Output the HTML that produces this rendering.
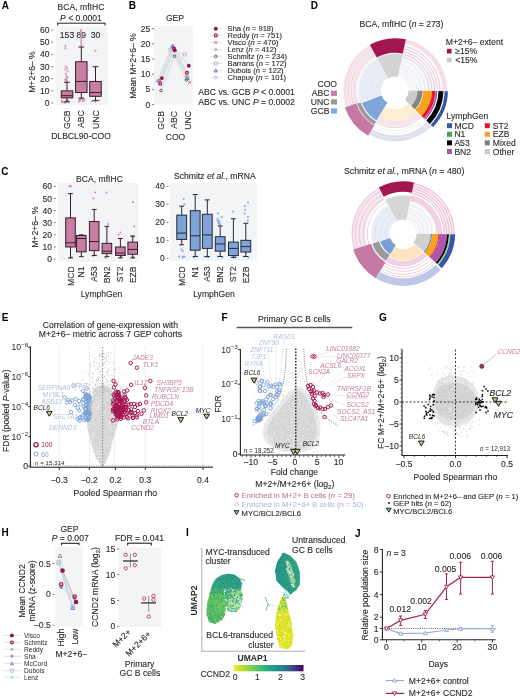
<!DOCTYPE html>
<html><head><meta charset="utf-8"><title>Figure</title>
<style>html,body{margin:0;padding:0;background:#fff;width:520px;height:698px;overflow:hidden}
svg{display:block;filter:blur(0.3px)}text{font-family:"Liberation Sans", sans-serif}</style></head>
<body>
<svg width="520" height="698" viewBox="0 0 520 698" font-family='"Liberation Sans", sans-serif' fill="#2b2b2b"><text x="1.8" y="8.9" font-size="10" fill="#000" font-weight="bold">A</text>
<text x="81" y="9.6" font-size="8.6" text-anchor="middle" stroke="#2b2b2b" stroke-width="0.12">BCA, mfIHC</text>
<text x="81" y="20.6" font-size="8.6" text-anchor="middle" stroke="#2b2b2b" stroke-width="0.12"><tspan font-style="italic">P</tspan> &lt; 0.0001</text>
<line x1="57.2" y1="23.2" x2="105.5" y2="23.2" stroke="#222" stroke-width="1"/>
<line x1="57.7" y1="23.2" x2="57.7" y2="25.6" stroke="#222" stroke-width="1"/>
<line x1="105" y1="23.2" x2="105" y2="25.6" stroke="#222" stroke-width="1"/>
<rect x="55.6" y="26.5" width="52" height="78.5" fill="#f3f4f6"/>
<text x="49.4" y="106.06" font-size="8.5" text-anchor="end" stroke="#2b2b2b" stroke-width="0.12">0</text>
<line x1="51.1" y1="103" x2="53.3" y2="103" stroke="#555" stroke-width="0.7"/>
<text x="49.4" y="93.89" font-size="8.5" text-anchor="end" stroke="#2b2b2b" stroke-width="0.12">10</text>
<line x1="51.1" y1="90.83" x2="53.3" y2="90.83" stroke="#555" stroke-width="0.7"/>
<text x="49.4" y="81.72" font-size="8.5" text-anchor="end" stroke="#2b2b2b" stroke-width="0.12">20</text>
<line x1="51.1" y1="78.66" x2="53.3" y2="78.66" stroke="#555" stroke-width="0.7"/>
<text x="49.4" y="69.55" font-size="8.5" text-anchor="end" stroke="#2b2b2b" stroke-width="0.12">30</text>
<line x1="51.1" y1="66.49" x2="53.3" y2="66.49" stroke="#555" stroke-width="0.7"/>
<text x="49.4" y="57.38" font-size="8.5" text-anchor="end" stroke="#2b2b2b" stroke-width="0.12">40</text>
<line x1="51.1" y1="54.32" x2="53.3" y2="54.32" stroke="#555" stroke-width="0.7"/>
<text x="49.4" y="45.21" font-size="8.5" text-anchor="end" stroke="#2b2b2b" stroke-width="0.12">50</text>
<line x1="51.1" y1="42.15" x2="53.3" y2="42.15" stroke="#555" stroke-width="0.7"/>
<text x="49.4" y="33.04" font-size="8.5" text-anchor="end" stroke="#2b2b2b" stroke-width="0.12">60</text>
<line x1="51.1" y1="29.98" x2="53.3" y2="29.98" stroke="#555" stroke-width="0.7"/>
<text x="67" y="38.2" font-size="8.6" text-anchor="middle" stroke="#2b2b2b" stroke-width="0.12">153</text>
<text x="81.3" y="38.2" font-size="8.6" text-anchor="middle" stroke="#2b2b2b" stroke-width="0.12">89</text>
<text x="95.5" y="38.2" font-size="8.6" text-anchor="middle" stroke="#2b2b2b" stroke-width="0.12">30</text>
<circle cx="65.06" cy="102.63" r="1" fill="#d38fb3"/>
<circle cx="63.16" cy="102.03" r="1" fill="#d38fb3"/>
<circle cx="68.66" cy="101.54" r="1" fill="#d38fb3"/>
<circle cx="62.3" cy="101.05" r="1" fill="#d38fb3"/>
<circle cx="67.39" cy="100.57" r="1" fill="#d38fb3"/>
<circle cx="65.52" cy="102.39" r="1" fill="#d38fb3"/>
<circle cx="62.14" cy="101.78" r="1" fill="#d38fb3"/>
<circle cx="67.08" cy="101.3" r="1" fill="#d38fb3"/>
<circle cx="61.91" cy="100.81" r="1" fill="#d38fb3"/>
<circle cx="66.27" cy="100.2" r="1" fill="#d38fb3"/>
<circle cx="62.27" cy="102.27" r="1" fill="#d38fb3"/>
<circle cx="62.5" cy="101.66" r="1" fill="#d38fb3"/>
<circle cx="66.1" cy="81.7" r="1" fill="#d38fb3"/>
<circle cx="67.15" cy="80.49" r="1" fill="#d38fb3"/>
<circle cx="65.32" cy="79.88" r="1" fill="#d38fb3"/>
<circle cx="65.58" cy="79.27" r="1" fill="#d38fb3"/>
<circle cx="66.63" cy="78.66" r="1" fill="#d38fb3"/>
<circle cx="67.46" cy="77.44" r="1" fill="#d38fb3"/>
<circle cx="66.5" cy="76.23" r="1" fill="#d38fb3"/>
<circle cx="66.03" cy="73.79" r="1" fill="#d38fb3"/>
<circle cx="67.54" cy="71.36" r="1" fill="#d38fb3"/>
<circle cx="65.12" cy="69.53" r="1" fill="#d38fb3"/>
<circle cx="67.23" cy="68.32" r="1" fill="#d38fb3"/>
<circle cx="65.75" cy="66.49" r="1" fill="#d38fb3"/>
<circle cx="65.38" cy="48.23" r="1" fill="#d38fb3"/>
<circle cx="65.31" cy="45.8" r="1" fill="#d38fb3"/>
<circle cx="81.07" cy="45.8" r="1" fill="#d38fb3"/>
<circle cx="81.68" cy="43.98" r="1" fill="#d38fb3"/>
<circle cx="80.92" cy="42.15" r="1" fill="#d38fb3"/>
<circle cx="81.4" cy="40.32" r="1" fill="#d38fb3"/>
<circle cx="81.47" cy="38.5" r="1" fill="#d38fb3"/>
<circle cx="81.15" cy="36.67" r="1" fill="#d38fb3"/>
<circle cx="81.36" cy="34.85" r="1" fill="#d38fb3"/>
<circle cx="80.78" cy="33.02" r="1" fill="#d38fb3"/>
<circle cx="80.77" cy="31.2" r="1" fill="#d38fb3"/>
<circle cx="80.95" cy="29.98" r="1" fill="#d38fb3"/>
<circle cx="83.28" cy="101.17" r="1" fill="#d38fb3"/>
<circle cx="80.5" cy="100.57" r="1" fill="#d38fb3"/>
<circle cx="79.26" cy="99.96" r="1" fill="#d38fb3"/>
<circle cx="82.24" cy="99.35" r="1" fill="#d38fb3"/>
<circle cx="80.79" cy="98.74" r="1" fill="#d38fb3"/>
<circle cx="79.1" cy="101.78" r="1" fill="#d38fb3"/>
<circle cx="84.54" cy="99.59" r="1" fill="#d38fb3"/>
<circle cx="83.49" cy="100.81" r="1" fill="#d38fb3"/>
<circle cx="95.5" cy="50.67" r="1" fill="#d38fb3"/>
<circle cx="92" cy="101.17" r="1" fill="#d38fb3"/>
<circle cx="99" cy="100.57" r="1" fill="#d38fb3"/>
<circle cx="95.5" cy="101.78" r="1" fill="#d38fb3"/>
<line x1="67" y1="82.31" x2="67" y2="90.83" stroke="#3a1d2c" stroke-width="1"/>
<line x1="67" y1="97.89" x2="67" y2="101.78" stroke="#3a1d2c" stroke-width="1"/>
<line x1="64.12" y1="82.31" x2="69.88" y2="82.31" stroke="#3a1d2c" stroke-width="1"/>
<line x1="64.12" y1="101.78" x2="69.88" y2="101.78" stroke="#3a1d2c" stroke-width="1"/>
<rect x="61.25" y="90.83" width="11.5" height="7.06" fill="#c67fa2" stroke="#3a1d2c" stroke-width="1"/>
<line x1="61.25" y1="95.7" x2="72.75" y2="95.7" stroke="#3a1d2c" stroke-width="1"/>
<line x1="81.3" y1="47.02" x2="81.3" y2="61.74" stroke="#3a1d2c" stroke-width="1"/>
<line x1="81.3" y1="92.53" x2="81.3" y2="98.13" stroke="#3a1d2c" stroke-width="1"/>
<line x1="78.42" y1="47.02" x2="84.17" y2="47.02" stroke="#3a1d2c" stroke-width="1"/>
<line x1="78.42" y1="98.13" x2="84.17" y2="98.13" stroke="#3a1d2c" stroke-width="1"/>
<rect x="75.55" y="61.74" width="11.5" height="30.79" fill="#c67fa2" stroke="#3a1d2c" stroke-width="1"/>
<line x1="75.55" y1="81.46" x2="87.05" y2="81.46" stroke="#3a1d2c" stroke-width="1"/>
<line x1="95.5" y1="66.73" x2="95.5" y2="81.46" stroke="#3a1d2c" stroke-width="1"/>
<line x1="95.5" y1="96.31" x2="95.5" y2="100.57" stroke="#3a1d2c" stroke-width="1"/>
<line x1="92.62" y1="66.73" x2="98.38" y2="66.73" stroke="#3a1d2c" stroke-width="1"/>
<line x1="92.62" y1="100.57" x2="98.38" y2="100.57" stroke="#3a1d2c" stroke-width="1"/>
<rect x="89.75" y="81.46" width="11.5" height="14.85" fill="#c67fa2" stroke="#3a1d2c" stroke-width="1"/>
<line x1="89.75" y1="92.53" x2="101.25" y2="92.53" stroke="#3a1d2c" stroke-width="1"/>
<text x="70.05" y="110.4" font-size="8.6" text-anchor="end" transform="rotate(-90 70.05 110.4)" stroke="#2b2b2b" stroke-width="0.12">GCB</text>
<text x="84.35" y="110.4" font-size="8.6" text-anchor="end" transform="rotate(-90 84.35 110.4)" stroke="#2b2b2b" stroke-width="0.12">ABC</text>
<text x="98.55" y="110.4" font-size="8.6" text-anchor="end" transform="rotate(-90 98.55 110.4)" stroke="#2b2b2b" stroke-width="0.12">UNC</text>
<text x="81" y="139.2" font-size="8.6" text-anchor="middle" stroke="#2b2b2b" stroke-width="0.12">DLBCL90-COO</text>
<text x="34.5" y="72" font-size="8.6" text-anchor="middle" transform="rotate(-90 34.5 72)" stroke="#2b2b2b" stroke-width="0.12">M+2+6– %</text>
<text x="128.7" y="8.8" font-size="10" fill="#000" font-weight="bold">B</text>
<text x="175" y="21" font-size="8.6" text-anchor="middle" stroke="#2b2b2b" stroke-width="0.12">GEP</text>
<rect x="153.5" y="26" width="39.2" height="78.5" fill="#f3f4f6"/>
<text x="150.2" y="107.66" font-size="8.5" text-anchor="end" stroke="#2b2b2b" stroke-width="0.12">0</text>
<line x1="151.9" y1="104.6" x2="154.1" y2="104.6" stroke="#555" stroke-width="0.7"/>
<text x="150.2" y="92.46" font-size="8.5" text-anchor="end" stroke="#2b2b2b" stroke-width="0.12">5</text>
<line x1="151.9" y1="89.4" x2="154.1" y2="89.4" stroke="#555" stroke-width="0.7"/>
<text x="150.2" y="77.26" font-size="8.5" text-anchor="end" stroke="#2b2b2b" stroke-width="0.12">10</text>
<line x1="151.9" y1="74.2" x2="154.1" y2="74.2" stroke="#555" stroke-width="0.7"/>
<text x="150.2" y="62.06" font-size="8.5" text-anchor="end" stroke="#2b2b2b" stroke-width="0.12">15</text>
<line x1="151.9" y1="59" x2="154.1" y2="59" stroke="#555" stroke-width="0.7"/>
<text x="150.2" y="46.86" font-size="8.5" text-anchor="end" stroke="#2b2b2b" stroke-width="0.12">20</text>
<line x1="151.9" y1="43.8" x2="154.1" y2="43.8" stroke="#555" stroke-width="0.7"/>
<text x="150.2" y="31.66" font-size="8.5" text-anchor="end" stroke="#2b2b2b" stroke-width="0.12">25</text>
<line x1="151.9" y1="28.6" x2="154.1" y2="28.6" stroke="#555" stroke-width="0.7"/>
<text x="164.05" y="111" font-size="8.6" text-anchor="end" transform="rotate(-90 164.05 111)" stroke="#2b2b2b" stroke-width="0.12">GCB</text>
<text x="177.35" y="111" font-size="8.6" text-anchor="end" transform="rotate(-90 177.35 111)" stroke="#2b2b2b" stroke-width="0.12">ABC</text>
<text x="191.05" y="111" font-size="8.6" text-anchor="end" transform="rotate(-90 191.05 111)" stroke="#2b2b2b" stroke-width="0.12">UNC</text>
<text x="175.5" y="140" font-size="8.6" text-anchor="middle" stroke="#2b2b2b" stroke-width="0.12">COO</text>
<text x="135.5" y="66" font-size="8.6" text-anchor="middle" transform="rotate(-90 135.5 66)" stroke="#2b2b2b" stroke-width="0.12">Mean M+2+6– %</text>
<path d="M161.9,78.1 L174.8,50.2 L188.8,65.7" fill="none" stroke="#dcdfe4" stroke-width="1.8" stroke-opacity="0.85"/>
<path d="M160.2,83.7 L173.9,48.5 L187.0,72.8" fill="none" stroke="#dcdfe4" stroke-width="1.8" stroke-opacity="0.85"/>
<path d="M160.5,80.5 L174.5,49.0 L189.8,82.4" fill="none" stroke="#dcdfe4" stroke-width="1.8" stroke-opacity="0.85"/>
<path d="M159.0,80.0 L173.0,47.5 L186.3,76.5" fill="none" stroke="#dcdfe4" stroke-width="1.8" stroke-opacity="0.85"/>
<path d="M161.0,90.6 L174.5,56.2 L186.4,79.9" fill="none" stroke="#dcdfe4" stroke-width="1.8" stroke-opacity="0.85"/>
<path d="M158.5,81.0 L170.5,49.8 L184.7,54.5" fill="none" stroke="#dcdfe4" stroke-width="1.8" stroke-opacity="0.85"/>
<path d="M158.0,80.7 L172.5,46.0 L187.5,78.0" fill="none" stroke="#dcdfe4" stroke-width="1.8" stroke-opacity="0.85"/>
<path d="M159.0,82.0 L173.5,46.5 L188.0,77.0" fill="none" stroke="#dcdfe4" stroke-width="1.8" stroke-opacity="0.85"/>
<path d="M157.34,80.86 L160.66,80.86 L159,83.66Z" fill="none" stroke="#bac6ea" stroke-width="0.9"/>
<path d="M171.84,45.36 L175.16,45.36 L173.5,48.16Z" fill="none" stroke="#bac6ea" stroke-width="0.9"/>
<path d="M186.34,75.86 L189.66,75.86 L188,78.66Z" fill="none" stroke="#bac6ea" stroke-width="0.9"/>
<path d="M156.34,81.95 L159.66,81.95 L158,79.12Z" fill="none" stroke="#5d6aa8" stroke-width="0.9"/>
<path d="M170.84,47.25 L174.16,47.25 L172.5,44.42Z" fill="none" stroke="#5d6aa8" stroke-width="0.9"/>
<path d="M185.84,79.25 L189.16,79.25 L187.5,76.42Z" fill="none" stroke="#5d6aa8" stroke-width="0.9"/>
<rect x="157.01" y="79.51" width="2.98" height="2.98" fill="none" stroke="#b3bde0" stroke-width="0.9"/>
<rect x="169.01" y="48.31" width="2.98" height="2.98" fill="none" stroke="#b3bde0" stroke-width="0.9"/>
<rect x="183.21" y="53.01" width="2.98" height="2.98" fill="none" stroke="#b3bde0" stroke-width="0.9"/>
<circle cx="161" cy="90.6" r="1.31" fill="none" stroke="#505050" stroke-width="0.9"/>
<circle cx="174.5" cy="56.2" r="1.31" fill="none" stroke="#505050" stroke-width="0.9"/>
<circle cx="186.4" cy="79.9" r="1.31" fill="none" stroke="#505050" stroke-width="0.9"/>
<circle cx="159" cy="80" r="1.05" fill="none" stroke="#909090" stroke-width="0.8"/>
<circle cx="173" cy="47.5" r="1.05" fill="none" stroke="#909090" stroke-width="0.8"/>
<circle cx="186.3" cy="76.5" r="1.05" fill="none" stroke="#909090" stroke-width="0.8"/>
<line x1="159.1" y1="79.1" x2="161.9" y2="81.9" stroke="#d05a88" stroke-width="0.9"/>
<line x1="159.1" y1="81.9" x2="161.9" y2="79.1" stroke="#d05a88" stroke-width="0.9"/>
<line x1="173.1" y1="47.6" x2="175.9" y2="50.4" stroke="#d05a88" stroke-width="0.9"/>
<line x1="173.1" y1="50.4" x2="175.9" y2="47.6" stroke="#d05a88" stroke-width="0.9"/>
<line x1="188.4" y1="81" x2="191.2" y2="83.8" stroke="#d05a88" stroke-width="0.9"/>
<line x1="188.4" y1="83.8" x2="191.2" y2="81" stroke="#d05a88" stroke-width="0.9"/>
<circle cx="160.2" cy="83.7" r="1.4" fill="none" stroke="#a61d50" stroke-width="1.25"/>
<circle cx="173.9" cy="48.5" r="1.4" fill="none" stroke="#a61d50" stroke-width="1.25"/>
<circle cx="187" cy="72.8" r="1.4" fill="none" stroke="#a61d50" stroke-width="1.25"/>
<circle cx="161.9" cy="78.1" r="1.93" fill="#8c1a4a"/>
<circle cx="174.8" cy="50.2" r="1.93" fill="#8c1a4a"/>
<circle cx="188.8" cy="65.7" r="1.93" fill="#8c1a4a"/>
<line x1="210.3" y1="28.7" x2="222" y2="28.7" stroke="#e2e4e8" stroke-width="1"/>
<circle cx="215.8" cy="28.7" r="1.98" fill="#8c1a4a"/>
<text x="227.6" y="31.3" font-size="7.55" stroke="#2b2b2b" stroke-width="0.12">Sha (<tspan font-style="italic">n</tspan> = 918)</text>
<line x1="210.3" y1="35.4" x2="222" y2="35.4" stroke="#e2e4e8" stroke-width="1"/>
<circle cx="215.8" cy="35.4" r="1.44" fill="none" stroke="#a61d50" stroke-width="1.25"/>
<text x="227.6" y="38" font-size="7.55" stroke="#2b2b2b" stroke-width="0.12">Reddy (<tspan font-style="italic">n</tspan> = 751)</text>
<line x1="210.3" y1="42.5" x2="222" y2="42.5" stroke="#e2e4e8" stroke-width="1"/>
<line x1="214.36" y1="41.06" x2="217.24" y2="43.94" stroke="#d05a88" stroke-width="0.9"/>
<line x1="214.36" y1="43.94" x2="217.24" y2="41.06" stroke="#d05a88" stroke-width="0.9"/>
<text x="227.6" y="45.1" font-size="7.55" stroke="#2b2b2b" stroke-width="0.12">Visco (<tspan font-style="italic">n</tspan> = 470)</text>
<line x1="210.3" y1="49.6" x2="222" y2="49.6" stroke="#e2e4e8" stroke-width="1"/>
<circle cx="215.8" cy="49.6" r="1.08" fill="none" stroke="#909090" stroke-width="0.8"/>
<text x="227.6" y="52.2" font-size="7.55" stroke="#2b2b2b" stroke-width="0.12">Lenz (<tspan font-style="italic">n</tspan> = 412)</text>
<line x1="210.3" y1="56.4" x2="222" y2="56.4" stroke="#e2e4e8" stroke-width="1"/>
<circle cx="215.8" cy="56.4" r="1.35" fill="none" stroke="#505050" stroke-width="0.9"/>
<text x="227.6" y="59" font-size="7.55" stroke="#2b2b2b" stroke-width="0.12">Schmitz (<tspan font-style="italic">n</tspan> = 234)</text>
<line x1="210.3" y1="63.5" x2="222" y2="63.5" stroke="#e2e4e8" stroke-width="1"/>
<rect x="214.27" y="61.97" width="3.06" height="3.06" fill="none" stroke="#b3bde0" stroke-width="0.9"/>
<text x="227.6" y="66.1" font-size="7.55" stroke="#2b2b2b" stroke-width="0.12">Barrans (<tspan font-style="italic">n</tspan> = 172)</text>
<line x1="210.3" y1="70.6" x2="222" y2="70.6" stroke="#e2e4e8" stroke-width="1"/>
<path d="M214.09,71.88 L217.51,71.88 L215.8,68.98Z" fill="none" stroke="#5d6aa8" stroke-width="0.9"/>
<text x="227.6" y="73.2" font-size="7.55" stroke="#2b2b2b" stroke-width="0.12">Dubois (<tspan font-style="italic">n</tspan> = 122)</text>
<line x1="210.3" y1="77.7" x2="222" y2="77.7" stroke="#e2e4e8" stroke-width="1"/>
<path d="M214.09,76.53 L217.51,76.53 L215.8,79.41Z" fill="none" stroke="#bac6ea" stroke-width="0.9"/>
<text x="227.6" y="80.3" font-size="7.55" stroke="#2b2b2b" stroke-width="0.12">Chapuy (<tspan font-style="italic">n</tspan> = 101)</text>
<text x="198.3" y="94.8" font-size="8.65" stroke="#2b2b2b" stroke-width="0.12">ABC vs. GCB <tspan font-style="italic">P</tspan> &lt; 0.0001</text>
<text x="198.3" y="105" font-size="8.65" stroke="#2b2b2b" stroke-width="0.12">ABC vs. UNC <tspan font-style="italic">P</tspan> = 0.0002</text>
<text x="1.2" y="174.6" font-size="10" fill="#000" font-weight="bold">C</text>
<text x="99.5" y="181.5" font-size="8.6" text-anchor="middle" stroke="#2b2b2b" stroke-width="0.12">BCA, mfIHC</text>
<rect x="57.9" y="183" width="80.7" height="78.8" fill="#f3f4f6"/>
<text x="52" y="262.16" font-size="8.5" text-anchor="end" stroke="#2b2b2b" stroke-width="0.12">0</text>
<line x1="53.7" y1="259.1" x2="55.9" y2="259.1" stroke="#555" stroke-width="0.7"/>
<text x="52" y="250.04" font-size="8.5" text-anchor="end" stroke="#2b2b2b" stroke-width="0.12">10</text>
<line x1="53.7" y1="246.98" x2="55.9" y2="246.98" stroke="#555" stroke-width="0.7"/>
<text x="52" y="237.92" font-size="8.5" text-anchor="end" stroke="#2b2b2b" stroke-width="0.12">20</text>
<line x1="53.7" y1="234.86" x2="55.9" y2="234.86" stroke="#555" stroke-width="0.7"/>
<text x="52" y="225.8" font-size="8.5" text-anchor="end" stroke="#2b2b2b" stroke-width="0.12">30</text>
<line x1="53.7" y1="222.74" x2="55.9" y2="222.74" stroke="#555" stroke-width="0.7"/>
<text x="52" y="213.68" font-size="8.5" text-anchor="end" stroke="#2b2b2b" stroke-width="0.12">40</text>
<line x1="53.7" y1="210.62" x2="55.9" y2="210.62" stroke="#555" stroke-width="0.7"/>
<text x="52" y="201.56" font-size="8.5" text-anchor="end" stroke="#2b2b2b" stroke-width="0.12">50</text>
<line x1="53.7" y1="198.5" x2="55.9" y2="198.5" stroke="#555" stroke-width="0.7"/>
<text x="52" y="189.44" font-size="8.5" text-anchor="end" stroke="#2b2b2b" stroke-width="0.12">60</text>
<line x1="53.7" y1="186.38" x2="55.9" y2="186.38" stroke="#555" stroke-width="0.7"/>
<circle cx="69.48" cy="186.38" r="1.05" fill="#d38fb3"/>
<circle cx="70.8" cy="186.14" r="1.05" fill="#d38fb3"/>
<circle cx="70.6" cy="257.89" r="1.05" fill="#d38fb3"/>
<circle cx="72" cy="257.28" r="1.05" fill="#d38fb3"/>
<line x1="70.5" y1="193.65" x2="70.5" y2="217.89" stroke="#3a1d2c" stroke-width="1"/>
<line x1="70.5" y1="246.98" x2="70.5" y2="257.89" stroke="#3a1d2c" stroke-width="1"/>
<line x1="68.1" y1="193.65" x2="72.9" y2="193.65" stroke="#3a1d2c" stroke-width="1"/>
<line x1="68.1" y1="257.89" x2="72.9" y2="257.89" stroke="#3a1d2c" stroke-width="1"/>
<rect x="65.7" y="217.89" width="9.6" height="29.09" fill="#c67fa2" stroke="#3a1d2c" stroke-width="1"/>
<line x1="65.7" y1="242.74" x2="75.3" y2="242.74" stroke="#3a1d2c" stroke-width="1"/>
<line x1="81.3" y1="234.86" x2="81.3" y2="235.47" stroke="#3a1d2c" stroke-width="1"/>
<line x1="81.3" y1="251.83" x2="81.3" y2="256.68" stroke="#3a1d2c" stroke-width="1"/>
<line x1="78.9" y1="234.86" x2="83.7" y2="234.86" stroke="#3a1d2c" stroke-width="1"/>
<line x1="78.9" y1="256.68" x2="83.7" y2="256.68" stroke="#3a1d2c" stroke-width="1"/>
<rect x="76.5" y="235.47" width="9.6" height="16.36" fill="#c67fa2" stroke="#3a1d2c" stroke-width="1"/>
<line x1="76.5" y1="238.5" x2="86.1" y2="238.5" stroke="#3a1d2c" stroke-width="1"/>
<circle cx="95.12" cy="192.44" r="1.05" fill="#d38fb3"/>
<circle cx="93.35" cy="198.5" r="1.05" fill="#d38fb3"/>
<circle cx="96.12" cy="255.46" r="1.05" fill="#d38fb3"/>
<circle cx="92.67" cy="256.07" r="1.05" fill="#d38fb3"/>
<line x1="94.2" y1="209.41" x2="94.2" y2="221.53" stroke="#3a1d2c" stroke-width="1"/>
<line x1="94.2" y1="250.62" x2="94.2" y2="255.46" stroke="#3a1d2c" stroke-width="1"/>
<line x1="91.8" y1="209.41" x2="96.6" y2="209.41" stroke="#3a1d2c" stroke-width="1"/>
<line x1="91.8" y1="255.46" x2="96.6" y2="255.46" stroke="#3a1d2c" stroke-width="1"/>
<rect x="89.4" y="221.53" width="9.6" height="29.09" fill="#c67fa2" stroke="#3a1d2c" stroke-width="1"/>
<line x1="89.4" y1="241.53" x2="99" y2="241.53" stroke="#3a1d2c" stroke-width="1"/>
<circle cx="106.57" cy="192.44" r="1.05" fill="#d38fb3"/>
<circle cx="107.93" cy="223.95" r="1.05" fill="#d38fb3"/>
<circle cx="105.51" cy="257.89" r="1.05" fill="#d38fb3"/>
<line x1="106.9" y1="226.38" x2="106.9" y2="243.34" stroke="#3a1d2c" stroke-width="1"/>
<line x1="106.9" y1="253.65" x2="106.9" y2="256.68" stroke="#3a1d2c" stroke-width="1"/>
<line x1="104.5" y1="226.38" x2="109.3" y2="226.38" stroke="#3a1d2c" stroke-width="1"/>
<line x1="104.5" y1="256.68" x2="109.3" y2="256.68" stroke="#3a1d2c" stroke-width="1"/>
<rect x="102.1" y="243.34" width="9.6" height="10.3" fill="#c67fa2" stroke="#3a1d2c" stroke-width="1"/>
<line x1="102.1" y1="251.22" x2="111.7" y2="251.22" stroke="#3a1d2c" stroke-width="1"/>
<circle cx="120.36" cy="232.44" r="1.05" fill="#d38fb3"/>
<circle cx="118.56" cy="234.86" r="1.05" fill="#d38fb3"/>
<circle cx="121.07" cy="257.28" r="1.05" fill="#d38fb3"/>
<circle cx="121.46" cy="256.68" r="1.05" fill="#d38fb3"/>
<line x1="120.4" y1="238.5" x2="120.4" y2="246.98" stroke="#3a1d2c" stroke-width="1"/>
<line x1="120.4" y1="255.46" x2="120.4" y2="257.89" stroke="#3a1d2c" stroke-width="1"/>
<line x1="118" y1="238.5" x2="122.8" y2="238.5" stroke="#3a1d2c" stroke-width="1"/>
<line x1="118" y1="257.89" x2="122.8" y2="257.89" stroke="#3a1d2c" stroke-width="1"/>
<rect x="115.6" y="246.98" width="9.6" height="8.48" fill="#c67fa2" stroke="#3a1d2c" stroke-width="1"/>
<line x1="115.6" y1="253.04" x2="125.2" y2="253.04" stroke="#3a1d2c" stroke-width="1"/>
<circle cx="132.99" cy="202.14" r="1.05" fill="#d38fb3"/>
<circle cx="134.2" cy="226.38" r="1.05" fill="#d38fb3"/>
<circle cx="131.95" cy="236.07" r="1.05" fill="#d38fb3"/>
<circle cx="133.48" cy="237.28" r="1.05" fill="#d38fb3"/>
<circle cx="133.08" cy="257.89" r="1.05" fill="#d38fb3"/>
<circle cx="133.02" cy="257.28" r="1.05" fill="#d38fb3"/>
<circle cx="132.52" cy="256.68" r="1.05" fill="#d38fb3"/>
<line x1="132.7" y1="236.07" x2="132.7" y2="242.13" stroke="#3a1d2c" stroke-width="1"/>
<line x1="132.7" y1="254.25" x2="132.7" y2="257.89" stroke="#3a1d2c" stroke-width="1"/>
<line x1="130.3" y1="236.07" x2="135.1" y2="236.07" stroke="#3a1d2c" stroke-width="1"/>
<line x1="130.3" y1="257.89" x2="135.1" y2="257.89" stroke="#3a1d2c" stroke-width="1"/>
<rect x="127.9" y="242.13" width="9.6" height="12.12" fill="#c67fa2" stroke="#3a1d2c" stroke-width="1"/>
<line x1="127.9" y1="249.4" x2="137.5" y2="249.4" stroke="#3a1d2c" stroke-width="1"/>
<text x="73.55" y="266.4" font-size="8.6" text-anchor="end" transform="rotate(-90 73.55 266.4)" stroke="#2b2b2b" stroke-width="0.12">MCD</text>
<text x="84.35" y="266.4" font-size="8.6" text-anchor="end" transform="rotate(-90 84.35 266.4)" stroke="#2b2b2b" stroke-width="0.12">N1</text>
<text x="97.25" y="266.4" font-size="8.6" text-anchor="end" transform="rotate(-90 97.25 266.4)" stroke="#2b2b2b" stroke-width="0.12">A53</text>
<text x="109.95" y="266.4" font-size="8.6" text-anchor="end" transform="rotate(-90 109.95 266.4)" stroke="#2b2b2b" stroke-width="0.12">BN2</text>
<text x="123.45" y="266.4" font-size="8.6" text-anchor="end" transform="rotate(-90 123.45 266.4)" stroke="#2b2b2b" stroke-width="0.12">ST2</text>
<text x="135.75" y="266.4" font-size="8.6" text-anchor="end" transform="rotate(-90 135.75 266.4)" stroke="#2b2b2b" stroke-width="0.12">EZB</text>
<text x="101.5" y="296.6" font-size="8.6" text-anchor="middle" stroke="#2b2b2b" stroke-width="0.12">LymphGen</text>
<text x="38" y="227" font-size="8.6" text-anchor="middle" transform="rotate(-90 38 227)" stroke="#2b2b2b" stroke-width="0.12">M+2+6– %</text>
<text x="214.8" y="178.8" font-size="8.6" text-anchor="middle" stroke="#2b2b2b" stroke-width="0.12">Schmitz <tspan font-style="italic">et al.</tspan>, mRNA</text>
<rect x="170.2" y="183" width="86.8" height="78" fill="#f3f4f6"/>
<text x="164.8" y="261.36" font-size="8.5" text-anchor="end" stroke="#2b2b2b" stroke-width="0.12">0</text>
<line x1="166.5" y1="258.3" x2="168.7" y2="258.3" stroke="#555" stroke-width="0.7"/>
<text x="164.8" y="243.39" font-size="8.5" text-anchor="end" stroke="#2b2b2b" stroke-width="0.12">10</text>
<line x1="166.5" y1="240.33" x2="168.7" y2="240.33" stroke="#555" stroke-width="0.7"/>
<text x="164.8" y="225.41" font-size="8.5" text-anchor="end" stroke="#2b2b2b" stroke-width="0.12">20</text>
<line x1="166.5" y1="222.35" x2="168.7" y2="222.35" stroke="#555" stroke-width="0.7"/>
<text x="164.8" y="207.44" font-size="8.5" text-anchor="end" stroke="#2b2b2b" stroke-width="0.12">30</text>
<line x1="166.5" y1="204.38" x2="168.7" y2="204.38" stroke="#555" stroke-width="0.7"/>
<text x="164.8" y="189.46" font-size="8.5" text-anchor="end" stroke="#2b2b2b" stroke-width="0.12">40</text>
<line x1="166.5" y1="186.4" x2="168.7" y2="186.4" stroke="#555" stroke-width="0.7"/>
<circle cx="183.74" cy="198.98" r="1.1" fill="#8fb0de"/>
<circle cx="184.37" cy="204.38" r="1.1" fill="#8fb0de"/>
<circle cx="181.54" cy="249.31" r="1.1" fill="#8fb0de"/>
<circle cx="182.68" cy="251.11" r="1.1" fill="#8fb0de"/>
<circle cx="179.06" cy="256.5" r="1.1" fill="#8fb0de"/>
<circle cx="182.91" cy="256.5" r="1.1" fill="#8fb0de"/>
<circle cx="182.58" cy="257.4" r="1.1" fill="#8fb0de"/>
<circle cx="184.66" cy="256.86" r="1.1" fill="#8fb0de"/>
<line x1="181.7" y1="206.17" x2="181.7" y2="215.16" stroke="#1f2a3a" stroke-width="1"/>
<line x1="181.7" y1="239.43" x2="181.7" y2="244.82" stroke="#1f2a3a" stroke-width="1"/>
<line x1="179.25" y1="206.17" x2="184.15" y2="206.17" stroke="#1f2a3a" stroke-width="1"/>
<line x1="179.25" y1="244.82" x2="184.15" y2="244.82" stroke="#1f2a3a" stroke-width="1"/>
<rect x="176.8" y="215.16" width="9.8" height="24.27" fill="#7fa3d6" stroke="#1f2a3a" stroke-width="1"/>
<line x1="176.8" y1="233.14" x2="186.6" y2="233.14" stroke="#1f2a3a" stroke-width="1"/>
<circle cx="197.13" cy="256.5" r="1.1" fill="#8fb0de"/>
<circle cx="193.91" cy="257.22" r="1.1" fill="#8fb0de"/>
<line x1="195.2" y1="194.49" x2="195.2" y2="210.67" stroke="#1f2a3a" stroke-width="1"/>
<line x1="195.2" y1="250.21" x2="195.2" y2="256.5" stroke="#1f2a3a" stroke-width="1"/>
<line x1="192.75" y1="194.49" x2="197.65" y2="194.49" stroke="#1f2a3a" stroke-width="1"/>
<line x1="192.75" y1="256.5" x2="197.65" y2="256.5" stroke="#1f2a3a" stroke-width="1"/>
<rect x="190.3" y="210.67" width="9.8" height="39.54" fill="#7fa3d6" stroke="#1f2a3a" stroke-width="1"/>
<line x1="190.3" y1="235.83" x2="200.1" y2="235.83" stroke="#1f2a3a" stroke-width="1"/>
<circle cx="206.61" cy="256.5" r="1.1" fill="#8fb0de"/>
<circle cx="208.31" cy="257.4" r="1.1" fill="#8fb0de"/>
<circle cx="204.44" cy="256.86" r="1.1" fill="#8fb0de"/>
<line x1="207.3" y1="199.88" x2="207.3" y2="214.26" stroke="#1f2a3a" stroke-width="1"/>
<line x1="207.3" y1="248.41" x2="207.3" y2="256.5" stroke="#1f2a3a" stroke-width="1"/>
<line x1="204.85" y1="199.88" x2="209.75" y2="199.88" stroke="#1f2a3a" stroke-width="1"/>
<line x1="204.85" y1="256.5" x2="209.75" y2="256.5" stroke="#1f2a3a" stroke-width="1"/>
<rect x="202.4" y="214.26" width="9.8" height="34.15" fill="#7fa3d6" stroke="#1f2a3a" stroke-width="1"/>
<line x1="202.4" y1="234.93" x2="212.2" y2="234.93" stroke="#1f2a3a" stroke-width="1"/>
<circle cx="219.97" cy="224.15" r="1.1" fill="#8fb0de"/>
<circle cx="218.21" cy="222.35" r="1.1" fill="#8fb0de"/>
<circle cx="217.9" cy="220.55" r="1.1" fill="#8fb0de"/>
<circle cx="217.55" cy="218.75" r="1.1" fill="#8fb0de"/>
<circle cx="221.81" cy="216.96" r="1.1" fill="#8fb0de"/>
<circle cx="217.98" cy="213.36" r="1.1" fill="#8fb0de"/>
<circle cx="218.69" cy="223.25" r="1.1" fill="#8fb0de"/>
<circle cx="219.55" cy="221.45" r="1.1" fill="#8fb0de"/>
<circle cx="222.43" cy="257.4" r="1.1" fill="#8fb0de"/>
<circle cx="217.68" cy="256.5" r="1.1" fill="#8fb0de"/>
<line x1="220.2" y1="225.94" x2="220.2" y2="236.73" stroke="#1f2a3a" stroke-width="1"/>
<line x1="220.2" y1="251.11" x2="220.2" y2="256.5" stroke="#1f2a3a" stroke-width="1"/>
<line x1="217.75" y1="225.94" x2="222.65" y2="225.94" stroke="#1f2a3a" stroke-width="1"/>
<line x1="217.75" y1="256.5" x2="222.65" y2="256.5" stroke="#1f2a3a" stroke-width="1"/>
<rect x="215.3" y="236.73" width="9.8" height="14.38" fill="#7fa3d6" stroke="#1f2a3a" stroke-width="1"/>
<line x1="215.3" y1="243.92" x2="225.1" y2="243.92" stroke="#1f2a3a" stroke-width="1"/>
<circle cx="233.1" cy="211.56" r="1.1" fill="#8fb0de"/>
<circle cx="233.7" cy="257.76" r="1.1" fill="#8fb0de"/>
<circle cx="235.7" cy="257.22" r="1.1" fill="#8fb0de"/>
<line x1="233.4" y1="218.75" x2="233.4" y2="242.12" stroke="#1f2a3a" stroke-width="1"/>
<line x1="233.4" y1="255.6" x2="233.4" y2="257.4" stroke="#1f2a3a" stroke-width="1"/>
<line x1="230.95" y1="218.75" x2="235.85" y2="218.75" stroke="#1f2a3a" stroke-width="1"/>
<line x1="230.95" y1="257.4" x2="235.85" y2="257.4" stroke="#1f2a3a" stroke-width="1"/>
<rect x="228.5" y="242.12" width="9.8" height="13.48" fill="#7fa3d6" stroke="#1f2a3a" stroke-width="1"/>
<line x1="228.5" y1="248.41" x2="238.3" y2="248.41" stroke="#1f2a3a" stroke-width="1"/>
<circle cx="247.72" cy="220.55" r="1.1" fill="#8fb0de"/>
<circle cx="247.98" cy="216.96" r="1.1" fill="#8fb0de"/>
<circle cx="244.47" cy="213.36" r="1.1" fill="#8fb0de"/>
<circle cx="245.29" cy="209.77" r="1.1" fill="#8fb0de"/>
<circle cx="244.95" cy="206.17" r="1.1" fill="#8fb0de"/>
<circle cx="248.11" cy="202.58" r="1.1" fill="#8fb0de"/>
<circle cx="248.55" cy="257.4" r="1.1" fill="#8fb0de"/>
<circle cx="243.71" cy="256.5" r="1.1" fill="#8fb0de"/>
<line x1="245.8" y1="223.25" x2="245.8" y2="240.33" stroke="#1f2a3a" stroke-width="1"/>
<line x1="245.8" y1="252.01" x2="245.8" y2="256.5" stroke="#1f2a3a" stroke-width="1"/>
<line x1="243.35" y1="223.25" x2="248.25" y2="223.25" stroke="#1f2a3a" stroke-width="1"/>
<line x1="243.35" y1="256.5" x2="248.25" y2="256.5" stroke="#1f2a3a" stroke-width="1"/>
<rect x="240.9" y="240.33" width="9.8" height="11.68" fill="#7fa3d6" stroke="#1f2a3a" stroke-width="1"/>
<line x1="240.9" y1="246.62" x2="250.7" y2="246.62" stroke="#1f2a3a" stroke-width="1"/>
<text x="184.75" y="266.4" font-size="8.6" text-anchor="end" transform="rotate(-90 184.75 266.4)" stroke="#2b2b2b" stroke-width="0.12">MCD</text>
<text x="198.25" y="266.4" font-size="8.6" text-anchor="end" transform="rotate(-90 198.25 266.4)" stroke="#2b2b2b" stroke-width="0.12">N1</text>
<text x="210.35" y="266.4" font-size="8.6" text-anchor="end" transform="rotate(-90 210.35 266.4)" stroke="#2b2b2b" stroke-width="0.12">A53</text>
<text x="223.25" y="266.4" font-size="8.6" text-anchor="end" transform="rotate(-90 223.25 266.4)" stroke="#2b2b2b" stroke-width="0.12">BN2</text>
<text x="236.45" y="266.4" font-size="8.6" text-anchor="end" transform="rotate(-90 236.45 266.4)" stroke="#2b2b2b" stroke-width="0.12">ST2</text>
<text x="248.85" y="266.4" font-size="8.6" text-anchor="end" transform="rotate(-90 248.85 266.4)" stroke="#2b2b2b" stroke-width="0.12">EZB</text>
<text x="214" y="297.3" font-size="8.6" text-anchor="middle" stroke="#2b2b2b" stroke-width="0.12">LymphGen</text>
<text x="310.8" y="8.7" font-size="10" fill="#000" font-weight="bold">D</text>
<text x="401.5" y="26.8" font-size="8.6" text-anchor="middle" stroke="#2b2b2b" stroke-width="0.12">BCA, mfIHC (<tspan font-style="italic">n</tspan> = 273)</text>
<text x="404.2" y="173.6" font-size="8.75" text-anchor="middle" stroke="#2b2b2b" stroke-width="0.12">Schmitz <tspan font-style="italic">et al.</tspan>, mRNA (<tspan font-style="italic">n</tspan> = 480)</text>
<text x="337" y="87.3" font-size="8.6" text-anchor="end" stroke="#2b2b2b" stroke-width="0.12">COO</text>
<text x="329.4" y="96.2" font-size="8.6" text-anchor="end" stroke="#2b2b2b" stroke-width="0.12">ABC</text>
<rect x="331" y="90.7" width="6" height="5.2" fill="#c87fa8"/>
<text x="329.4" y="104.8" font-size="8.6" text-anchor="end" stroke="#2b2b2b" stroke-width="0.12">UNC</text>
<rect x="331" y="99.3" width="6" height="5.2" fill="#9a9a9a"/>
<text x="329.4" y="113.8" font-size="8.6" text-anchor="end" stroke="#2b2b2b" stroke-width="0.12">GCB</text>
<rect x="331" y="108.3" width="6" height="5.2" fill="#84a8d8"/>
<text x="445.8" y="45.4" font-size="8.6" stroke="#2b2b2b" stroke-width="0.12">M+2+6– extent</text>
<rect x="446.9" y="48.8" width="4.7" height="4.7" fill="#a0174d"/>
<text x="455.2" y="53.8" font-size="8.6" stroke="#2b2b2b" stroke-width="0.12">≥15%</text>
<rect x="446.9" y="57.7" width="4.7" height="4.7" fill="#c9cacb"/>
<text x="455.2" y="63" font-size="8.6" stroke="#2b2b2b" stroke-width="0.12">&lt;15%</text>
<text x="446.5" y="118.8" font-size="8.6" stroke="#2b2b2b" stroke-width="0.12">LymphGen</text>
<rect x="447" y="123.2" width="5" height="5" fill="#3b56a6"/>
<text x="454.4" y="128.8" font-size="8.6" stroke="#2b2b2b" stroke-width="0.12">MCD</text>
<rect x="484.8" y="123.2" width="5" height="5" fill="#e3192a"/>
<text x="492.8" y="128.8" font-size="8.6" stroke="#2b2b2b" stroke-width="0.12">ST2</text>
<rect x="447" y="131.8" width="5" height="5" fill="#3fa64a"/>
<text x="454.4" y="137.4" font-size="8.6" stroke="#2b2b2b" stroke-width="0.12">N1</text>
<rect x="484.8" y="131.8" width="5" height="5" fill="#f4a021"/>
<text x="492.8" y="137.4" font-size="8.6" stroke="#2b2b2b" stroke-width="0.12">EZB</text>
<rect x="447" y="140.4" width="5" height="5" fill="#000"/>
<text x="454.4" y="146" font-size="8.6" stroke="#2b2b2b" stroke-width="0.12">A53</text>
<rect x="484.8" y="140.4" width="5" height="5" fill="#7d7d7d"/>
<text x="492.8" y="146" font-size="8.6" stroke="#2b2b2b" stroke-width="0.12">Mixed</text>
<rect x="447" y="149" width="5" height="5" fill="#a45aa8"/>
<text x="454.4" y="154.6" font-size="8.6" stroke="#2b2b2b" stroke-width="0.12">BN2</text>
<rect x="484.8" y="149" width="5" height="5" fill="#c8c8c8"/>
<text x="492.8" y="154.6" font-size="8.6" stroke="#2b2b2b" stroke-width="0.12">Other</text>
<path d="M404.92,39.16 A52,52 0 0 1 446.99,91.11 L442.49,91.03 A47.5,47.5 0 0 0 404.06,43.57Z" fill="#f3d3e2" fill-opacity="0.75"/>
<path d="M403.78,45.05 A46,46 0 0 1 440.99,91 L408,90.43 A13,13 0 0 0 397.48,77.44Z" fill="#f4f5f8" fill-opacity="0.7"/>
<path d="M416.94,111.39 A30.5,30.5 0 0 1 379.29,116.34 L385.21,106.49 A19,19 0 0 0 408.67,103.4Z" fill="#fbe3b8" fill-opacity="0.6"/>
<path d="M421.26,115.56 A36.5,36.5 0 0 1 376.2,121.49 L379.29,116.34 A30.5,30.5 0 0 0 416.94,111.39Z" fill="#f2d3e0" fill-opacity="0.6"/>
<path d="M432.05,125.97 A51.5,51.5 0 0 1 368.48,134.34 L371.82,128.77 A45,45 0 0 0 427.37,121.46Z" fill="#dde1eb" fill-opacity="0.8"/>
<path d="M346.14,107.99 A52,52 0 0 1 369.79,44.72 L376.58,56.96 A38,38 0 0 0 359.29,103.2Z" fill="#f4e0ea" fill-opacity="0.7"/>
<path d="M360.23,102.85 A37,37 0 0 1 377.06,57.84 L388.21,77.96 A14,14 0 0 0 381.84,94.99Z" fill="#e5ebf5" fill-opacity="0.85"/>
<path d="M401.49,56.82 A34,34 0 0 1 428.99,90.79" fill="none" stroke="#e2aec8" stroke-width="0.75" stroke-opacity="0.85"/>
<path d="M402.02,54.08 A36.8,36.8 0 0 1 431.79,90.84" fill="none" stroke="#e2aec8" stroke-width="0.75" stroke-opacity="0.85"/>
<path d="M402.54,51.43 A39.5,39.5 0 0 1 434.49,90.89" fill="none" stroke="#e2aec8" stroke-width="0.75" stroke-opacity="0.85"/>
<path d="M403.05,48.78 A42.2,42.2 0 0 1 437.19,90.94" fill="none" stroke="#e2aec8" stroke-width="0.75" stroke-opacity="0.85"/>
<path d="M403.59,46.03 A45,45 0 0 1 439.99,90.99" fill="none" stroke="#e2aec8" stroke-width="0.75" stroke-opacity="0.85"/>
<path d="M398.43,72.53 A18,18 0 0 1 413,90.51" fill="none" stroke="#e6e8ee" stroke-width="0.7" stroke-opacity="0.9"/>
<path d="M399.2,68.6 A22,22 0 0 1 417,90.58" fill="none" stroke="#e6e8ee" stroke-width="0.7" stroke-opacity="0.9"/>
<path d="M399.96,64.68 A26,26 0 0 1 421,90.65" fill="none" stroke="#e6e8ee" stroke-width="0.7" stroke-opacity="0.9"/>
<path d="M400.72,60.75 A30,30 0 0 1 425,90.72" fill="none" stroke="#e6e8ee" stroke-width="0.7" stroke-opacity="0.9"/>
<path d="M421.98,116.25 A37.5,37.5 0 0 1 375.69,122.34" fill="none" stroke="#dcc3cf" stroke-width="0.9" stroke-opacity="0.8"/>
<path d="M424.13,118.33 A40.5,40.5 0 0 1 374.14,124.92" fill="none" stroke="#eedde5" stroke-width="0.7" stroke-opacity="0.8"/>
<path d="M425.93,120.07 A43,43 0 0 1 372.85,127.06" fill="none" stroke="#eedde5" stroke-width="0.7" stroke-opacity="0.8"/>
<path d="M428.45,122.5 A46.5,46.5 0 0 1 371.05,130.06" fill="none" stroke="#cfd5e2" stroke-width="0.8" stroke-opacity="0.8"/>
<path d="M430.61,124.59 A49.5,49.5 0 0 1 369.51,132.63" fill="none" stroke="#cfd5e2" stroke-width="0.8" stroke-opacity="0.8"/>
<path d="M356.47,104.22 A41,41 0 0 1 375.12,54.34" fill="none" stroke="#ecc3d6" stroke-width="0.7" stroke-opacity="0.8"/>
<path d="M353.65,105.25 A44,44 0 0 1 373.67,51.72" fill="none" stroke="#ecc3d6" stroke-width="0.7" stroke-opacity="0.8"/>
<path d="M350.83,106.27 A47,47 0 0 1 372.21,49.09" fill="none" stroke="#ecc3d6" stroke-width="0.7" stroke-opacity="0.8"/>
<path d="M348.02,107.3 A50,50 0 0 1 370.76,46.47" fill="none" stroke="#ecc3d6" stroke-width="0.7" stroke-opacity="0.8"/>
<path d="M377.15,96.7 A19,19 0 0 1 385.79,73.58" fill="none" stroke="#d5deee" stroke-width="0.6" stroke-opacity="0.7"/>
<path d="M372.45,98.41 A24,24 0 0 1 383.36,69.21" fill="none" stroke="#d5deee" stroke-width="0.6" stroke-opacity="0.7"/>
<path d="M367.75,100.12 A29,29 0 0 1 380.94,64.84" fill="none" stroke="#d5deee" stroke-width="0.6" stroke-opacity="0.7"/>
<path d="M363.52,101.66 A33.5,33.5 0 0 1 378.76,60.9" fill="none" stroke="#d5deee" stroke-width="0.6" stroke-opacity="0.7"/>
<path d="M369.79,44.72 A52,52 0 0 1 405.81,39.34 L402.8,53.52 A37.5,37.5 0 0 0 376.82,57.4Z" fill="#a2154e"/>
<path d="M377.3,58.28 A36.5,36.5 0 0 1 402.59,54.5 L397.81,77 A13.5,13.5 0 0 0 388.46,78.39Z" fill="#d3d3d4"/>
<path d="M417.5,90.67 A22.5,22.5 0 0 1 411.19,105.83 L404.57,99.44 A13.3,13.3 0 0 0 408.3,90.48Z" fill="#cbcbcb"/>
<path d="M422.69,90.78 A27.7,27.7 0 0 1 414.93,109.44 L411.19,105.83 A22.5,22.5 0 0 0 417.5,90.67Z" fill="#858585"/>
<path d="M431.99,90.97 A37,37 0 0 1 421.62,115.9 L415.36,109.86 A28.3,28.3 0 0 0 423.29,90.79Z" fill="#f6a320"/>
<path d="M435.39,91.05 A40.4,40.4 0 0 1 424.06,118.26 L421.62,115.9 A37,37 0 0 0 431.99,90.97Z" fill="#e3192a"/>
<path d="M437.49,91.09 A42.5,42.5 0 0 1 425.57,119.72 L424.06,118.26 A40.4,40.4 0 0 0 435.39,91.05Z" fill="#b562b2"/>
<path d="M443.49,91.22 A48.5,48.5 0 0 1 429.89,123.89 L426.36,120.49 A43.6,43.6 0 0 0 438.59,91.11Z" fill="#050505"/>
<path d="M447.99,91.31 A53,53 0 0 1 433.13,127.02 L430.68,124.66 A49.6,49.6 0 0 0 444.59,91.24Z" fill="#3a55a5"/>
<path d="M368.1,135.87 A53,53 0 0 1 344.89,107.46 L356.23,103.55 A41,41 0 0 0 374.19,125.53Z" fill="#c57aa5"/>
<path d="M374.24,124.74 A40.3,40.3 0 0 1 357.01,103.65 L360.59,102.38 A36.5,36.5 0 0 0 376.2,121.49Z" fill="#9b9b9b"/>
<path d="M376.45,120.47 A35.5,35.5 0 0 1 361.86,102.92 L381.46,95.4 A14.5,14.5 0 0 0 387.42,102.56Z" fill="#7fa5d9"/>
<circle cx="395" cy="90.2" r="13.5" fill="#fff"/>
<path d="M413.12,182.36 A52,52 0 0 1 455.19,234.31 L444.19,234.12 A41,41 0 0 0 411.02,193.15Z" fill="#f6e2ec" fill-opacity="0.6"/>
<path d="M410.64,195.12 A39,39 0 0 1 442.19,234.08 L436.19,233.98 A33,33 0 0 0 409.5,201.01Z" fill="#ebbfd5" fill-opacity="0.7"/>
<path d="M409.31,201.99 A32,32 0 0 1 435.2,233.96 L416.2,233.63 A13,13 0 0 0 405.68,220.64Z" fill="#f4f5f8" fill-opacity="0.7"/>
<path d="M422.62,252.16 A27,27 0 0 1 389.29,256.54 L394.96,247.11 A16,16 0 0 0 414.71,244.51Z" fill="#fbd9a6" fill-opacity="0.7"/>
<path d="M426.94,256.32 A33,33 0 0 1 386.2,261.69 L389.04,256.97 A27.5,27.5 0 0 0 422.98,252.5Z" fill="#e9bcd6" fill-opacity="0.7"/>
<path d="M440.97,269.87 A52.5,52.5 0 0 1 376.16,278.4 L380.02,271.97 A45,45 0 0 0 435.57,264.66Z" fill="#b9c5e7" fill-opacity="0.95"/>
<path d="M354.03,250.33 A52,52 0 0 1 377.99,187.92 L384.78,200.16 A38,38 0 0 0 367.27,245.77Z" fill="#f3dde8" fill-opacity="0.7"/>
<path d="M372.94,243.82 A32,32 0 0 1 387.69,205.41 L396.41,221.16 A14,14 0 0 0 389.96,237.96Z" fill="#e4ebf6" fill-opacity="0.85"/>
<path d="M411.02,193.15 A41,41 0 0 1 444.19,234.12" fill="none" stroke="#dca0bf" stroke-width="0.8" stroke-opacity="0.85"/>
<path d="M411.5,190.7 A43.5,43.5 0 0 1 446.69,234.16" fill="none" stroke="#dca0bf" stroke-width="0.8" stroke-opacity="0.85"/>
<path d="M411.98,188.25 A46,46 0 0 1 449.19,234.2" fill="none" stroke="#dca0bf" stroke-width="0.8" stroke-opacity="0.85"/>
<path d="M412.45,185.79 A48.5,48.5 0 0 1 451.69,234.25" fill="none" stroke="#dca0bf" stroke-width="0.8" stroke-opacity="0.85"/>
<path d="M412.93,183.34 A51,51 0 0 1 454.19,234.29" fill="none" stroke="#dca0bf" stroke-width="0.8" stroke-opacity="0.85"/>
<path d="M406.44,216.71 A17,17 0 0 1 420.2,233.7" fill="none" stroke="#e2e4ea" stroke-width="0.8" stroke-opacity="0.9"/>
<path d="M407.21,212.79 A21,21 0 0 1 424.2,233.77" fill="none" stroke="#e2e4ea" stroke-width="0.8" stroke-opacity="0.9"/>
<path d="M407.97,208.86 A25,25 0 0 1 428.2,233.84" fill="none" stroke="#e2e4ea" stroke-width="0.8" stroke-opacity="0.9"/>
<path d="M408.73,204.93 A29,29 0 0 1 432.2,233.91" fill="none" stroke="#e2e4ea" stroke-width="0.8" stroke-opacity="0.9"/>
<path d="M428.38,257.71 A35,35 0 0 1 385.17,263.4" fill="none" stroke="#e0b0c8" stroke-width="0.8" stroke-opacity="0.75"/>
<path d="M430.53,259.8 A38,38 0 0 1 383.63,265.97" fill="none" stroke="#e0b0c8" stroke-width="0.8" stroke-opacity="0.75"/>
<path d="M432.69,261.88 A41,41 0 0 1 382.08,268.54" fill="none" stroke="#e0b0c8" stroke-width="0.8" stroke-opacity="0.75"/>
<path d="M434.49,263.62 A43.5,43.5 0 0 1 380.8,270.69" fill="none" stroke="#e0b0c8" stroke-width="0.8" stroke-opacity="0.75"/>
<path d="M369.16,245.12 A36,36 0 0 1 385.75,201.91" fill="none" stroke="#e7b5cc" stroke-width="0.8" stroke-opacity="0.8"/>
<path d="M365.38,246.42 A40,40 0 0 1 383.81,198.42" fill="none" stroke="#e7b5cc" stroke-width="0.8" stroke-opacity="0.8"/>
<path d="M361.6,247.72 A44,44 0 0 1 381.87,194.92" fill="none" stroke="#e7b5cc" stroke-width="0.8" stroke-opacity="0.8"/>
<path d="M357.82,249.03 A48,48 0 0 1 379.93,191.42" fill="none" stroke="#e7b5cc" stroke-width="0.8" stroke-opacity="0.8"/>
<path d="M354.98,250 A51,51 0 0 1 378.47,188.79" fill="none" stroke="#e7b5cc" stroke-width="0.8" stroke-opacity="0.8"/>
<path d="M386.18,239.26 A18,18 0 0 1 394.47,217.66" fill="none" stroke="#d2dcef" stroke-width="0.7" stroke-opacity="0.7"/>
<path d="M381.45,240.89 A23,23 0 0 1 392.05,213.28" fill="none" stroke="#d2dcef" stroke-width="0.7" stroke-opacity="0.7"/>
<path d="M376.73,242.52 A28,28 0 0 1 389.63,208.91" fill="none" stroke="#d2dcef" stroke-width="0.7" stroke-opacity="0.7"/>
<path d="M378.79,187.49 A52,52 0 0 1 414.01,182.54 L411.83,192.81 A41.5,41.5 0 0 0 383.72,196.76Z" fill="#a2154e"/>
<path d="M385.36,199.85 A38,38 0 0 1 411.1,196.23 L406.11,219.71 A14,14 0 0 0 396.63,221.04Z" fill="#d6d6d7"/>
<path d="M430.7,233.88 A27.5,27.5 0 0 1 423.64,251.8 L413.23,242.43 A13.5,13.5 0 0 0 416.7,233.64Z" fill="#d0d0d0"/>
<path d="M432.1,233.9 A28.9,28.9 0 0 1 424.68,252.74 L423.64,251.8 A27.5,27.5 0 0 0 430.7,233.88Z" fill="#858585"/>
<path d="M438.39,234.01 A35.2,35.2 0 0 1 429.36,256.95 L424.68,252.74 A28.9,28.9 0 0 0 432.1,233.9Z" fill="#f6a320"/>
<path d="M439.29,234.03 A36.1,36.1 0 0 1 430.03,257.56 L429.36,256.95 A35.2,35.2 0 0 0 438.39,234.01Z" fill="#e3192a"/>
<path d="M446.99,234.16 A43.8,43.8 0 0 1 435.75,262.71 L430.03,257.56 A36.1,36.1 0 0 0 439.29,234.03Z" fill="#b055b0"/>
<path d="M448.99,234.2 A45.8,45.8 0 0 1 437.24,264.05 L435.75,262.71 A43.8,43.8 0 0 0 446.99,234.16Z" fill="#050505"/>
<path d="M450.39,234.22 A47.2,47.2 0 0 1 438.28,264.98 L437.24,264.05 A45.8,45.8 0 0 0 448.99,234.2Z" fill="#8fd08f"/>
<path d="M455.19,234.31 A52,52 0 0 1 441.84,268.19 L438.28,264.98 A47.2,47.2 0 0 0 450.39,234.22Z" fill="#3a55a5"/>
<path d="M375.77,278.16 A52.5,52.5 0 0 1 353.27,249.62 L371.05,243.84 A33.8,33.8 0 0 0 385.54,262.22Z" fill="#c57aa5"/>
<path d="M385.98,260.96 A32.5,32.5 0 0 1 372.38,243.71 L379.02,241.49 A25.5,25.5 0 0 0 389.69,255.03Z" fill="#9b9b9b"/>
<path d="M390.22,254.18 A24.5,24.5 0 0 1 380.11,241.58 L390,238.07 A14,14 0 0 0 395.78,245.27Z" fill="#7aa0d8"/>
<circle cx="403.2" cy="233.4" r="13" fill="#fff"/>
<text x="1.8" y="320.7" font-size="10" fill="#000" font-weight="bold">E</text>
<text x="110.4" y="327.6" font-size="8.6" text-anchor="middle" stroke="#2b2b2b" stroke-width="0.12">Correlation of gene-expression with</text>
<text x="110.4" y="336.8" font-size="8.6" text-anchor="middle" stroke="#2b2b2b" stroke-width="0.12">M+2+6– metric across 7 GEP cohorts</text>
<line x1="59.2" y1="347" x2="59.2" y2="467" stroke="#b8b8b8" stroke-width="0.6" stroke-dasharray="1,1.4"/>
<line x1="89.5" y1="347" x2="89.5" y2="467" stroke="#b8b8b8" stroke-width="0.6" stroke-dasharray="1,1.4"/>
<line x1="114.6" y1="347" x2="114.6" y2="467" stroke="#b8b8b8" stroke-width="0.6" stroke-dasharray="1,1.4"/>
<line x1="145.2" y1="347" x2="145.2" y2="467" stroke="#b8b8b8" stroke-width="0.6" stroke-dasharray="1,1.4"/>
<line x1="202.8" y1="347" x2="202.8" y2="467" stroke="#b8b8b8" stroke-width="0.6" stroke-dasharray="1,1.4"/>
<path d="M98,386 L94,389 L92.5,393 L90,401 L87.8,412 L87,424 L88.5,434 L90.8,442 L93.5,451 L96.4,459 L100,464 L102.6,467 L105,464 L107.6,459 L110.5,451 L112.2,442 L115,434 L117.5,424 L117,412 L115.5,401 L113.5,393 L111,389 L107,386 L103,385Z" fill="#d9d9d9"/>
<path d="M103.9,389.5h0M109.9,379.4h0M102.9,374.8h0M103.9,382.1h0M79.5,383.9h0M95.4,369.9h0M92.8,378.1h0M90.9,391.6h0M105.0,358.2h0M90.1,364.1h0M99.2,383.0h0M105.3,372.7h0M110.4,391.5h0M106.2,389.8h0M103.2,384.9h0M103.1,390.1h0M101.2,391.0h0M104.0,359.7h0M106.8,373.7h0M109.5,384.6h0M117.5,384.1h0M108.5,352.4h0M98.9,380.2h0M103.5,391.0h0M101.2,384.8h0M124.6,389.8h0M117.0,391.9h0M98.7,390.1h0M113.9,376.9h0M103.9,353.4h0M101.5,360.4h0M95.4,384.0h0M105.0,389.7h0M94.9,365.2h0M106.3,385.2h0M110.5,353.0h0M106.7,361.0h0M90.8,367.3h0M92.5,388.3h0M101.8,391.9h0M101.3,391.9h0M108.8,369.8h0M92.9,354.7h0M106.2,352.8h0M100.9,354.8h0M109.0,388.3h0M107.5,389.0h0M110.0,358.2h0M94.4,361.7h0M104.2,364.0h0M89.2,391.2h0M90.8,365.0h0M98.7,366.7h0M103.6,364.6h0M111.9,385.1h0M77.2,382.9h0M118.4,382.7h0M96.9,389.7h0M117.8,390.5h0M114.2,363.6h0M118.1,390.2h0M83.3,371.6h0M97.7,384.5h0M101.1,392.0h0M99.9,353.8h0M98.2,356.2h0M115.8,381.5h0M87.7,388.7h0M100.8,387.6h0M109.1,375.0h0M97.9,387.4h0M104.3,357.6h0M89.6,384.4h0M104.8,357.9h0M113.3,382.0h0M97.7,377.4h0M112.8,377.8h0M104.4,389.4h0M105.2,392.0h0M97.4,379.9h0M97.0,368.1h0M100.2,378.0h0M103.9,376.4h0M98.9,376.2h0M99.8,387.7h0M118.8,378.5h0M104.2,376.1h0M81.4,381.1h0M93.0,373.7h0M102.7,369.8h0M92.1,380.8h0M101.9,355.7h0M115.8,369.4h0M84.5,387.4h0M118.9,376.2h0M95.2,390.3h0M98.7,390.6h0M104.5,387.9h0M92.9,391.4h0M94.9,358.4h0M99.4,390.0h0M86.3,390.2h0M106.8,359.2h0M102.3,355.0h0M72.3,382.8h0M104.5,362.2h0M90.3,389.8h0M108.3,384.9h0M95.4,389.1h0M120.4,391.9h0M101.4,376.4h0M103.7,385.2h0M100.0,373.2h0M102.9,353.0h0M106.0,364.7h0M102.1,387.2h0M104.7,391.8h0M93.9,390.5h0M118.7,381.9h0M92.2,387.4h0M116.2,390.1h0M98.3,369.4h0M119.9,391.2h0M108.4,381.8h0M118.6,391.4h0M99.6,363.9h0M105.7,391.2h0M101.3,360.4h0M96.4,380.7h0M108.3,356.6h0M112.3,387.1h0M112.9,388.0h0M105.0,390.8h0M106.1,388.9h0M96.8,385.8h0M120.3,386.5h0M106.8,378.8h0M113.0,391.9h0M121.0,387.6h0M104.4,376.6h0M76.6,389.2h0M107.3,390.9h0M96.4,362.9h0M105.9,362.0h0M87.4,383.0h0M102.7,353.1h0M111.2,384.8h0M91.9,372.6h0M101.1,382.6h0M106.2,390.5h0M102.5,391.4h0M94.1,389.8h0M116.0,391.2h0M89.8,370.9h0M103.4,386.7h0M111.1,380.5h0M94.5,389.9h0M104.2,354.4h0M99.9,353.7h0M102.0,354.2h0M102.7,385.9h0M103.4,383.4h0M96.6,379.9h0M102.9,378.6h0M102.5,392.0h0M107.4,382.8h0M113.1,391.8h0M104.3,388.1h0M88.9,375.0h0M100.6,371.5h0M108.3,368.6h0M95.7,385.3h0M107.0,353.0h0M113.4,372.3h0M115.9,391.7h0M88.1,373.0h0M104.5,367.6h0M98.4,377.8h0M111.6,378.6h0M93.5,362.5h0M113.2,375.1h0M95.9,369.7h0M108.9,388.2h0M104.1,384.2h0M110.7,390.9h0M94.0,373.0h0M99.0,373.1h0M90.4,392.0h0M102.9,364.1h0M92.3,377.3h0M114.8,371.5h0M110.3,387.6h0M101.1,391.4h0M121.3,388.8h0M111.1,367.3h0M101.2,383.4h0M96.4,379.7h0M90.0,373.5h0M107.0,372.3h0M105.9,387.5h0M99.9,367.1h0M117.6,392.0h0M100.9,391.5h0M114.2,369.8h0M100.6,370.6h0M114.3,380.3h0M118.0,380.2h0M119.3,389.0h0M103.7,353.4h0M102.3,380.5h0M109.6,362.9h0M100.6,387.1h0M110.4,388.7h0M101.0,375.2h0M74.5,390.2h0M98.7,390.4h0M90.1,362.9h0M102.1,369.2h0M113.4,388.2h0M94.7,391.9h0M89.9,392.0h0M103.6,386.1h0M97.3,390.3h0M107.3,361.7h0M103.1,392.0h0M80.6,390.7h0M100.6,356.6h0M80.2,386.5h0M73.3,383.8h0M122.6,374.8h0M95.5,384.2h0M107.2,391.7h0M107.9,391.0h0M99.6,356.0h0M101.7,387.7h0M116.6,389.2h0M123.7,383.7h0M99.5,363.3h0M119.6,372.9h0M92.0,376.7h0M114.2,368.4h0M107.8,380.8h0M99.5,366.6h0M95.3,391.7h0M106.9,356.6h0M111.6,384.8h0M101.0,386.2h0M72.8,387.4h0M99.8,371.6h0M115.4,383.0h0M107.2,389.7h0M106.0,357.8h0M106.8,378.9h0M111.6,352.2h0M107.1,380.9h0M108.9,391.1h0M109.6,384.8h0M107.4,387.4h0M114.1,375.7h0M92.1,382.3h0M93.3,382.2h0M101.4,384.9h0M97.6,391.5h0M133.2,390.5h0M90.2,378.7h0M86.6,388.6h0M103.1,387.0h0M112.9,381.0h0M108.4,354.9h0M83.2,391.9h0M96.6,391.8h0M83.3,379.9h0M111.6,374.9h0M103.0,356.6h0M113.1,362.6h0M79.5,387.7h0M111.1,390.8h0M110.7,370.3h0M101.8,355.7h0M93.3,366.0h0M100.4,380.6h0M102.4,365.0h0M117.2,388.1h0M95.5,386.1h0M102.8,390.5h0M113.7,369.5h0M116.0,390.8h0M107.5,375.1h0M105.3,383.2h0M119.0,392.0h0M76.5,386.1h0M108.0,372.2h0M99.1,359.2h0M104.3,387.7h0M101.9,354.5h0M93.1,391.9h0M98.5,378.9h0M92.7,387.4h0M108.0,371.1h0M99.1,391.8h0M88.9,384.9h0M111.3,389.0h0M102.5,364.2h0M89.6,388.8h0M99.9,353.9h0M122.3,388.2h0M103.6,388.4h0M99.2,355.0h0M105.6,379.0h0M109.6,382.1h0M107.2,371.2h0M101.2,383.0h0M109.2,388.6h0M101.9,391.6h0M83.0,391.6h0M110.2,359.2h0M119.5,367.7h0M102.6,385.2h0M120.5,389.3h0M95.2,391.8h0" stroke="#cbcbcb" stroke-width="1.10" stroke-linecap="round" fill="none"/>
<path d="M107.3,416.7h0M98.0,412.9h0M95.0,414.5h0M97.4,452.5h0M112.3,421.0h0M87.6,424.4h0M97.9,460.5h0M92.2,415.5h0M99.1,451.8h0M110.5,389.3h0M115.4,406.8h0M96.9,408.1h0M94.4,444.0h0M96.1,408.3h0M93.5,424.5h0M98.4,406.3h0M99.8,426.0h0M105.4,412.6h0M96.2,415.3h0M111.0,392.4h0M92.3,447.0h0M93.9,391.2h0M94.5,392.8h0M89.1,426.4h0M108.7,422.2h0M93.5,419.8h0M105.8,440.6h0M107.3,395.8h0M112.9,409.8h0M104.1,416.2h0M109.6,402.1h0M93.9,405.9h0M104.5,412.4h0M102.2,404.7h0M111.9,438.9h0M101.2,452.3h0M115.8,416.2h0M113.7,422.4h0M94.3,449.0h0M105.1,436.2h0M93.0,415.9h0M90.5,402.5h0M94.2,434.6h0M106.9,402.5h0M107.7,401.0h0M96.0,402.5h0M111.4,430.4h0M98.6,430.6h0M106.5,393.4h0M91.2,442.3h0M99.1,408.9h0M96.0,431.9h0M97.4,419.7h0M97.6,402.0h0M109.3,402.5h0M99.6,452.4h0M99.0,457.5h0M100.7,399.2h0M106.5,459.7h0M97.9,426.9h0M90.7,408.9h0M102.7,461.0h0M89.5,425.7h0M92.3,396.3h0M101.4,390.3h0M115.6,417.4h0M112.4,399.0h0M111.1,404.0h0M98.9,454.6h0M112.5,400.8h0M93.0,418.4h0M102.6,417.1h0M89.9,406.0h0M110.2,389.1h0M112.8,395.5h0M105.2,430.6h0M106.1,410.8h0M99.4,433.2h0M99.6,439.4h0M100.3,421.5h0M101.7,405.1h0M110.4,449.2h0M100.7,400.5h0M101.1,394.7h0M90.1,420.9h0M88.9,421.8h0M102.3,389.3h0M106.4,392.7h0M109.5,449.0h0M102.4,390.4h0M102.1,416.6h0M109.4,452.0h0M101.7,463.5h0M88.1,414.4h0M110.2,398.9h0M114.7,408.3h0M112.1,397.6h0M102.1,460.5h0M92.7,407.3h0M102.2,411.8h0M107.7,458.5h0M89.7,429.0h0M106.4,415.1h0M113.9,431.0h0M104.6,457.5h0M106.2,417.9h0M111.5,407.4h0M97.5,447.9h0M100.2,400.3h0M109.8,389.9h0M112.2,406.5h0M104.7,439.8h0M105.7,421.0h0M102.4,458.5h0M90.2,404.4h0M106.9,387.8h0M89.4,414.9h0M93.2,433.3h0M104.9,402.5h0M106.0,424.5h0M93.8,398.1h0M98.9,407.4h0M104.0,414.4h0M106.7,421.9h0M99.0,405.3h0M92.4,435.3h0M102.2,438.0h0M112.0,400.1h0M95.9,410.3h0M111.1,443.9h0M109.8,423.7h0M109.7,422.7h0M93.2,394.5h0M96.7,446.7h0M108.2,454.5h0M108.8,407.5h0M103.7,421.3h0M111.2,428.4h0M94.5,438.0h0M94.3,405.1h0M109.9,412.5h0M114.2,412.6h0M106.2,442.1h0M101.0,454.0h0M108.3,455.5h0M100.0,444.7h0M104.3,410.9h0M92.8,436.4h0M97.0,397.5h0M108.2,437.3h0M108.3,445.7h0M97.6,452.2h0M106.3,452.8h0M106.2,409.3h0M110.2,402.6h0M96.2,420.3h0M95.0,444.0h0M97.8,412.0h0M113.2,436.1h0M100.0,448.6h0M97.1,443.1h0M103.2,403.5h0M112.2,399.8h0M101.7,450.5h0M91.9,426.1h0M97.1,453.4h0M95.1,403.4h0M108.4,426.4h0M108.3,449.7h0M106.1,414.8h0M98.8,418.0h0M92.6,407.3h0M114.8,426.6h0M98.1,457.6h0M93.5,423.3h0M103.0,447.1h0M110.1,438.4h0M97.2,412.5h0M107.2,446.1h0M91.4,421.5h0M110.7,432.9h0M90.0,423.4h0M114.3,405.3h0M92.1,410.4h0M108.5,454.3h0M90.9,398.6h0M93.9,412.5h0M102.7,399.0h0M96.5,401.3h0M89.3,417.1h0M109.5,421.2h0M92.3,437.7h0M98.4,388.7h0M98.8,450.1h0M108.2,426.5h0M106.2,423.5h0M90.5,434.9h0M99.0,446.0h0M115.1,420.8h0M104.4,446.7h0M99.5,404.5h0M110.8,442.7h0M106.5,422.8h0M96.0,436.9h0M89.1,420.0h0M111.0,443.8h0M106.1,406.3h0M99.6,422.9h0M105.9,419.2h0M91.9,439.0h0M110.9,417.5h0M101.7,464.9h0M116.1,428.1h0M89.2,432.5h0M103.3,444.1h0M102.4,437.8h0M112.5,428.3h0M99.1,462.8h0M92.7,441.4h0M98.6,447.8h0M97.4,390.6h0M94.8,418.4h0M99.5,442.6h0M97.3,407.5h0M93.2,446.1h0M116.1,428.7h0M98.5,403.2h0M111.9,437.4h0M101.0,431.5h0M97.3,437.7h0M101.0,409.8h0M103.5,396.1h0M112.7,414.7h0M113.2,407.7h0M98.0,406.5h0M99.6,401.1h0M95.0,405.8h0M95.7,424.8h0M99.7,437.6h0M107.1,415.4h0M106.3,387.2h0M107.0,406.3h0M93.5,448.9h0M97.1,398.4h0M105.5,449.3h0M107.4,458.4h0M92.3,442.1h0M103.0,446.1h0M100.0,457.5h0M103.8,407.4h0M93.5,397.3h0M101.8,390.7h0M100.9,397.7h0M101.7,426.4h0M103.3,455.9h0M101.0,431.6h0M107.3,454.1h0M98.0,419.9h0M106.4,437.5h0M102.3,425.3h0" stroke="#f4f4f4" stroke-width="0.90" stroke-linecap="round" fill="none"/>
<path d="M109.0,436.6h0M96.8,455.8h0M97.7,424.4h0M102.8,448.4h0M92.7,421.3h0M99.5,430.9h0M112.5,409.7h0M112.5,418.7h0M102.1,408.0h0M102.2,465.0h0M106.9,450.1h0M96.6,411.7h0M95.6,433.5h0M106.3,449.5h0M114.3,430.2h0M107.1,449.9h0M105.7,436.8h0M108.3,434.3h0M107.8,403.2h0M107.3,423.1h0M110.4,394.2h0M107.0,415.9h0M104.0,406.9h0M95.7,420.2h0M96.2,420.9h0M111.9,432.6h0M115.4,422.2h0M104.9,462.0h0M99.2,394.3h0M106.6,403.2h0M109.0,405.6h0M109.5,401.2h0M108.8,455.3h0M109.4,392.8h0M106.1,443.4h0M100.7,461.5h0M112.2,392.5h0M96.0,445.1h0M101.6,390.8h0M97.8,432.6h0M100.0,440.8h0M97.6,438.2h0M106.2,419.9h0M98.3,449.7h0M104.1,409.7h0M108.5,453.0h0M96.6,435.1h0M105.2,411.0h0M99.7,457.9h0M98.1,441.5h0M105.3,458.6h0M111.8,408.9h0M99.5,433.5h0M104.3,408.2h0M97.1,392.9h0M103.7,450.6h0M92.4,446.8h0M115.8,405.0h0M105.4,440.9h0M100.9,402.7h0M94.2,446.8h0M111.3,423.2h0M110.7,404.9h0M104.5,458.7h0M114.3,428.3h0M101.3,433.7h0M92.1,401.6h0M91.8,442.8h0M97.6,431.7h0M98.9,427.9h0M111.2,398.6h0M105.1,413.9h0M102.6,387.7h0M113.7,425.4h0M104.1,407.2h0M110.9,420.5h0M94.1,389.1h0M92.4,400.6h0M103.8,456.5h0M100.7,462.7h0M105.1,418.2h0M94.2,431.7h0M107.4,417.8h0M100.3,398.9h0M94.2,414.5h0M111.2,443.5h0M107.7,410.2h0M104.9,447.4h0M89.4,412.2h0M94.2,396.1h0M101.4,399.7h0M93.6,397.6h0M107.7,387.0h0M109.0,401.8h0M90.5,422.2h0M113.0,436.9h0M100.5,413.5h0M112.3,424.7h0M106.1,397.6h0M108.8,430.8h0M94.5,419.4h0M91.0,408.0h0M112.9,413.1h0M91.4,425.8h0M107.4,403.1h0M101.3,409.2h0M94.2,402.3h0M89.1,409.4h0M109.2,409.8h0M111.8,413.6h0M112.6,428.7h0M91.9,421.3h0M115.2,403.7h0M104.3,397.2h0M108.8,401.9h0M105.5,426.1h0M94.8,402.7h0M105.6,443.3h0M112.0,433.2h0M109.4,419.1h0M109.1,390.5h0M111.9,413.2h0M101.8,387.3h0M115.1,424.6h0M113.9,407.6h0M97.7,399.2h0M97.9,434.2h0M100.3,427.8h0M96.3,443.6h0M98.2,446.9h0M116.5,426.1h0M102.4,429.0h0M103.2,387.7h0M94.0,452.2h0M108.4,401.8h0M104.4,428.4h0M108.5,394.3h0M101.8,426.6h0M94.9,395.9h0M99.0,397.1h0M104.9,455.7h0M90.7,432.4h0M109.9,399.3h0M98.4,420.1h0M112.9,428.6h0M110.9,413.4h0M93.7,413.1h0M87.7,427.9h0M94.0,420.2h0M106.2,415.5h0M103.0,391.6h0M99.9,426.9h0M106.5,407.5h0M107.7,408.1h0M103.4,460.9h0M105.9,406.3h0M102.6,421.1h0M116.4,409.3h0M95.8,438.4h0M89.9,434.1h0M116.6,427.6h0M94.6,423.8h0M103.1,398.0h0M95.4,418.9h0M95.2,405.7h0M88.8,430.3h0M112.9,435.4h0M104.2,438.7h0M92.4,443.5h0M100.7,430.4h0M105.6,424.0h0M95.9,405.6h0M93.1,427.5h0M98.3,433.4h0M113.6,405.3h0M103.8,425.8h0M95.5,448.5h0M113.9,421.6h0M88.0,417.4h0M100.1,445.6h0M89.5,404.2h0M90.9,413.3h0M97.3,440.7h0M105.7,454.8h0M112.3,427.9h0M109.6,446.2h0M110.3,424.5h0M111.1,443.4h0M110.5,433.5h0M101.9,464.0h0M104.3,419.9h0M105.4,416.7h0M100.5,423.1h0M109.1,409.7h0M98.5,431.0h0M98.3,412.1h0M102.0,422.0h0M91.9,410.6h0M90.6,432.6h0M104.6,393.1h0M115.4,412.2h0M99.6,459.8h0M104.1,426.3h0M102.6,427.9h0M107.9,417.6h0M97.4,434.2h0M107.6,428.5h0M89.2,416.3h0M98.8,431.5h0M104.4,457.3h0M116.9,425.4h0M100.1,436.6h0M103.0,452.1h0M91.5,411.8h0M102.4,395.0h0M114.4,420.1h0M91.0,409.5h0M102.4,426.9h0M92.0,400.8h0M106.2,434.9h0M106.4,389.4h0M99.2,449.8h0M95.8,441.9h0M112.9,433.5h0M107.4,401.9h0M101.9,430.8h0M94.5,438.4h0M104.4,419.3h0M110.3,394.6h0M102.7,452.7h0M105.6,451.3h0M110.7,412.1h0M108.9,414.7h0M91.4,407.6h0M104.6,414.3h0M100.4,417.2h0M104.6,463.7h0M100.1,436.2h0M94.0,389.6h0M112.1,410.6h0M101.9,462.9h0M93.8,417.6h0M109.0,403.9h0M95.9,456.9h0M101.5,450.2h0M93.8,400.1h0M97.5,401.1h0M104.0,395.3h0M103.1,417.2h0M98.9,391.3h0M97.2,405.8h0M92.1,409.0h0M107.3,413.7h0M89.0,407.8h0M112.7,396.4h0M100.2,453.7h0M111.8,398.9h0M97.3,444.5h0M102.2,404.4h0M100.5,396.6h0" stroke="#c4c4c4" stroke-width="1.00" stroke-linecap="round" fill="none"/>
<line x1="102.6" y1="347" x2="102.6" y2="467" stroke="#7a7a7a" stroke-width="0.9" stroke-dasharray="1.4,1.6"/>
<path d="M87.5,413.8a1.75,1.75 0 1,0 3.5,0a1.75,1.75 0 1,0 -3.5,0M77.6,410.5a1.75,1.75 0 1,0 3.5,0a1.75,1.75 0 1,0 -3.5,0M88.1,404.3a1.75,1.75 0 1,0 3.5,0a1.75,1.75 0 1,0 -3.5,0M81.4,400.0a1.75,1.75 0 1,0 3.5,0a1.75,1.75 0 1,0 -3.5,0M84.0,418.4a1.75,1.75 0 1,0 3.5,0a1.75,1.75 0 1,0 -3.5,0M84.1,409.2a1.75,1.75 0 1,0 3.5,0a1.75,1.75 0 1,0 -3.5,0M87.6,401.6a1.75,1.75 0 1,0 3.5,0a1.75,1.75 0 1,0 -3.5,0M83.4,412.4a1.75,1.75 0 1,0 3.5,0a1.75,1.75 0 1,0 -3.5,0M86.4,409.9a1.75,1.75 0 1,0 3.5,0a1.75,1.75 0 1,0 -3.5,0M83.6,396.4a1.75,1.75 0 1,0 3.5,0a1.75,1.75 0 1,0 -3.5,0M85.6,399.0a1.75,1.75 0 1,0 3.5,0a1.75,1.75 0 1,0 -3.5,0M84.7,412.6a1.75,1.75 0 1,0 3.5,0a1.75,1.75 0 1,0 -3.5,0M83.9,397.1a1.75,1.75 0 1,0 3.5,0a1.75,1.75 0 1,0 -3.5,0M86.5,408.0a1.75,1.75 0 1,0 3.5,0a1.75,1.75 0 1,0 -3.5,0M84.3,402.3a1.75,1.75 0 1,0 3.5,0a1.75,1.75 0 1,0 -3.5,0M86.5,400.3a1.75,1.75 0 1,0 3.5,0a1.75,1.75 0 1,0 -3.5,0M87.4,397.5a1.75,1.75 0 1,0 3.5,0a1.75,1.75 0 1,0 -3.5,0M84.3,405.3a1.75,1.75 0 1,0 3.5,0a1.75,1.75 0 1,0 -3.5,0M86.6,419.4a1.75,1.75 0 1,0 3.5,0a1.75,1.75 0 1,0 -3.5,0M78.0,418.1a1.75,1.75 0 1,0 3.5,0a1.75,1.75 0 1,0 -3.5,0M88.0,397.7a1.75,1.75 0 1,0 3.5,0a1.75,1.75 0 1,0 -3.5,0M87.0,413.0a1.75,1.75 0 1,0 3.5,0a1.75,1.75 0 1,0 -3.5,0M85.2,412.6a1.75,1.75 0 1,0 3.5,0a1.75,1.75 0 1,0 -3.5,0M84.1,412.5a1.75,1.75 0 1,0 3.5,0a1.75,1.75 0 1,0 -3.5,0M88.2,413.6a1.75,1.75 0 1,0 3.5,0a1.75,1.75 0 1,0 -3.5,0M78.6,403.9a1.75,1.75 0 1,0 3.5,0a1.75,1.75 0 1,0 -3.5,0M87.2,411.6a1.75,1.75 0 1,0 3.5,0a1.75,1.75 0 1,0 -3.5,0M86.0,419.6a1.75,1.75 0 1,0 3.5,0a1.75,1.75 0 1,0 -3.5,0M87.9,414.6a1.75,1.75 0 1,0 3.5,0a1.75,1.75 0 1,0 -3.5,0M86.9,395.1a1.75,1.75 0 1,0 3.5,0a1.75,1.75 0 1,0 -3.5,0M86.9,398.5a1.75,1.75 0 1,0 3.5,0a1.75,1.75 0 1,0 -3.5,0M84.2,404.7a1.75,1.75 0 1,0 3.5,0a1.75,1.75 0 1,0 -3.5,0M85.6,395.1a1.75,1.75 0 1,0 3.5,0a1.75,1.75 0 1,0 -3.5,0M81.6,399.0a1.75,1.75 0 1,0 3.5,0a1.75,1.75 0 1,0 -3.5,0M81.1,417.5a1.75,1.75 0 1,0 3.5,0a1.75,1.75 0 1,0 -3.5,0M84.9,401.1a1.75,1.75 0 1,0 3.5,0a1.75,1.75 0 1,0 -3.5,0M86.4,406.2a1.75,1.75 0 1,0 3.5,0a1.75,1.75 0 1,0 -3.5,0M84.0,394.0a1.75,1.75 0 1,0 3.5,0a1.75,1.75 0 1,0 -3.5,0M87.6,417.4a1.75,1.75 0 1,0 3.5,0a1.75,1.75 0 1,0 -3.5,0M84.2,395.2a1.75,1.75 0 1,0 3.5,0a1.75,1.75 0 1,0 -3.5,0M87.0,417.9a1.75,1.75 0 1,0 3.5,0a1.75,1.75 0 1,0 -3.5,0M87.3,400.8a1.75,1.75 0 1,0 3.5,0a1.75,1.75 0 1,0 -3.5,0M87.4,397.1a1.75,1.75 0 1,0 3.5,0a1.75,1.75 0 1,0 -3.5,0M84.9,419.6a1.75,1.75 0 1,0 3.5,0a1.75,1.75 0 1,0 -3.5,0M81.6,415.0a1.75,1.75 0 1,0 3.5,0a1.75,1.75 0 1,0 -3.5,0M84.3,405.0a1.75,1.75 0 1,0 3.5,0a1.75,1.75 0 1,0 -3.5,0M86.3,414.9a1.75,1.75 0 1,0 3.5,0a1.75,1.75 0 1,0 -3.5,0M84.7,396.5a1.75,1.75 0 1,0 3.5,0a1.75,1.75 0 1,0 -3.5,0M78.0,420.5a1.75,1.75 0 1,0 3.5,0a1.75,1.75 0 1,0 -3.5,0M82.9,413.4a1.75,1.75 0 1,0 3.5,0a1.75,1.75 0 1,0 -3.5,0M84.9,414.7a1.75,1.75 0 1,0 3.5,0a1.75,1.75 0 1,0 -3.5,0M82.1,406.7a1.75,1.75 0 1,0 3.5,0a1.75,1.75 0 1,0 -3.5,0M86.6,395.5a1.75,1.75 0 1,0 3.5,0a1.75,1.75 0 1,0 -3.5,0M83.2,408.3a1.75,1.75 0 1,0 3.5,0a1.75,1.75 0 1,0 -3.5,0M82.4,420.0a1.75,1.75 0 1,0 3.5,0a1.75,1.75 0 1,0 -3.5,0M62.8,397.5a1.75,1.75 0 1,0 3.5,0a1.75,1.75 0 1,0 -3.5,0M66.2,400.0a1.75,1.75 0 1,0 3.5,0a1.75,1.75 0 1,0 -3.5,0M70.2,400.5a1.75,1.75 0 1,0 3.5,0a1.75,1.75 0 1,0 -3.5,0M73.8,399.0a1.75,1.75 0 1,0 3.5,0a1.75,1.75 0 1,0 -3.5,0M77.2,401.0a1.75,1.75 0 1,0 3.5,0a1.75,1.75 0 1,0 -3.5,0M81.2,391.0a1.75,1.75 0 1,0 3.5,0a1.75,1.75 0 1,0 -3.5,0M85.0,388.5a1.75,1.75 0 1,0 3.5,0a1.75,1.75 0 1,0 -3.5,0M71.8,385.5a1.75,1.75 0 1,0 3.5,0a1.75,1.75 0 1,0 -3.5,0M68.2,402.0a1.75,1.75 0 1,0 3.5,0a1.75,1.75 0 1,0 -3.5,0M65.2,402.5a1.75,1.75 0 1,0 3.5,0a1.75,1.75 0 1,0 -3.5,0M69.2,412.0a1.75,1.75 0 1,0 3.5,0a1.75,1.75 0 1,0 -3.5,0M75.8,419.0a1.75,1.75 0 1,0 3.5,0a1.75,1.75 0 1,0 -3.5,0M78.2,417.0a1.75,1.75 0 1,0 3.5,0a1.75,1.75 0 1,0 -3.5,0M73.2,405.0a1.75,1.75 0 1,0 3.5,0a1.75,1.75 0 1,0 -3.5,0M76.2,408.0a1.75,1.75 0 1,0 3.5,0a1.75,1.75 0 1,0 -3.5,0" fill="none" stroke="#7aa0d4" stroke-width="0.85"/>
<path d="M122.8,394.8a1.75,1.75 0 1,0 3.5,0a1.75,1.75 0 1,0 -3.5,0M113.8,412.1a1.75,1.75 0 1,0 3.5,0a1.75,1.75 0 1,0 -3.5,0M118.2,409.4a1.75,1.75 0 1,0 3.5,0a1.75,1.75 0 1,0 -3.5,0M119.0,418.8a1.75,1.75 0 1,0 3.5,0a1.75,1.75 0 1,0 -3.5,0M120.3,402.8a1.75,1.75 0 1,0 3.5,0a1.75,1.75 0 1,0 -3.5,0M117.4,395.7a1.75,1.75 0 1,0 3.5,0a1.75,1.75 0 1,0 -3.5,0M118.9,401.4a1.75,1.75 0 1,0 3.5,0a1.75,1.75 0 1,0 -3.5,0M121.0,404.4a1.75,1.75 0 1,0 3.5,0a1.75,1.75 0 1,0 -3.5,0M122.5,411.6a1.75,1.75 0 1,0 3.5,0a1.75,1.75 0 1,0 -3.5,0M111.8,402.4a1.75,1.75 0 1,0 3.5,0a1.75,1.75 0 1,0 -3.5,0M122.7,407.4a1.75,1.75 0 1,0 3.5,0a1.75,1.75 0 1,0 -3.5,0M116.0,417.4a1.75,1.75 0 1,0 3.5,0a1.75,1.75 0 1,0 -3.5,0M117.7,415.8a1.75,1.75 0 1,0 3.5,0a1.75,1.75 0 1,0 -3.5,0M119.1,399.4a1.75,1.75 0 1,0 3.5,0a1.75,1.75 0 1,0 -3.5,0M114.6,414.2a1.75,1.75 0 1,0 3.5,0a1.75,1.75 0 1,0 -3.5,0M111.6,409.4a1.75,1.75 0 1,0 3.5,0a1.75,1.75 0 1,0 -3.5,0M117.0,411.5a1.75,1.75 0 1,0 3.5,0a1.75,1.75 0 1,0 -3.5,0M127.0,410.3a1.75,1.75 0 1,0 3.5,0a1.75,1.75 0 1,0 -3.5,0M115.2,414.5a1.75,1.75 0 1,0 3.5,0a1.75,1.75 0 1,0 -3.5,0M113.4,398.3a1.75,1.75 0 1,0 3.5,0a1.75,1.75 0 1,0 -3.5,0M120.0,401.5a1.75,1.75 0 1,0 3.5,0a1.75,1.75 0 1,0 -3.5,0M112.5,395.8a1.75,1.75 0 1,0 3.5,0a1.75,1.75 0 1,0 -3.5,0M117.4,412.1a1.75,1.75 0 1,0 3.5,0a1.75,1.75 0 1,0 -3.5,0M117.6,407.4a1.75,1.75 0 1,0 3.5,0a1.75,1.75 0 1,0 -3.5,0M116.7,407.9a1.75,1.75 0 1,0 3.5,0a1.75,1.75 0 1,0 -3.5,0M113.1,405.6a1.75,1.75 0 1,0 3.5,0a1.75,1.75 0 1,0 -3.5,0M114.4,391.9a1.75,1.75 0 1,0 3.5,0a1.75,1.75 0 1,0 -3.5,0M111.3,420.4a1.75,1.75 0 1,0 3.5,0a1.75,1.75 0 1,0 -3.5,0M115.2,412.3a1.75,1.75 0 1,0 3.5,0a1.75,1.75 0 1,0 -3.5,0M115.4,419.4a1.75,1.75 0 1,0 3.5,0a1.75,1.75 0 1,0 -3.5,0M113.0,408.3a1.75,1.75 0 1,0 3.5,0a1.75,1.75 0 1,0 -3.5,0M115.6,407.2a1.75,1.75 0 1,0 3.5,0a1.75,1.75 0 1,0 -3.5,0M122.3,391.5a1.75,1.75 0 1,0 3.5,0a1.75,1.75 0 1,0 -3.5,0M119.5,416.8a1.75,1.75 0 1,0 3.5,0a1.75,1.75 0 1,0 -3.5,0M121.8,417.4a1.75,1.75 0 1,0 3.5,0a1.75,1.75 0 1,0 -3.5,0M111.3,411.3a1.75,1.75 0 1,0 3.5,0a1.75,1.75 0 1,0 -3.5,0M118.4,399.3a1.75,1.75 0 1,0 3.5,0a1.75,1.75 0 1,0 -3.5,0M114.0,393.6a1.75,1.75 0 1,0 3.5,0a1.75,1.75 0 1,0 -3.5,0M129.2,404.0a1.75,1.75 0 1,0 3.5,0a1.75,1.75 0 1,0 -3.5,0M123.1,400.9a1.75,1.75 0 1,0 3.5,0a1.75,1.75 0 1,0 -3.5,0M125.3,417.1a1.75,1.75 0 1,0 3.5,0a1.75,1.75 0 1,0 -3.5,0M115.1,400.3a1.75,1.75 0 1,0 3.5,0a1.75,1.75 0 1,0 -3.5,0M128.7,412.8a1.75,1.75 0 1,0 3.5,0a1.75,1.75 0 1,0 -3.5,0M118.3,404.7a1.75,1.75 0 1,0 3.5,0a1.75,1.75 0 1,0 -3.5,0M127.5,404.6a1.75,1.75 0 1,0 3.5,0a1.75,1.75 0 1,0 -3.5,0M119.9,405.7a1.75,1.75 0 1,0 3.5,0a1.75,1.75 0 1,0 -3.5,0M114.1,414.5a1.75,1.75 0 1,0 3.5,0a1.75,1.75 0 1,0 -3.5,0M123.1,402.5a1.75,1.75 0 1,0 3.5,0a1.75,1.75 0 1,0 -3.5,0M114.4,410.8a1.75,1.75 0 1,0 3.5,0a1.75,1.75 0 1,0 -3.5,0M116.9,414.3a1.75,1.75 0 1,0 3.5,0a1.75,1.75 0 1,0 -3.5,0M131.1,417.7a1.75,1.75 0 1,0 3.5,0a1.75,1.75 0 1,0 -3.5,0M116.8,408.4a1.75,1.75 0 1,0 3.5,0a1.75,1.75 0 1,0 -3.5,0M111.3,404.1a1.75,1.75 0 1,0 3.5,0a1.75,1.75 0 1,0 -3.5,0M123.9,410.0a1.75,1.75 0 1,0 3.5,0a1.75,1.75 0 1,0 -3.5,0M118.3,400.1a1.75,1.75 0 1,0 3.5,0a1.75,1.75 0 1,0 -3.5,0M115.3,407.3a1.75,1.75 0 1,0 3.5,0a1.75,1.75 0 1,0 -3.5,0M112.0,394.5a1.75,1.75 0 1,0 3.5,0a1.75,1.75 0 1,0 -3.5,0M116.8,407.3a1.75,1.75 0 1,0 3.5,0a1.75,1.75 0 1,0 -3.5,0M125.4,390.5a1.75,1.75 0 1,0 3.5,0a1.75,1.75 0 1,0 -3.5,0M121.5,414.8a1.75,1.75 0 1,0 3.5,0a1.75,1.75 0 1,0 -3.5,0M124.4,407.0a1.75,1.75 0 1,0 3.5,0a1.75,1.75 0 1,0 -3.5,0M117.3,403.7a1.75,1.75 0 1,0 3.5,0a1.75,1.75 0 1,0 -3.5,0M121.0,406.9a1.75,1.75 0 1,0 3.5,0a1.75,1.75 0 1,0 -3.5,0M124.3,405.0a1.75,1.75 0 1,0 3.5,0a1.75,1.75 0 1,0 -3.5,0M116.5,414.4a1.75,1.75 0 1,0 3.5,0a1.75,1.75 0 1,0 -3.5,0M115.3,416.4a1.75,1.75 0 1,0 3.5,0a1.75,1.75 0 1,0 -3.5,0M118.1,407.3a1.75,1.75 0 1,0 3.5,0a1.75,1.75 0 1,0 -3.5,0M114.9,409.7a1.75,1.75 0 1,0 3.5,0a1.75,1.75 0 1,0 -3.5,0M116.4,397.0a1.75,1.75 0 1,0 3.5,0a1.75,1.75 0 1,0 -3.5,0M135.8,404.7a1.75,1.75 0 1,0 3.5,0a1.75,1.75 0 1,0 -3.5,0M117.5,416.5a1.75,1.75 0 1,0 3.5,0a1.75,1.75 0 1,0 -3.5,0M135.2,415.3a1.75,1.75 0 1,0 3.5,0a1.75,1.75 0 1,0 -3.5,0M115.1,410.7a1.75,1.75 0 1,0 3.5,0a1.75,1.75 0 1,0 -3.5,0M124.5,414.1a1.75,1.75 0 1,0 3.5,0a1.75,1.75 0 1,0 -3.5,0M116.5,410.5a1.75,1.75 0 1,0 3.5,0a1.75,1.75 0 1,0 -3.5,0M132.4,404.0a1.75,1.75 0 1,0 3.5,0a1.75,1.75 0 1,0 -3.5,0M121.4,408.1a1.75,1.75 0 1,0 3.5,0a1.75,1.75 0 1,0 -3.5,0M113.9,411.2a1.75,1.75 0 1,0 3.5,0a1.75,1.75 0 1,0 -3.5,0M119.5,415.8a1.75,1.75 0 1,0 3.5,0a1.75,1.75 0 1,0 -3.5,0M116.6,393.6a1.75,1.75 0 1,0 3.5,0a1.75,1.75 0 1,0 -3.5,0M124.5,407.4a1.75,1.75 0 1,0 3.5,0a1.75,1.75 0 1,0 -3.5,0M116.1,397.0a1.75,1.75 0 1,0 3.5,0a1.75,1.75 0 1,0 -3.5,0M119.0,410.0a1.75,1.75 0 1,0 3.5,0a1.75,1.75 0 1,0 -3.5,0M123.3,406.8a1.75,1.75 0 1,0 3.5,0a1.75,1.75 0 1,0 -3.5,0M113.5,406.3a1.75,1.75 0 1,0 3.5,0a1.75,1.75 0 1,0 -3.5,0M119.7,398.3a1.75,1.75 0 1,0 3.5,0a1.75,1.75 0 1,0 -3.5,0M129.3,409.4a1.75,1.75 0 1,0 3.5,0a1.75,1.75 0 1,0 -3.5,0M116.0,398.2a1.75,1.75 0 1,0 3.5,0a1.75,1.75 0 1,0 -3.5,0M116.8,397.5a1.75,1.75 0 1,0 3.5,0a1.75,1.75 0 1,0 -3.5,0M111.4,409.1a1.75,1.75 0 1,0 3.5,0a1.75,1.75 0 1,0 -3.5,0M122.3,409.5a1.75,1.75 0 1,0 3.5,0a1.75,1.75 0 1,0 -3.5,0M115.4,402.1a1.75,1.75 0 1,0 3.5,0a1.75,1.75 0 1,0 -3.5,0M113.3,408.7a1.75,1.75 0 1,0 3.5,0a1.75,1.75 0 1,0 -3.5,0M119.8,410.1a1.75,1.75 0 1,0 3.5,0a1.75,1.75 0 1,0 -3.5,0M115.9,396.5a1.75,1.75 0 1,0 3.5,0a1.75,1.75 0 1,0 -3.5,0M119.1,407.3a1.75,1.75 0 1,0 3.5,0a1.75,1.75 0 1,0 -3.5,0M120.3,412.3a1.75,1.75 0 1,0 3.5,0a1.75,1.75 0 1,0 -3.5,0M133.1,413.0a1.75,1.75 0 1,0 3.5,0a1.75,1.75 0 1,0 -3.5,0M130.4,412.4a1.75,1.75 0 1,0 3.5,0a1.75,1.75 0 1,0 -3.5,0M115.8,397.8a1.75,1.75 0 1,0 3.5,0a1.75,1.75 0 1,0 -3.5,0M119.5,400.4a1.75,1.75 0 1,0 3.5,0a1.75,1.75 0 1,0 -3.5,0M126.4,418.4a1.75,1.75 0 1,0 3.5,0a1.75,1.75 0 1,0 -3.5,0M117.6,399.2a1.75,1.75 0 1,0 3.5,0a1.75,1.75 0 1,0 -3.5,0M117.8,413.4a1.75,1.75 0 1,0 3.5,0a1.75,1.75 0 1,0 -3.5,0M113.7,405.8a1.75,1.75 0 1,0 3.5,0a1.75,1.75 0 1,0 -3.5,0M116.7,392.4a1.75,1.75 0 1,0 3.5,0a1.75,1.75 0 1,0 -3.5,0M114.9,404.1a1.75,1.75 0 1,0 3.5,0a1.75,1.75 0 1,0 -3.5,0M129.0,412.2a1.75,1.75 0 1,0 3.5,0a1.75,1.75 0 1,0 -3.5,0M120.2,410.7a1.75,1.75 0 1,0 3.5,0a1.75,1.75 0 1,0 -3.5,0M130.8,415.5a1.75,1.75 0 1,0 3.5,0a1.75,1.75 0 1,0 -3.5,0M119.4,415.5a1.75,1.75 0 1,0 3.5,0a1.75,1.75 0 1,0 -3.5,0M111.5,400.3a1.75,1.75 0 1,0 3.5,0a1.75,1.75 0 1,0 -3.5,0M119.9,413.2a1.75,1.75 0 1,0 3.5,0a1.75,1.75 0 1,0 -3.5,0M113.5,411.7a1.75,1.75 0 1,0 3.5,0a1.75,1.75 0 1,0 -3.5,0M115.6,405.8a1.75,1.75 0 1,0 3.5,0a1.75,1.75 0 1,0 -3.5,0M125.6,412.7a1.75,1.75 0 1,0 3.5,0a1.75,1.75 0 1,0 -3.5,0M116.1,394.7a1.75,1.75 0 1,0 3.5,0a1.75,1.75 0 1,0 -3.5,0M121.0,410.4a1.75,1.75 0 1,0 3.5,0a1.75,1.75 0 1,0 -3.5,0M118.3,413.9a1.75,1.75 0 1,0 3.5,0a1.75,1.75 0 1,0 -3.5,0M124.0,398.3a1.75,1.75 0 1,0 3.5,0a1.75,1.75 0 1,0 -3.5,0M111.8,381.0a1.75,1.75 0 1,0 3.5,0a1.75,1.75 0 1,0 -3.5,0M113.8,384.5a1.75,1.75 0 1,0 3.5,0a1.75,1.75 0 1,0 -3.5,0M112.2,387.5a1.75,1.75 0 1,0 3.5,0a1.75,1.75 0 1,0 -3.5,0M116.2,392.0a1.75,1.75 0 1,0 3.5,0a1.75,1.75 0 1,0 -3.5,0M117.2,395.0a1.75,1.75 0 1,0 3.5,0a1.75,1.75 0 1,0 -3.5,0M123.2,397.0a1.75,1.75 0 1,0 3.5,0a1.75,1.75 0 1,0 -3.5,0M125.2,400.0a1.75,1.75 0 1,0 3.5,0a1.75,1.75 0 1,0 -3.5,0M128.9,363.0a1.75,1.75 0 1,0 3.5,0a1.75,1.75 0 1,0 -3.5,0M135.2,367.7a1.75,1.75 0 1,0 3.5,0a1.75,1.75 0 1,0 -3.5,0M148.6,381.0a1.75,1.75 0 1,0 3.5,0a1.75,1.75 0 1,0 -3.5,0M129.4,385.0a1.75,1.75 0 1,0 3.5,0a1.75,1.75 0 1,0 -3.5,0M143.2,387.8a1.75,1.75 0 1,0 3.5,0a1.75,1.75 0 1,0 -3.5,0M144.4,395.4a1.75,1.75 0 1,0 3.5,0a1.75,1.75 0 1,0 -3.5,0M144.4,402.3a1.75,1.75 0 1,0 3.5,0a1.75,1.75 0 1,0 -3.5,0M142.1,410.4a1.75,1.75 0 1,0 3.5,0a1.75,1.75 0 1,0 -3.5,0M139.8,413.8a1.75,1.75 0 1,0 3.5,0a1.75,1.75 0 1,0 -3.5,0M135.2,417.3a1.75,1.75 0 1,0 3.5,0a1.75,1.75 0 1,0 -3.5,0M131.2,418.0a1.75,1.75 0 1,0 3.5,0a1.75,1.75 0 1,0 -3.5,0M136.2,411.0a1.75,1.75 0 1,0 3.5,0a1.75,1.75 0 1,0 -3.5,0M133.2,407.0a1.75,1.75 0 1,0 3.5,0a1.75,1.75 0 1,0 -3.5,0M138.2,404.0a1.75,1.75 0 1,0 3.5,0a1.75,1.75 0 1,0 -3.5,0" fill="none" stroke="#a3154f" stroke-width="0.95"/>
<text x="132.3" y="359.6" font-size="6.6" fill="#c07f9f" font-style="italic">JADE3</text>
<text x="142.7" y="367.2" font-size="6.6" fill="#c07f9f" font-style="italic">TLK1</text>
<text x="156.5" y="385" font-size="6.6" fill="#c07f9f" font-style="italic">SH3BP5</text>
<text x="134.6" y="385" font-size="6.6" fill="#c07f9f" font-style="italic">IL12</text>
<text x="154.2" y="392" font-size="6.6" fill="#c07f9f" font-style="italic">TNFRSF 13B</text>
<text x="152" y="398.8" font-size="6.6" fill="#c07f9f" font-style="italic">RUBCLN</text>
<text x="150.8" y="405.8" font-size="6.6" fill="#c07f9f" font-style="italic">PDCD4</text>
<text x="150.8" y="412.5" font-size="6.6" fill="#c07f9f" font-style="italic">RIOX2</text>
<text x="149.6" y="418" font-size="6.6" fill="#c07f9f" font-style="italic">LIMD1</text>
<text x="142.7" y="423.5" font-size="6.6" fill="#c07f9f" font-style="italic">BTLA</text>
<text x="131.2" y="430" font-size="6.6" fill="#c07f9f" font-style="italic">CCND2</text>
<text x="37.7" y="390" font-size="6.6" fill="#b3c1de" font-style="italic">SERPINA9</text>
<text x="75" y="388" font-size="6.6" fill="#b3c1de" font-style="italic">FAP</text>
<text x="42.5" y="396.7" font-size="6.6" fill="#b3c1de" font-style="italic">MYBL1</text>
<text x="41.5" y="403.5" font-size="6.6" fill="#b3c1de" font-style="italic">ASB13</text>
<text x="53" y="419" font-size="6.6" fill="#b3c1de" font-style="italic">SECTA1</text>
<text x="49.2" y="430.4" font-size="6.6" fill="#b3c1de" font-style="italic">DENND3</text>
<text x="33.5" y="410.2" font-size="6.6" fill="#222" font-style="italic">BCL6</text>
<path d="M46.4,411.32 L52.2,411.32 L49.3,416.25Z" fill="#c9c98a" stroke="#1a1a1a" stroke-width="1"/>
<text x="171.5" y="416.2" font-size="6.6" fill="#222" font-style="italic">BCL2</text>
<path d="M177.9,417.62 L183.7,417.62 L180.8,422.56Z" fill="#c9c98a" stroke="#1a1a1a" stroke-width="1"/>
<text x="195.8" y="412.7" font-size="6.6" fill="#222" font-style="italic">MYC</text>
<path d="M203.7,414.22 L209.5,414.22 L206.6,419.15Z" fill="#c9c98a" stroke="#1a1a1a" stroke-width="1"/>
<circle cx="36" cy="444.8" r="2.1" fill="none" stroke="#a3154f" stroke-width="1.3"/>
<text x="41.3" y="447.3" font-size="6.6" fill="#a3154f">100</text>
<circle cx="36" cy="454" r="2" fill="none" stroke="#7aa0d4" stroke-width="0.9"/>
<text x="41.3" y="456.5" font-size="6.6" fill="#7aa0d4">60</text>
<text x="35" y="464.5" font-size="6.2"><tspan font-style="italic">n</tspan> = 15,314</text>
<line x1="30.4" y1="346.3" x2="30.4" y2="467.6" stroke="#222" stroke-width="1.1"/>
<line x1="30.4" y1="467.3" x2="213" y2="467.3" stroke="#222" stroke-width="1.1"/>
<line x1="31.5" y1="465.9" x2="213" y2="465.9" stroke="#555" stroke-width="0.9" stroke-dasharray="0.6,1.2"/>
<text x="28.2" y="350.4" font-size="8.6" text-anchor="end">10<tspan font-size="6.19" dy="-3.4">−8</tspan></text>
<line x1="28.2" y1="347.3" x2="30.4" y2="347.3" stroke="#222" stroke-width="0.9"/>
<text x="28.2" y="379.7" font-size="8.6" text-anchor="end">10<tspan font-size="6.19" dy="-3.4">−6</tspan></text>
<line x1="28.2" y1="376.6" x2="30.4" y2="376.6" stroke="#222" stroke-width="0.9"/>
<text x="28.2" y="409.7" font-size="8.6" text-anchor="end">10<tspan font-size="6.19" dy="-3.4">−4</tspan></text>
<line x1="28.2" y1="406.6" x2="30.4" y2="406.6" stroke="#222" stroke-width="0.9"/>
<text x="28.2" y="439.7" font-size="8.6" text-anchor="end">10<tspan font-size="6.19" dy="-3.4">−2</tspan></text>
<line x1="28.2" y1="436.6" x2="30.4" y2="436.6" stroke="#222" stroke-width="0.9"/>
<text x="28" y="469.4" font-size="8.6" text-anchor="end" stroke="#2b2b2b" stroke-width="0.12">0</text>
<line x1="28.2" y1="466.2" x2="30.4" y2="466.2" stroke="#222" stroke-width="0.9"/>
<line x1="59.2" y1="467.3" x2="59.2" y2="470" stroke="#222" stroke-width="0.9"/>
<text x="59.2" y="483.3" font-size="8.6" text-anchor="middle" stroke="#2b2b2b" stroke-width="0.12">−0.3</text>
<line x1="89.3" y1="467.3" x2="89.3" y2="470" stroke="#222" stroke-width="0.9"/>
<text x="89.3" y="483.3" font-size="8.6" text-anchor="middle" stroke="#2b2b2b" stroke-width="0.12">−0.2</text>
<line x1="115.5" y1="467.3" x2="115.5" y2="470" stroke="#222" stroke-width="0.9"/>
<text x="115.5" y="483.3" font-size="8.6" text-anchor="middle" stroke="#2b2b2b" stroke-width="0.12">0.2</text>
<line x1="145.3" y1="467.3" x2="145.3" y2="470" stroke="#222" stroke-width="0.9"/>
<text x="145.3" y="483.3" font-size="8.6" text-anchor="middle" stroke="#2b2b2b" stroke-width="0.12">0.3</text>
<line x1="203" y1="467.3" x2="203" y2="470" stroke="#222" stroke-width="0.9"/>
<text x="203" y="483.3" font-size="8.6" text-anchor="middle" stroke="#2b2b2b" stroke-width="0.12">0.4</text>
<text x="115.3" y="496.4" font-size="8.6" text-anchor="middle" stroke="#2b2b2b" stroke-width="0.12">Pooled Spearman rho</text>
<text x="9" y="410.8" font-size="8.5" text-anchor="middle" transform="rotate(-90 9 410.8)" stroke="#2b2b2b" stroke-width="0.12">FDR (pooled <tspan font-style="italic">P</tspan>-value)</text>
<text x="221.5" y="320.6" font-size="10" fill="#000" font-weight="bold">F</text>
<text x="294.3" y="322.4" font-size="8.6" text-anchor="middle" stroke="#2b2b2b" stroke-width="0.12">Primary GC B cells</text>
<line x1="236.7" y1="327.5" x2="352.3" y2="327.5" stroke="#555" stroke-width="1.3"/>
<path d="M295,386 L289,392 L283,399 L276,407 L269.5,415 L264.5,424 L262.5,432 L264.5,441 L271,447 L280,451 L296,452.5 L306,451.5 L314,448 L319,441 L320.5,431 L319.5,419 L316.5,408 L312,399 L306,391 L300,386Z" fill="#e9e9e9"/>
<path d="M295,391 L291,396 L286,402 L280,409 L274,416.5 L269,424 L266.5,432 L268,439 L273,444 L280,447.5 L288,449 L296,449.5 L304,448.5 L311,445 L315.5,439 L317,431 L316,420 L313,410 L309,402 L304,395 L299,391Z" fill="#d8d8d8"/>
<path d="M288.1,439.5h0M295.4,392.4h0M293.9,403.9h0M301.1,409.8h0M271.8,441.9h0M293.1,429.8h0M307.6,446.7h0M311.1,437.0h0M308.2,429.2h0M285.2,415.9h0M272.5,439.9h0M285.2,441.7h0M312.3,423.3h0M283.5,415.4h0M295.2,410.2h0M295.3,406.7h0M271.9,428.6h0M291.0,402.0h0M294.7,419.3h0M305.6,441.7h0M305.8,426.2h0M298.3,408.6h0M279.2,436.7h0M300.8,404.8h0M305.2,433.1h0M291.5,426.3h0M282.9,420.8h0M311.0,414.5h0M288.1,422.0h0M280.7,432.2h0M293.8,445.9h0M282.4,444.9h0M273.7,422.7h0M305.8,412.8h0M290.2,443.4h0M278.5,430.8h0M274.8,424.2h0M310.7,427.1h0M274.6,432.7h0M316.0,424.1h0M268.3,437.6h0M311.3,407.2h0M293.0,441.9h0M298.6,445.0h0M304.5,427.2h0M285.9,429.1h0M297.8,406.7h0M290.7,423.9h0M277.9,415.1h0M294.5,449.2h0M303.1,406.4h0M271.7,434.9h0M268.9,437.9h0M286.9,420.0h0M295.8,421.1h0M299.5,424.1h0M281.9,433.2h0M277.9,431.2h0M305.2,435.4h0M280.7,435.2h0M279.0,419.0h0M299.4,435.3h0M276.3,434.2h0M291.1,421.1h0M273.6,433.0h0M290.9,426.3h0M282.6,437.0h0M288.8,406.0h0M298.9,411.1h0M294.5,411.6h0M297.9,399.6h0M275.0,434.3h0M298.7,404.4h0M294.8,395.2h0M310.6,441.5h0M278.4,433.9h0M308.4,403.4h0M281.9,416.6h0M300.9,423.8h0M288.5,422.6h0M311.7,408.4h0M306.1,441.1h0M273.8,441.2h0M273.1,429.4h0M313.6,431.6h0M306.8,429.8h0M301.0,394.6h0M303.9,417.5h0M290.8,444.7h0M303.5,402.7h0M291.5,411.5h0M294.1,408.6h0M299.3,420.4h0M293.6,429.9h0M302.8,411.0h0M281.2,412.2h0M284.8,411.6h0M297.0,409.5h0M270.3,439.8h0M306.3,444.1h0M281.5,427.0h0M293.6,405.5h0M304.3,440.5h0M291.5,423.5h0M298.0,433.3h0M284.5,431.3h0M285.3,419.2h0M297.1,429.0h0M281.4,425.9h0M293.3,399.5h0M297.1,402.2h0M313.1,415.8h0M303.0,418.9h0M289.7,399.4h0M292.6,419.1h0M292.5,437.9h0M308.4,414.9h0M298.6,438.8h0M312.3,441.4h0M308.9,438.2h0M283.3,437.2h0M292.2,414.4h0M288.3,416.1h0M307.1,434.3h0M272.1,429.2h0M283.8,418.8h0M282.4,409.8h0M273.6,431.7h0M277.1,439.2h0M268.9,426.3h0M286.8,436.5h0M297.4,409.2h0M283.8,431.3h0M279.9,411.5h0M299.0,437.7h0M283.0,410.0h0M295.2,445.1h0M302.4,409.2h0M299.9,406.4h0M267.8,434.1h0M284.5,419.2h0M290.8,443.6h0M296.0,415.1h0M289.0,439.6h0M286.4,415.8h0M312.1,413.6h0M290.5,418.3h0M308.5,428.6h0M304.0,411.1h0M293.9,435.0h0M268.8,434.0h0M300.8,431.2h0M301.3,412.2h0M308.1,441.7h0M277.8,440.8h0M294.0,418.2h0M280.4,441.3h0M307.3,440.7h0M284.2,415.2h0M290.4,422.9h0M283.7,437.1h0M274.8,444.8h0M281.0,419.7h0M286.1,421.7h0M307.0,403.9h0M302.4,437.2h0M296.0,414.6h0M287.4,426.6h0M294.3,437.0h0M290.9,428.8h0M300.4,404.2h0M275.4,439.5h0M269.1,436.0h0M299.6,401.7h0M312.9,429.6h0M309.2,404.1h0M276.6,422.8h0M281.2,421.4h0M281.5,439.7h0M272.2,437.0h0M298.6,399.5h0M289.1,432.3h0M287.2,429.1h0M270.2,438.9h0M292.4,403.9h0M282.8,433.8h0M290.8,445.4h0M310.7,423.9h0M312.2,440.0h0M276.3,445.1h0M315.0,427.7h0M288.3,401.1h0M304.1,396.6h0M306.5,404.4h0M306.6,423.7h0M298.9,393.6h0M295.2,407.9h0M284.2,428.1h0M309.5,441.8h0M292.9,417.9h0M311.1,417.6h0M314.9,416.7h0M306.7,422.1h0M301.2,399.9h0M285.2,418.7h0M279.8,442.9h0M276.6,423.7h0M306.3,431.2h0M296.4,448.9h0M301.4,438.0h0M282.5,437.7h0M288.9,444.9h0M286.2,411.5h0M303.6,429.1h0M306.7,416.2h0M290.9,435.7h0M313.0,433.8h0M298.4,397.9h0M297.8,440.0h0M302.7,407.7h0M300.3,433.5h0M271.3,438.8h0M304.2,439.1h0M307.3,423.4h0M287.5,438.6h0M306.4,441.6h0M280.1,447.5h0M292.7,446.5h0M306.5,401.4h0M276.8,417.0h0M313.0,429.5h0M302.4,410.5h0M306.3,436.6h0M300.9,446.2h0M308.6,411.4h0M268.7,427.4h0M309.2,407.1h0M296.1,439.4h0M270.0,437.8h0M286.6,424.3h0M288.7,406.8h0M309.6,425.3h0M278.6,430.6h0M287.9,428.0h0M312.1,424.7h0M312.3,410.6h0M291.0,447.1h0M274.2,439.0h0M272.8,419.3h0M307.7,401.3h0M293.8,441.0h0M291.7,409.5h0M297.7,413.9h0M299.7,426.1h0M284.3,418.9h0M300.5,444.0h0M290.9,408.6h0M309.1,429.4h0M294.1,414.1h0M304.6,442.9h0" stroke="#f2f2f2" stroke-width="0.90" stroke-linecap="round" fill="none"/>
<path d="M303.4,433.7h0M295.7,422.5h0M304.4,426.7h0M279.2,434.6h0M279.7,420.4h0M286.7,448.6h0M299.0,437.3h0M300.5,409.7h0M316.0,431.1h0M301.3,403.0h0M272.7,422.4h0M308.6,436.6h0M291.9,442.0h0M272.8,433.0h0M284.7,447.9h0M280.7,446.3h0M284.8,447.6h0M313.1,414.3h0M309.2,426.4h0M306.0,405.5h0M272.2,434.2h0M289.4,421.3h0M300.2,433.9h0M313.5,419.4h0M279.6,426.0h0M278.0,435.1h0M294.6,408.0h0M293.6,434.0h0M300.6,411.8h0M280.6,426.9h0M316.2,426.2h0M301.4,435.3h0M285.3,446.1h0M304.1,407.2h0M285.2,437.4h0M311.1,419.6h0M292.1,428.5h0M286.3,417.6h0M310.0,428.4h0M295.2,411.2h0M295.0,402.8h0M309.6,436.3h0M300.3,434.0h0M291.0,443.4h0M312.5,433.3h0M308.3,427.2h0M302.0,430.7h0M297.1,402.9h0M308.5,402.7h0M269.1,428.9h0M283.4,430.5h0M298.0,394.0h0M288.1,421.1h0M276.1,425.9h0M282.4,406.5h0M294.7,399.2h0M309.3,437.6h0M291.3,412.6h0M303.1,423.0h0M285.6,418.3h0M295.8,399.7h0M300.9,431.0h0M288.6,407.2h0M303.7,418.6h0M302.0,397.8h0M278.3,421.4h0M301.9,448.2h0M304.4,446.6h0M313.7,432.0h0M310.6,431.9h0M298.0,402.1h0M312.5,437.3h0M306.0,415.6h0M306.9,416.0h0M291.4,398.6h0M313.1,431.2h0M287.6,432.6h0M284.7,437.8h0M295.6,409.6h0M306.4,415.1h0M281.5,425.6h0M311.8,416.5h0M298.5,398.4h0M277.1,443.9h0M295.9,393.2h0M295.6,426.4h0M302.2,413.6h0M267.6,432.1h0M285.6,428.7h0M302.5,400.6h0M299.1,430.0h0M313.1,423.9h0M285.2,436.2h0M308.5,426.2h0M300.3,445.5h0M298.5,444.8h0M302.3,397.2h0M306.5,442.8h0M310.0,421.1h0M308.4,417.7h0M297.5,423.6h0M279.7,410.8h0M307.8,414.8h0M270.6,427.3h0M293.5,407.9h0M269.1,432.5h0M309.9,440.1h0M280.3,434.6h0M272.0,424.4h0M270.1,430.0h0M296.3,418.8h0M288.6,411.5h0M297.0,427.2h0M313.5,432.6h0M307.0,444.3h0M309.2,431.6h0M309.9,413.0h0M302.2,401.4h0M287.9,448.8h0M299.3,445.6h0M305.2,439.4h0M276.5,442.6h0M305.6,435.4h0M312.1,436.6h0M308.6,405.4h0M297.9,408.9h0M293.0,447.8h0M272.7,419.5h0M299.1,420.0h0M313.3,429.8h0M278.1,431.5h0M287.7,429.6h0M301.3,433.5h0M304.7,401.2h0M301.3,398.6h0M298.7,423.4h0M299.4,423.9h0M301.5,404.8h0M290.7,448.0h0M301.1,402.8h0M286.1,429.8h0M288.0,432.3h0M282.5,439.1h0M276.2,440.6h0M307.4,428.6h0M274.3,443.8h0M272.5,427.9h0M295.7,428.0h0M284.7,427.4h0M294.8,399.5h0M306.6,401.4h0M283.8,419.0h0M307.0,403.5h0M284.6,434.7h0M283.7,426.7h0M289.5,441.5h0M289.3,445.9h0M276.0,433.4h0M294.4,441.6h0M292.3,400.6h0M273.2,441.2h0M278.3,445.1h0M288.9,432.5h0M299.8,408.5h0M289.4,433.1h0M293.0,400.2h0M290.9,424.3h0M299.2,394.4h0M307.4,446.5h0M304.0,440.7h0M283.9,443.7h0M296.3,443.6h0M304.4,422.9h0M289.8,418.3h0M275.7,439.2h0M288.7,399.7h0M286.0,407.3h0M296.8,401.8h0M288.5,421.5h0M302.4,393.9h0M295.4,442.6h0M273.0,423.1h0M288.4,411.6h0M312.0,428.0h0M278.5,446.2h0M311.0,412.3h0M292.6,440.2h0M307.6,427.5h0M277.2,427.8h0M295.7,437.1h0M312.5,422.1h0M273.8,430.0h0M283.8,419.1h0M304.0,425.6h0M289.5,428.7h0M289.7,429.1h0M302.3,427.1h0M306.4,400.1h0M287.3,447.3h0M276.6,432.8h0M283.4,428.1h0M295.4,446.3h0M295.2,408.1h0M302.0,413.4h0M316.0,434.8h0M309.1,426.7h0M298.3,430.8h0M305.4,404.6h0M277.8,438.4h0M296.5,440.2h0M311.3,423.3h0M292.9,432.2h0M292.2,405.8h0M286.5,416.1h0M268.9,425.6h0M301.6,402.1h0M306.8,432.4h0M282.5,417.0h0M272.3,430.0h0M284.8,431.6h0" stroke="#c6c6c6" stroke-width="1.00" stroke-linecap="round" fill="none"/>
<path d="M283.2,381.8h0M302.4,368.9h0M266.5,415.7h0M317.4,435.2h0M302.0,370.3h0M286.1,384.6h0M285.1,400.2h0M271.2,389.6h0M283.4,381.5h0M264.3,451.1h0M297.8,390.0h0M301.5,364.7h0M284.9,448.5h0M295.2,366.7h0M286.5,396.8h0M295.3,381.1h0M281.9,448.1h0M306.6,448.7h0M293.2,453.2h0M307.0,388.5h0M318.2,433.2h0M302.2,451.5h0M298.2,372.8h0M298.8,375.6h0M298.9,376.5h0M300.5,383.1h0M301.9,384.7h0M320.9,404.9h0M272.2,450.9h0M283.5,404.2h0M293.2,378.4h0M285.6,451.0h0M316.9,392.2h0M312.3,383.6h0M293.4,454.1h0M302.6,376.4h0M267.1,450.4h0M272.7,391.1h0M311.2,385.3h0M269.9,394.8h0M283.5,395.9h0M328.7,420.4h0M314.4,383.2h0M276.5,447.4h0M247.9,431.7h0M282.7,396.2h0M286.8,392.0h0M300.3,449.1h0M277.1,392.2h0M300.5,380.3h0M262.3,392.3h0M294.0,391.1h0M301.4,362.5h0M297.3,366.7h0M283.4,398.2h0M306.8,389.4h0M256.4,420.1h0M268.4,409.3h0M278.3,406.0h0M265.5,423.2h0M284.1,451.1h0M319.1,416.1h0M270.8,400.8h0M264.7,434.9h0M289.6,393.9h0M320.0,380.8h0M331.1,401.2h0M260.5,396.2h0M258.3,388.7h0M316.8,412.0h0M294.0,450.9h0M294.0,377.4h0M259.8,445.5h0M293.5,450.7h0M256.9,413.2h0M291.5,373.6h0M274.4,400.3h0M272.8,417.2h0M288.5,382.5h0M268.0,384.3h0M288.1,385.9h0M298.7,449.7h0M307.8,454.8h0M280.0,383.3h0M307.9,388.8h0M299.9,368.1h0M303.6,378.3h0M311.4,405.6h0M254.0,406.2h0M309.9,449.8h0M295.9,373.7h0M299.5,451.9h0M281.7,400.4h0M302.5,393.4h0M288.2,374.5h0M311.9,398.2h0M290.3,373.8h0M255.1,394.8h0M273.4,412.2h0M326.5,398.2h0M271.8,393.2h0M319.7,410.5h0M314.6,405.3h0M284.2,391.6h0M308.3,384.8h0M283.1,394.5h0M281.5,391.6h0M304.6,381.7h0M326.8,412.3h0M273.3,447.6h0M324.8,401.2h0M274.8,452.8h0M299.3,371.8h0M295.3,362.1h0M288.2,370.7h0M313.9,452.1h0M265.5,401.3h0M328.2,397.1h0M293.8,452.6h0M305.6,454.5h0M291.3,377.1h0M315.1,410.4h0M285.7,449.6h0M298.3,360.5h0M273.6,414.1h0M259.9,450.8h0M316.0,448.2h0M283.5,395.8h0M284.8,385.6h0M317.3,434.9h0M318.4,390.2h0M292.3,375.1h0M315.9,441.5h0M294.9,367.9h0M262.7,415.7h0M278.5,400.6h0M291.2,369.8h0M304.7,380.4h0M286.7,395.2h0M346.6,400.5h0M274.3,414.3h0M268.8,442.0h0M262.1,404.9h0M292.5,372.5h0M283.9,383.7h0M288.9,392.6h0M268.6,448.6h0M302.0,371.4h0M301.4,392.0h0M286.3,383.8h0" stroke="#d2d2d2" stroke-width="1.10" stroke-linecap="round" fill="none"/>
<path d="M286.5,349.0 L286.4,351.0 L286.3,353.0 L286.2,355.0 L286.1,357.0 L286.0,359.0 L285.9,361.0 L285.7,363.0 L285.6,365.0 L285.4,367.0 L285.2,369.0 L285.0,371.0 L284.7,373.0 L284.5,375.0 L284.2,377.0 L283.8,379.0 L283.5,381.0 L283.1,383.0 L282.6,385.0 L282.2,387.0 L281.6,389.0 L281.0,391.0 L280.4,393.0 L279.7,395.0 L278.9,397.0 L278.0,399.0 L277.0,401.0 L276.0,403.0 L274.8,405.0 L273.5,407.0 L272.0,409.0 L270.4,411.0 L268.6,413.0 L266.7,415.0 L264.5,417.0 L262.1,419.0 L259.5,421.0 L256.6,423.0 L253.3,425.0 L252.5,425.5" fill="none" stroke="#555" stroke-width="0.8" stroke-dasharray="1,1.3"/>
<path d="M303.8,349.0 L303.9,351.0 L304.0,353.0 L304.1,355.0 L304.2,357.0 L304.3,359.0 L304.4,361.0 L304.6,363.0 L304.7,365.0 L304.9,367.0 L305.1,369.0 L305.3,371.0 L305.6,373.0 L305.8,375.0 L306.1,377.0 L306.5,379.0 L306.8,381.0 L307.2,383.0 L307.7,385.0 L308.1,387.0 L308.7,389.0 L309.3,391.0 L309.9,393.0 L310.6,395.0 L311.4,397.0 L312.3,399.0 L313.3,401.0 L314.3,403.0 L315.5,405.0 L316.8,407.0 L318.3,409.0 L319.9,411.0 L321.7,413.0 L323.6,415.0 L325.8,417.0 L328.2,419.0 L330.8,421.0 L333.7,423.0 L337.0,425.0 L337.8,425.5" fill="none" stroke="#555" stroke-width="0.8" stroke-dasharray="1,1.3"/>
<line x1="295.8" y1="348.5" x2="295.8" y2="455" stroke="#111" stroke-width="1.3" stroke-dasharray="1.6,1.5"/>
<line x1="284" y1="339" x2="279" y2="385" stroke="#d4dbe8" stroke-width="0.5"/>
<line x1="276" y1="345" x2="276" y2="387" stroke="#d4dbe8" stroke-width="0.5"/>
<line x1="268" y1="352" x2="272" y2="389" stroke="#d4dbe8" stroke-width="0.5"/>
<line x1="260" y1="359" x2="268" y2="391" stroke="#d4dbe8" stroke-width="0.5"/>
<line x1="255" y1="366" x2="262" y2="391" stroke="#d4dbe8" stroke-width="0.5"/>
<line x1="337" y1="350" x2="318" y2="355" stroke="#e2d4da" stroke-width="0.5"/>
<line x1="337" y1="356" x2="318" y2="357" stroke="#e2d4da" stroke-width="0.5"/>
<line x1="336" y1="362" x2="322" y2="378" stroke="#e2d4da" stroke-width="0.5"/>
<line x1="330" y1="367" x2="318" y2="382" stroke="#e2d4da" stroke-width="0.5"/>
<line x1="318" y1="373" x2="310" y2="386" stroke="#e2d4da" stroke-width="0.5"/>
<line x1="344" y1="370" x2="328" y2="385" stroke="#e2d4da" stroke-width="0.5"/>
<line x1="347" y1="376" x2="330" y2="386" stroke="#e2d4da" stroke-width="0.5"/>
<line x1="338" y1="390" x2="332" y2="396" stroke="#e2d4da" stroke-width="0.5"/>
<line x1="346" y1="396" x2="330" y2="395" stroke="#e2d4da" stroke-width="0.5"/>
<line x1="344" y1="405" x2="332" y2="400" stroke="#e2d4da" stroke-width="0.5"/>
<line x1="338" y1="411" x2="328" y2="403" stroke="#e2d4da" stroke-width="0.5"/>
<line x1="338" y1="419" x2="330" y2="409" stroke="#e2d4da" stroke-width="0.5"/>
<path d="M256.1,417.4a1.75,1.75 0 1,0 3.5,0a1.75,1.75 0 1,0 -3.5,0M258.8,417.2a1.75,1.75 0 1,0 3.5,0a1.75,1.75 0 1,0 -3.5,0M257.3,419.8a1.75,1.75 0 1,0 3.5,0a1.75,1.75 0 1,0 -3.5,0M263.6,405.9a1.75,1.75 0 1,0 3.5,0a1.75,1.75 0 1,0 -3.5,0M258.7,415.0a1.75,1.75 0 1,0 3.5,0a1.75,1.75 0 1,0 -3.5,0M277.7,384.0a1.75,1.75 0 1,0 3.5,0a1.75,1.75 0 1,0 -3.5,0M262.2,413.0a1.75,1.75 0 1,0 3.5,0a1.75,1.75 0 1,0 -3.5,0M257.8,410.5a1.75,1.75 0 1,0 3.5,0a1.75,1.75 0 1,0 -3.5,0M271.5,399.0a1.75,1.75 0 1,0 3.5,0a1.75,1.75 0 1,0 -3.5,0M258.3,419.4a1.75,1.75 0 1,0 3.5,0a1.75,1.75 0 1,0 -3.5,0M271.6,386.6a1.75,1.75 0 1,0 3.5,0a1.75,1.75 0 1,0 -3.5,0M262.2,402.7a1.75,1.75 0 1,0 3.5,0a1.75,1.75 0 1,0 -3.5,0M258.1,386.9a1.75,1.75 0 1,0 3.5,0a1.75,1.75 0 1,0 -3.5,0M264.7,399.3a1.75,1.75 0 1,0 3.5,0a1.75,1.75 0 1,0 -3.5,0M263.3,391.0a1.75,1.75 0 1,0 3.5,0a1.75,1.75 0 1,0 -3.5,0M268.8,402.7a1.75,1.75 0 1,0 3.5,0a1.75,1.75 0 1,0 -3.5,0M257.6,404.2a1.75,1.75 0 1,0 3.5,0a1.75,1.75 0 1,0 -3.5,0M257.5,416.3a1.75,1.75 0 1,0 3.5,0a1.75,1.75 0 1,0 -3.5,0M258.6,419.4a1.75,1.75 0 1,0 3.5,0a1.75,1.75 0 1,0 -3.5,0M269.2,385.8a1.75,1.75 0 1,0 3.5,0a1.75,1.75 0 1,0 -3.5,0M256.1,419.6a1.75,1.75 0 1,0 3.5,0a1.75,1.75 0 1,0 -3.5,0M260.6,402.4a1.75,1.75 0 1,0 3.5,0a1.75,1.75 0 1,0 -3.5,0M260.0,381.2a1.75,1.75 0 1,0 3.5,0a1.75,1.75 0 1,0 -3.5,0M261.8,385.1a1.75,1.75 0 1,0 3.5,0a1.75,1.75 0 1,0 -3.5,0M264.1,405.8a1.75,1.75 0 1,0 3.5,0a1.75,1.75 0 1,0 -3.5,0M257.9,418.9a1.75,1.75 0 1,0 3.5,0a1.75,1.75 0 1,0 -3.5,0M275.7,394.9a1.75,1.75 0 1,0 3.5,0a1.75,1.75 0 1,0 -3.5,0M263.7,406.0a1.75,1.75 0 1,0 3.5,0a1.75,1.75 0 1,0 -3.5,0M260.5,415.4a1.75,1.75 0 1,0 3.5,0a1.75,1.75 0 1,0 -3.5,0M268.1,394.8a1.75,1.75 0 1,0 3.5,0a1.75,1.75 0 1,0 -3.5,0M277.0,392.3a1.75,1.75 0 1,0 3.5,0a1.75,1.75 0 1,0 -3.5,0M277.8,390.0a1.75,1.75 0 1,0 3.5,0a1.75,1.75 0 1,0 -3.5,0M255.0,382.6a1.75,1.75 0 1,0 3.5,0a1.75,1.75 0 1,0 -3.5,0M258.5,402.7a1.75,1.75 0 1,0 3.5,0a1.75,1.75 0 1,0 -3.5,0M257.0,400.8a1.75,1.75 0 1,0 3.5,0a1.75,1.75 0 1,0 -3.5,0M261.2,414.3a1.75,1.75 0 1,0 3.5,0a1.75,1.75 0 1,0 -3.5,0M268.7,408.1a1.75,1.75 0 1,0 3.5,0a1.75,1.75 0 1,0 -3.5,0M256.3,420.7a1.75,1.75 0 1,0 3.5,0a1.75,1.75 0 1,0 -3.5,0M254.8,409.2a1.75,1.75 0 1,0 3.5,0a1.75,1.75 0 1,0 -3.5,0M265.7,382.0a1.75,1.75 0 1,0 3.5,0a1.75,1.75 0 1,0 -3.5,0M255.8,419.7a1.75,1.75 0 1,0 3.5,0a1.75,1.75 0 1,0 -3.5,0M254.9,403.3a1.75,1.75 0 1,0 3.5,0a1.75,1.75 0 1,0 -3.5,0M273.8,397.0a1.75,1.75 0 1,0 3.5,0a1.75,1.75 0 1,0 -3.5,0M269.2,404.2a1.75,1.75 0 1,0 3.5,0a1.75,1.75 0 1,0 -3.5,0M260.0,380.5a1.75,1.75 0 1,0 3.5,0a1.75,1.75 0 1,0 -3.5,0M275.0,387.3a1.75,1.75 0 1,0 3.5,0a1.75,1.75 0 1,0 -3.5,0M278.2,384.2a1.75,1.75 0 1,0 3.5,0a1.75,1.75 0 1,0 -3.5,0M275.3,391.0a1.75,1.75 0 1,0 3.5,0a1.75,1.75 0 1,0 -3.5,0M261.0,401.1a1.75,1.75 0 1,0 3.5,0a1.75,1.75 0 1,0 -3.5,0M256.2,419.6a1.75,1.75 0 1,0 3.5,0a1.75,1.75 0 1,0 -3.5,0M255.7,408.6a1.75,1.75 0 1,0 3.5,0a1.75,1.75 0 1,0 -3.5,0M264.5,414.0a1.75,1.75 0 1,0 3.5,0a1.75,1.75 0 1,0 -3.5,0M273.4,384.5a1.75,1.75 0 1,0 3.5,0a1.75,1.75 0 1,0 -3.5,0M258.2,391.1a1.75,1.75 0 1,0 3.5,0a1.75,1.75 0 1,0 -3.5,0M269.3,394.9a1.75,1.75 0 1,0 3.5,0a1.75,1.75 0 1,0 -3.5,0M259.0,419.1a1.75,1.75 0 1,0 3.5,0a1.75,1.75 0 1,0 -3.5,0M256.1,420.7a1.75,1.75 0 1,0 3.5,0a1.75,1.75 0 1,0 -3.5,0M257.3,406.8a1.75,1.75 0 1,0 3.5,0a1.75,1.75 0 1,0 -3.5,0M262.3,409.8a1.75,1.75 0 1,0 3.5,0a1.75,1.75 0 1,0 -3.5,0M274.6,394.7a1.75,1.75 0 1,0 3.5,0a1.75,1.75 0 1,0 -3.5,0M258.1,390.5a1.75,1.75 0 1,0 3.5,0a1.75,1.75 0 1,0 -3.5,0M258.4,386.5a1.75,1.75 0 1,0 3.5,0a1.75,1.75 0 1,0 -3.5,0M268.8,404.1a1.75,1.75 0 1,0 3.5,0a1.75,1.75 0 1,0 -3.5,0M267.1,386.6a1.75,1.75 0 1,0 3.5,0a1.75,1.75 0 1,0 -3.5,0M264.8,403.6a1.75,1.75 0 1,0 3.5,0a1.75,1.75 0 1,0 -3.5,0M266.3,396.9a1.75,1.75 0 1,0 3.5,0a1.75,1.75 0 1,0 -3.5,0M252.8,421.0a1.75,1.75 0 1,0 3.5,0a1.75,1.75 0 1,0 -3.5,0M256.2,418.0a1.75,1.75 0 1,0 3.5,0a1.75,1.75 0 1,0 -3.5,0" fill="none" stroke="#7aa0d4" stroke-width="0.85"/>
<path d="M312.8,356.5a1.75,1.75 0 1,0 3.5,0a1.75,1.75 0 1,0 -3.5,0M310.8,356.5a1.75,1.75 0 1,0 3.5,0a1.75,1.75 0 1,0 -3.5,0M306.2,386.0a1.75,1.75 0 1,0 3.5,0a1.75,1.75 0 1,0 -3.5,0M308.8,385.0a1.75,1.75 0 1,0 3.5,0a1.75,1.75 0 1,0 -3.5,0M311.2,387.0a1.75,1.75 0 1,0 3.5,0a1.75,1.75 0 1,0 -3.5,0M307.2,389.0a1.75,1.75 0 1,0 3.5,0a1.75,1.75 0 1,0 -3.5,0M309.2,391.5a1.75,1.75 0 1,0 3.5,0a1.75,1.75 0 1,0 -3.5,0M312.2,390.5a1.75,1.75 0 1,0 3.5,0a1.75,1.75 0 1,0 -3.5,0M315.2,392.5a1.75,1.75 0 1,0 3.5,0a1.75,1.75 0 1,0 -3.5,0M318.2,393.5a1.75,1.75 0 1,0 3.5,0a1.75,1.75 0 1,0 -3.5,0M320.8,393.0a1.75,1.75 0 1,0 3.5,0a1.75,1.75 0 1,0 -3.5,0M322.2,395.0a1.75,1.75 0 1,0 3.5,0a1.75,1.75 0 1,0 -3.5,0M326.2,394.5a1.75,1.75 0 1,0 3.5,0a1.75,1.75 0 1,0 -3.5,0M321.8,397.0a1.75,1.75 0 1,0 3.5,0a1.75,1.75 0 1,0 -3.5,0M310.2,394.0a1.75,1.75 0 1,0 3.5,0a1.75,1.75 0 1,0 -3.5,0M312.8,396.0a1.75,1.75 0 1,0 3.5,0a1.75,1.75 0 1,0 -3.5,0M311.2,398.5a1.75,1.75 0 1,0 3.5,0a1.75,1.75 0 1,0 -3.5,0M312.8,401.0a1.75,1.75 0 1,0 3.5,0a1.75,1.75 0 1,0 -3.5,0M312.2,404.0a1.75,1.75 0 1,0 3.5,0a1.75,1.75 0 1,0 -3.5,0M313.8,406.0a1.75,1.75 0 1,0 3.5,0a1.75,1.75 0 1,0 -3.5,0M316.2,408.0a1.75,1.75 0 1,0 3.5,0a1.75,1.75 0 1,0 -3.5,0M318.2,407.5a1.75,1.75 0 1,0 3.5,0a1.75,1.75 0 1,0 -3.5,0M320.8,409.0a1.75,1.75 0 1,0 3.5,0a1.75,1.75 0 1,0 -3.5,0M323.2,409.0a1.75,1.75 0 1,0 3.5,0a1.75,1.75 0 1,0 -3.5,0M326.2,407.0a1.75,1.75 0 1,0 3.5,0a1.75,1.75 0 1,0 -3.5,0M329.2,405.5a1.75,1.75 0 1,0 3.5,0a1.75,1.75 0 1,0 -3.5,0M322.8,417.0a1.75,1.75 0 1,0 3.5,0a1.75,1.75 0 1,0 -3.5,0M314.2,405.0a1.75,1.75 0 1,0 3.5,0a1.75,1.75 0 1,0 -3.5,0M310.8,392.0a1.75,1.75 0 1,0 3.5,0a1.75,1.75 0 1,0 -3.5,0" fill="none" stroke="#a3154f" stroke-width="0.95"/>
<text x="273.5" y="338.7" font-size="6.6" fill="#b3c1de" font-style="italic">RASD1</text>
<text x="258.8" y="344.8" font-size="6.6" fill="#b3c1de" font-style="italic">ZNF90</text>
<text x="250.2" y="351.7" font-size="6.6" fill="#b3c1de" font-style="italic">ZNF711</text>
<text x="251" y="358.6" font-size="6.6" fill="#b3c1de" font-style="italic">TJP1</text>
<text x="244.6" y="365.6" font-size="6.6" fill="#b3c1de" font-style="italic">RXRA</text>
<text x="326.2" y="350.9" font-size="6.6" fill="#c07f9f" font-style="italic">LINC01882</text>
<text x="337" y="357.6" font-size="6.6" fill="#c07f9f" font-style="italic">LINC00377</text>
<text x="336.3" y="363" font-size="6.6" fill="#c07f9f" font-style="italic">GALR2</text>
<text x="320.2" y="368.4" font-size="6.6" fill="#c07f9f" font-style="italic">ACSL6</text>
<text x="308" y="373.7" font-size="6.6" fill="#c07f9f" font-style="italic">SCN2A</text>
<text x="344.4" y="371" font-size="6.6" fill="#c07f9f" font-style="italic">ACOXL</text>
<text x="347" y="377.8" font-size="6.6" fill="#c07f9f" font-style="italic">SRPX</text>
<text x="337" y="391.2" font-size="6.6" fill="#c07f9f" font-style="italic">TNFRSF1B</text>
<text x="346.4" y="397.3" font-size="6.6" fill="#c07f9f" font-style="italic">CCND2</text>
<text x="346.4" y="406.7" font-size="6.6" fill="#c07f9f" font-style="italic">SOCS2</text>
<text x="337" y="414" font-size="6.6" fill="#c07f9f" font-style="italic">SOCS2_AS1</text>
<text x="340" y="421" font-size="6.6" fill="#c07f9f" font-style="italic">SLC47A1</text>
<line x1="346.4" y1="398" x2="367.3" y2="398" stroke="#c07f9f" stroke-width="0.5"/>
<text x="244" y="375.2" font-size="6.6" fill="#222" font-style="italic">BCL6</text>
<path d="M251.1,378.12 L256.9,378.12 L254,383.06Z" fill="#c9c98a" stroke="#1a1a1a" stroke-width="1"/>
<text x="275" y="448.2" font-size="6.6" fill="#222" font-style="italic">MYC</text>
<text x="302.7" y="445.8" font-size="6.6" fill="#222" font-style="italic">BCL2</text>
<path d="M290.6,449.32 L296.4,449.32 L293.5,454.25Z" fill="#c9c98a" stroke="#1a1a1a" stroke-width="1"/>
<path d="M294.3,449.32 L300.1,449.32 L297.2,454.25Z" fill="#c9c98a" stroke="#1a1a1a" stroke-width="1"/>
<text x="243.8" y="452.7" font-size="6.3"><tspan font-style="italic">n</tspan> = 18,252</text>
<line x1="240.4" y1="349" x2="240.4" y2="455.6" stroke="#222" stroke-width="1.1"/>
<line x1="240.4" y1="455" x2="345.4" y2="455" stroke="#222" stroke-width="1.1"/>
<text x="237.8" y="352.7" font-size="8.6" text-anchor="end">10<tspan font-size="6.19" dy="-3.4">−3</tspan></text>
<line x1="237.8" y1="349.6" x2="240.4" y2="349.6" stroke="#222" stroke-width="0.9"/>
<text x="237.8" y="387.3" font-size="8.6" text-anchor="end">10<tspan font-size="6.19" dy="-3.4">−2</tspan></text>
<line x1="237.8" y1="384.2" x2="240.4" y2="384.2" stroke="#222" stroke-width="0.9"/>
<text x="237.8" y="421.9" font-size="8.6" text-anchor="end">10<tspan font-size="6.19" dy="-3.4">−1</tspan></text>
<line x1="237.8" y1="418.8" x2="240.4" y2="418.8" stroke="#222" stroke-width="0.9"/>
<text x="237.6" y="457" font-size="8.6" text-anchor="end" stroke="#2b2b2b" stroke-width="0.12">0</text>
<line x1="237.8" y1="454" x2="240.4" y2="454" stroke="#222" stroke-width="0.9"/>
<line x1="242.2" y1="455" x2="242.2" y2="457" stroke="#222" stroke-width="0.7"/>
<line x1="246.6" y1="455" x2="246.6" y2="457" stroke="#222" stroke-width="0.7"/>
<line x1="251" y1="455" x2="251" y2="458" stroke="#222" stroke-width="0.7"/>
<line x1="255.4" y1="455" x2="255.4" y2="457" stroke="#222" stroke-width="0.7"/>
<line x1="259.8" y1="455" x2="259.8" y2="457" stroke="#222" stroke-width="0.7"/>
<line x1="264.2" y1="455" x2="264.2" y2="457" stroke="#222" stroke-width="0.7"/>
<line x1="268.6" y1="455" x2="268.6" y2="457" stroke="#222" stroke-width="0.7"/>
<line x1="273" y1="455" x2="273" y2="458" stroke="#222" stroke-width="0.7"/>
<line x1="277.4" y1="455" x2="277.4" y2="457" stroke="#222" stroke-width="0.7"/>
<line x1="281.8" y1="455" x2="281.8" y2="457" stroke="#222" stroke-width="0.7"/>
<line x1="286.2" y1="455" x2="286.2" y2="457" stroke="#222" stroke-width="0.7"/>
<line x1="290.6" y1="455" x2="290.6" y2="457" stroke="#222" stroke-width="0.7"/>
<line x1="295" y1="455" x2="295" y2="458" stroke="#222" stroke-width="0.7"/>
<line x1="299.4" y1="455" x2="299.4" y2="457" stroke="#222" stroke-width="0.7"/>
<line x1="303.8" y1="455" x2="303.8" y2="457" stroke="#222" stroke-width="0.7"/>
<line x1="308.2" y1="455" x2="308.2" y2="457" stroke="#222" stroke-width="0.7"/>
<line x1="312.6" y1="455" x2="312.6" y2="457" stroke="#222" stroke-width="0.7"/>
<line x1="317" y1="455" x2="317" y2="458" stroke="#222" stroke-width="0.7"/>
<line x1="321.4" y1="455" x2="321.4" y2="457" stroke="#222" stroke-width="0.7"/>
<line x1="325.8" y1="455" x2="325.8" y2="457" stroke="#222" stroke-width="0.7"/>
<line x1="330.2" y1="455" x2="330.2" y2="457" stroke="#222" stroke-width="0.7"/>
<line x1="334.6" y1="455" x2="334.6" y2="457" stroke="#222" stroke-width="0.7"/>
<line x1="339" y1="455" x2="339" y2="458" stroke="#222" stroke-width="0.7"/>
<line x1="343.4" y1="455" x2="343.4" y2="457" stroke="#222" stroke-width="0.7"/>
<text x="250.8" y="465.2" font-size="8.6" text-anchor="middle" stroke="#2b2b2b" stroke-width="0.12">−10</text>
<text x="272.7" y="465.2" font-size="8.6" text-anchor="middle" stroke="#2b2b2b" stroke-width="0.12">−5</text>
<text x="295" y="465.2" font-size="8.6" text-anchor="middle" stroke="#2b2b2b" stroke-width="0.12">0</text>
<text x="317.2" y="465.2" font-size="8.6" text-anchor="middle" stroke="#2b2b2b" stroke-width="0.12">5</text>
<text x="338.5" y="465.2" font-size="8.6" text-anchor="middle" stroke="#2b2b2b" stroke-width="0.12">10</text>
<text x="294.4" y="475.4" font-size="8.6" text-anchor="middle" stroke="#2b2b2b" stroke-width="0.12">Fold change</text>
<text x="294.8" y="486.8" font-size="8.6" text-anchor="middle" stroke="#2b2b2b" stroke-width="0.12">M+2+/M+2+6+ (log<tspan font-size="6" dy="1.8">2</tspan><tspan dy="-1.8">)</tspan></text>
<text x="221.4" y="404" font-size="8.6" text-anchor="middle" transform="rotate(-90 221.4 404)" stroke="#2b2b2b" stroke-width="0.12">FDR</text>
<circle cx="236.5" cy="495.3" r="1.8" fill="none" stroke="#a3154f" stroke-width="0.9"/>
<text x="241.6" y="498.2" font-size="7.65" fill="#c07f9f" stroke="#c07f9f" stroke-width="0.12">Enriched in M+2+ B cells (<tspan font-style="italic">n</tspan> = 29)</text>
<circle cx="236.5" cy="504.2" r="1.8" fill="none" stroke="#b3c1de" stroke-width="0.9"/>
<text x="241.6" y="507.1" font-size="7.65" fill="#b3c1de" stroke="#b3c1de" stroke-width="0.12">Enriched in M+2+6+ B cells (<tspan font-style="italic">n</tspan> = 50)</text>
<path d="M234.2,510.67 L238.8,510.67 L236.5,514.58Z" fill="#c9c98a" stroke="#1a1a1a" stroke-width="1"/>
<text x="241.6" y="515.6" font-size="7.65" stroke="#2b2b2b" stroke-width="0.12">MYC/BCL2/BCL6</text>
<text x="378.9" y="320.7" font-size="10" fill="#000" font-weight="bold">G</text>
<path d="M438,380 L447,376 L456,375.5 L465,378 L473,384 L478,393 L479.5,401 L478,410 L473,418 L466,424 L456,427 L445,425 L437,419 L432.5,410 L432,400 L434,389Z" fill="#e6e6e6"/>
<path d="M440,386 L447,383 L455,382.5 L463,384 L470,388 L474.5,394 L476,401 L475,408 L471,414 L464,418.5 L455,420 L446,419 L439,415 L435.5,408 L434.8,400 L436,392Z" fill="#d3d3d3"/>
<path d="M452.2,391.2h0M466.5,391.4h0M469.4,391.4h0M438.0,400.6h0M450.7,395.1h0M466.9,390.7h0M462.8,414.6h0M453.5,401.6h0M473.7,405.6h0M437.5,394.9h0M437.8,407.3h0M452.2,394.0h0M456.0,418.5h0M444.5,388.0h0M447.1,394.6h0M473.1,409.5h0M452.4,388.5h0M470.4,407.3h0M440.7,406.4h0M436.5,401.8h0M448.4,386.0h0M465.9,410.0h0M456.0,388.6h0M462.8,398.9h0M462.4,385.6h0M443.6,397.5h0M442.5,385.4h0M448.4,392.4h0M462.8,390.7h0M451.2,408.8h0M452.5,388.1h0M437.0,403.2h0M438.3,401.6h0M455.0,389.6h0M462.8,401.3h0M468.8,393.4h0M454.4,387.5h0M454.8,387.0h0M463.5,409.2h0M447.8,384.1h0M459.1,410.2h0M449.0,409.1h0M449.8,409.8h0M437.9,410.3h0M471.2,406.8h0M464.8,386.5h0M450.4,408.2h0M449.2,416.1h0M471.2,404.9h0M474.8,404.1h0M442.5,402.2h0M454.8,395.2h0M450.1,401.9h0M459.3,390.7h0M445.9,401.6h0M455.7,398.3h0M462.6,389.2h0M456.9,392.8h0M467.1,409.4h0M467.6,402.2h0M444.7,418.1h0M456.0,396.6h0M446.5,397.7h0M464.5,413.9h0M454.8,410.5h0M443.2,399.6h0M449.4,393.9h0M449.5,411.4h0M465.5,390.1h0M444.1,412.6h0M462.1,408.4h0M461.3,409.0h0M445.7,384.4h0M449.5,383.3h0M475.4,402.5h0M468.6,390.9h0M448.5,386.2h0M468.2,410.7h0M455.0,396.4h0M445.6,401.0h0M464.6,416.9h0M452.9,398.4h0M441.9,388.2h0M446.1,418.0h0M470.7,394.9h0M452.4,389.5h0M467.2,396.6h0M452.9,397.5h0M459.6,392.0h0M450.0,411.7h0M448.3,408.5h0M460.9,389.3h0M460.3,393.5h0M442.6,415.4h0M459.2,404.4h0M447.8,383.4h0M448.0,407.1h0M459.9,401.9h0M439.3,390.3h0M447.4,398.2h0M449.6,417.2h0M444.3,415.4h0M444.5,404.9h0M450.2,383.5h0M468.2,413.6h0M445.6,412.3h0M436.3,396.8h0M443.8,406.4h0M467.5,414.8h0M457.6,397.1h0M445.2,411.4h0M437.9,400.0h0M449.9,398.9h0M455.8,393.3h0M464.2,402.1h0M456.0,401.3h0M450.0,415.6h0M443.0,416.2h0M449.4,395.1h0M460.4,404.0h0M446.2,385.3h0M438.9,407.6h0M456.9,394.8h0M448.1,415.0h0M448.6,398.3h0M451.3,388.3h0M462.5,407.9h0M453.2,397.8h0M444.0,412.8h0M453.7,414.4h0M450.1,410.6h0M463.1,401.4h0M454.3,389.7h0M441.4,407.2h0M463.8,392.1h0M461.7,387.3h0M460.4,388.7h0M455.9,394.2h0M457.7,387.2h0M454.8,406.0h0M439.8,394.0h0M463.2,403.3h0M460.5,412.4h0M458.6,390.7h0M453.0,414.4h0M458.4,411.4h0M449.7,399.5h0M462.1,386.2h0M465.3,392.4h0M470.4,388.9h0M469.6,402.3h0M452.9,414.4h0M463.6,402.8h0M471.1,389.9h0M472.6,395.2h0M460.8,386.7h0M440.9,393.4h0M446.0,417.9h0M468.2,393.0h0M465.5,390.9h0" stroke="#ececec" stroke-width="0.90" stroke-linecap="round" fill="none"/>
<path d="M457.7,405.9h0M464.1,400.1h0M467.8,399.8h0M446.1,411.0h0M469.7,391.7h0M463.9,397.4h0M443.6,390.5h0M455.9,401.5h0M466.0,416.2h0M449.3,390.2h0M448.9,410.6h0M462.3,397.8h0M456.6,388.0h0M473.5,400.4h0M455.8,412.7h0M442.5,410.2h0M449.2,413.7h0M438.1,392.8h0M461.3,400.8h0M450.2,404.6h0M443.4,399.1h0M444.9,414.4h0M457.7,405.5h0M460.9,386.9h0M467.4,393.4h0M471.1,412.7h0M463.2,413.8h0M452.8,408.3h0M438.3,398.1h0M455.9,387.8h0M443.5,415.8h0M450.7,387.8h0M441.9,404.5h0M442.2,400.5h0M457.1,399.1h0M455.7,414.6h0M467.0,404.2h0M457.1,390.5h0M467.6,393.9h0M465.3,390.9h0M458.6,407.3h0M450.0,400.7h0M436.8,407.1h0M463.7,388.0h0M457.7,410.6h0M444.7,385.3h0M444.9,385.4h0M455.0,391.8h0M446.9,400.0h0M450.0,412.8h0M465.1,386.4h0M448.2,386.2h0M464.0,412.4h0M451.7,418.3h0M450.9,394.2h0M456.0,399.2h0M452.8,412.0h0M469.7,400.6h0M441.7,397.8h0M472.3,397.9h0M462.4,403.8h0M453.8,404.4h0M444.5,403.7h0M449.9,416.3h0M461.0,406.6h0M470.3,400.3h0M439.6,393.7h0M464.6,410.4h0M442.8,407.1h0M462.2,407.7h0M434.9,399.2h0M448.0,405.3h0M448.5,387.0h0M462.8,393.2h0M468.0,393.9h0M457.5,413.5h0M439.0,410.5h0M449.9,389.0h0M451.0,401.6h0M451.8,386.8h0M456.5,393.7h0M452.7,390.9h0M461.8,414.5h0M450.9,411.5h0M446.0,386.3h0M435.8,399.5h0M452.9,411.8h0M445.9,388.0h0M456.3,398.6h0M444.2,403.9h0M451.9,383.3h0M453.1,417.7h0M447.0,404.9h0M447.0,409.9h0M439.4,400.5h0M443.6,385.2h0M437.9,389.6h0M456.3,387.3h0M469.3,398.3h0M444.8,391.4h0M465.9,385.8h0M474.6,397.9h0M459.7,415.7h0M463.8,404.9h0M465.0,392.8h0M455.4,389.3h0M452.8,393.0h0M459.2,393.7h0M445.8,407.1h0M455.3,390.9h0M438.9,401.8h0M455.7,410.1h0M450.1,398.1h0M472.4,392.7h0M445.1,413.8h0M460.3,390.0h0M468.8,403.8h0M441.5,392.1h0M460.5,389.6h0M453.9,409.8h0M438.1,407.8h0M438.5,400.5h0M461.9,408.8h0M452.3,396.6h0M463.9,410.9h0M462.0,397.7h0M458.5,402.1h0M470.1,391.4h0M465.9,409.9h0M471.8,392.4h0M467.9,400.5h0M447.4,396.4h0M468.4,414.9h0M470.3,408.1h0M441.3,388.1h0M458.4,390.3h0M448.5,386.0h0M440.7,410.0h0M443.6,415.1h0M448.2,415.1h0" stroke="#c6c6c6" stroke-width="1.00" stroke-linecap="round" fill="none"/>
<path d="M464.0,366.9h0M444.2,366.9h0M459.6,427.2h0M454.8,434.2h0M455.2,382.2h0M455.0,373.1h0M442.6,383.5h0M466.4,436.3h0M452.8,429.0h0M471.5,367.5h0M471.4,416.5h0M437.8,423.7h0M472.6,421.3h0M443.8,431.5h0M443.3,423.7h0M445.3,431.9h0M461.5,432.1h0M444.2,432.5h0M441.0,421.2h0M442.4,419.9h0M467.9,423.4h0M465.6,383.6h0M444.7,375.1h0M431.8,375.6h0M444.2,433.4h0M455.5,436.8h0M434.9,410.9h0M462.1,378.3h0M462.3,371.4h0M456.5,433.8h0M435.0,421.4h0M454.8,366.9h0M457.3,425.4h0M444.9,425.4h0M442.8,373.3h0M460.0,374.2h0M479.3,419.9h0M429.5,369.2h0M467.8,385.6h0M442.7,431.3h0M466.7,383.6h0M432.4,407.0h0M447.7,420.0h0M447.6,431.9h0M468.3,436.4h0M447.0,368.1h0M440.3,417.6h0M458.8,434.8h0M446.9,367.0h0M458.0,422.1h0M452.0,368.2h0M442.1,382.9h0M447.7,433.8h0M469.2,421.3h0M442.7,378.4h0M459.2,367.3h0M456.2,425.7h0M442.9,431.9h0M464.1,370.6h0M451.7,375.5h0M450.2,374.6h0M439.9,422.9h0M448.3,424.3h0M454.7,424.3h0M460.9,423.5h0M479.1,424.6h0M455.2,372.9h0M434.4,425.1h0M465.6,425.2h0M454.0,431.4h0M471.8,426.3h0M470.7,429.1h0M472.9,383.2h0M449.2,374.7h0M438.0,421.3h0M456.1,373.0h0M456.8,423.9h0M441.7,377.3h0M463.7,428.5h0M461.9,377.5h0M473.0,372.5h0M459.5,428.0h0M444.0,368.2h0M476.1,421.7h0M436.8,375.0h0M464.4,381.2h0M450.5,427.3h0M443.4,431.4h0M456.4,432.7h0M440.2,427.2h0M460.6,420.6h0M462.1,436.3h0M438.0,429.3h0M467.2,418.6h0M467.0,431.5h0M442.3,430.8h0M459.5,430.3h0M467.2,434.5h0M448.9,375.9h0M470.1,427.9h0M457.7,426.2h0M454.8,424.2h0M439.1,381.2h0M471.0,419.4h0M442.9,380.0h0M457.4,422.8h0M454.4,435.4h0M449.9,381.7h0M463.8,429.2h0M449.3,373.6h0M480.0,404.5h0M466.1,380.7h0M457.3,421.6h0M461.8,421.4h0M440.6,369.0h0M451.5,370.7h0M439.1,431.3h0M459.3,370.8h0M450.2,369.1h0M474.2,410.4h0M446.8,379.2h0M457.9,378.9h0M447.8,435.1h0M438.2,373.1h0M457.8,366.9h0M477.9,397.6h0M469.2,417.0h0M473.6,417.3h0M471.4,423.9h0M466.7,436.0h0M453.9,366.7h0M456.3,380.8h0M444.6,421.7h0M448.7,368.6h0M446.7,366.0h0M454.0,420.3h0M436.7,413.5h0M461.8,380.6h0M439.2,417.7h0M451.5,380.0h0M450.9,372.8h0M453.0,378.3h0M439.4,417.9h0M469.9,376.5h0M468.4,372.8h0M469.4,428.8h0M464.1,419.2h0M446.5,433.4h0M451.5,433.9h0M455.9,380.1h0M431.8,367.7h0M465.9,425.3h0M454.3,429.9h0M460.8,374.5h0M450.0,421.0h0M468.8,417.4h0M440.1,422.2h0M477.3,405.9h0M444.4,375.5h0M456.6,428.9h0" stroke="#d2d2d2" stroke-width="1.20" stroke-linecap="round" fill="none"/>
<line x1="455.5" y1="349.5" x2="455.5" y2="455.5" stroke="#222" stroke-width="0.9" stroke-dasharray="2,1.8"/>
<line x1="402" y1="402" x2="508" y2="402" stroke="#222" stroke-width="0.9" stroke-dasharray="2,1.8"/>
<path d="M432.5,394.7h0M434.1,416.0h0M429.6,410.9h0M430.6,406.5h0M433.7,401.5h0M431.9,410.0h0M430.4,408.9h0M431.6,418.5h0M430.4,411.2h0M429.6,399.4h0M430.0,396.0h0M432.1,396.7h0M433.5,394.6h0M432.6,415.2h0M430.0,397.9h0M433.3,404.7h0M434.2,401.1h0M431.4,417.9h0M431.2,418.1h0M433.9,397.4h0M432.2,417.4h0M430.0,414.9h0M433.3,412.2h0M432.5,394.7h0M434.3,394.8h0M433.4,411.5h0M425.9,411.5h0M426.5,413.3h0M424.3,418.2h0M426.3,414.7h0M426.8,414.9h0M425.8,407.7h0M424.2,406.2h0M424.5,416.2h0M428.1,404.5h0M429.8,418.6h0M429.7,395.2h0M428.2,412.6h0M480.0,409.9h0M478.8,402.8h0M480.0,403.1h0M475.7,399.4h0M482.4,401.9h0M476.5,403.0h0M483.0,401.8h0M476.6,399.6h0M482.2,399.6h0M476.5,398.0h0M478.6,402.3h0M478.6,401.9h0M475.9,403.6h0M482.7,402.0h0M481.8,401.9h0M480.7,401.0h0M479.2,400.0h0M479.3,402.1h0M481.5,406.8h0M478.6,407.3h0M477.5,402.3h0M480.4,405.9h0M479.8,405.2h0M479.3,399.3h0M482.9,402.1h0M478.0,402.6h0M477.8,404.6h0M475.8,404.6h0M482.4,394.8h0M480.7,402.7h0M486.1,407.0h0M483.1,406.2h0M482.4,401.9h0M485.2,407.4h0M482.2,396.6h0M486.8,408.1h0M487.8,391.0h0M482.5,390.7h0M486.1,406.6h0M485.5,407.5h0M484.0,386.5h0M486.0,389.0h0M488.0,411.0h0M486.0,412.5h0M476.0,412.5h0" stroke="#000" stroke-width="1.5" stroke-linecap="square" fill="none"/>
<line x1="484" y1="364" x2="496" y2="354.5" stroke="#c9739d" stroke-width="0.5"/>
<circle cx="481.8" cy="366.3" r="2.1" fill="#9a3a66" stroke="#4a1a30" stroke-width="0.7"/>
<text x="497.5" y="353.8" font-size="6.6" fill="#c07f9f" font-style="italic">CCND2</text>
<text x="489.5" y="395.5" font-size="8.6" font-style="italic" stroke="#2b2b2b" stroke-width="0.12">BCL2</text>
<path d="M492.1,397.82 L497.9,397.82 L495,402.75Z" fill="#c9c98a" stroke="#1a1a1a" stroke-width="1"/>
<path d="M495.6,401.32 L501.4,401.32 L498.5,406.25Z" fill="#c9c98a" stroke="#1a1a1a" stroke-width="1"/>
<text x="493.8" y="417.5" font-size="8.6" font-style="italic" stroke="#2b2b2b" stroke-width="0.12">MYC</text>
<text x="408.8" y="438.8" font-size="6.6" font-style="italic">BCL6</text>
<path d="M418.4,441.02 L424.2,441.02 L421.3,445.95Z" fill="#c9c98a" stroke="#1a1a1a" stroke-width="1"/>
<text x="480" y="451" font-size="6.3"><tspan font-style="italic">n</tspan> = 12,913</text>
<line x1="402" y1="349.3" x2="402" y2="455.8" stroke="#222" stroke-width="1.1"/>
<line x1="402" y1="455.5" x2="508" y2="455.5" stroke="#222" stroke-width="1.1"/>
<text x="398.9" y="361.1" font-size="8.6" text-anchor="end" stroke="#2b2b2b" stroke-width="0.12">10</text>
<line x1="399.5" y1="358" x2="402" y2="358" stroke="#222" stroke-width="0.9"/>
<text x="398.9" y="383.1" font-size="8.6" text-anchor="end" stroke="#2b2b2b" stroke-width="0.12">5</text>
<line x1="399.5" y1="380" x2="402" y2="380" stroke="#222" stroke-width="0.9"/>
<text x="398.9" y="405.1" font-size="8.6" text-anchor="end" stroke="#2b2b2b" stroke-width="0.12">0</text>
<line x1="399.5" y1="402" x2="402" y2="402" stroke="#222" stroke-width="0.9"/>
<text x="398.9" y="427.1" font-size="8.6" text-anchor="end" stroke="#2b2b2b" stroke-width="0.12">−5</text>
<line x1="399.5" y1="424" x2="402" y2="424" stroke="#222" stroke-width="0.9"/>
<text x="398.9" y="449.1" font-size="8.6" text-anchor="end" stroke="#2b2b2b" stroke-width="0.12">−10</text>
<line x1="399.5" y1="446" x2="402" y2="446" stroke="#222" stroke-width="0.9"/>
<line x1="400.5" y1="454.8" x2="402" y2="454.8" stroke="#222" stroke-width="0.6"/>
<line x1="400.5" y1="450.4" x2="402" y2="450.4" stroke="#222" stroke-width="0.6"/>
<line x1="400.5" y1="441.6" x2="402" y2="441.6" stroke="#222" stroke-width="0.6"/>
<line x1="400.5" y1="437.2" x2="402" y2="437.2" stroke="#222" stroke-width="0.6"/>
<line x1="400.5" y1="432.8" x2="402" y2="432.8" stroke="#222" stroke-width="0.6"/>
<line x1="400.5" y1="428.4" x2="402" y2="428.4" stroke="#222" stroke-width="0.6"/>
<line x1="400.5" y1="419.6" x2="402" y2="419.6" stroke="#222" stroke-width="0.6"/>
<line x1="400.5" y1="415.2" x2="402" y2="415.2" stroke="#222" stroke-width="0.6"/>
<line x1="400.5" y1="410.8" x2="402" y2="410.8" stroke="#222" stroke-width="0.6"/>
<line x1="400.5" y1="406.4" x2="402" y2="406.4" stroke="#222" stroke-width="0.6"/>
<line x1="400.5" y1="397.6" x2="402" y2="397.6" stroke="#222" stroke-width="0.6"/>
<line x1="400.5" y1="393.2" x2="402" y2="393.2" stroke="#222" stroke-width="0.6"/>
<line x1="400.5" y1="388.8" x2="402" y2="388.8" stroke="#222" stroke-width="0.6"/>
<line x1="400.5" y1="384.4" x2="402" y2="384.4" stroke="#222" stroke-width="0.6"/>
<line x1="400.5" y1="375.6" x2="402" y2="375.6" stroke="#222" stroke-width="0.6"/>
<line x1="400.5" y1="371.2" x2="402" y2="371.2" stroke="#222" stroke-width="0.6"/>
<line x1="400.5" y1="366.8" x2="402" y2="366.8" stroke="#222" stroke-width="0.6"/>
<line x1="400.5" y1="362.4" x2="402" y2="362.4" stroke="#222" stroke-width="0.6"/>
<line x1="400.5" y1="353.6" x2="402" y2="353.6" stroke="#222" stroke-width="0.6"/>
<line x1="400.5" y1="349.2" x2="402" y2="349.2" stroke="#222" stroke-width="0.6"/>
<line x1="404" y1="455.5" x2="404" y2="458.2" stroke="#222" stroke-width="0.9"/>
<text x="404" y="467" font-size="8.6" text-anchor="middle" stroke="#2b2b2b" stroke-width="0.12">−0.5</text>
<line x1="455.5" y1="455.5" x2="455.5" y2="458.2" stroke="#222" stroke-width="0.9"/>
<text x="455.5" y="467" font-size="8.6" text-anchor="middle" stroke="#2b2b2b" stroke-width="0.12">0.0</text>
<line x1="507" y1="455.5" x2="507" y2="458.2" stroke="#222" stroke-width="0.9"/>
<text x="507" y="467" font-size="8.6" text-anchor="middle" stroke="#2b2b2b" stroke-width="0.12">0.5</text>
<line x1="414.3" y1="455.5" x2="414.3" y2="457" stroke="#222" stroke-width="0.6"/>
<line x1="424.6" y1="455.5" x2="424.6" y2="457" stroke="#222" stroke-width="0.6"/>
<line x1="434.9" y1="455.5" x2="434.9" y2="457" stroke="#222" stroke-width="0.6"/>
<line x1="445.2" y1="455.5" x2="445.2" y2="457" stroke="#222" stroke-width="0.6"/>
<line x1="465.8" y1="455.5" x2="465.8" y2="457" stroke="#222" stroke-width="0.6"/>
<line x1="476.1" y1="455.5" x2="476.1" y2="457" stroke="#222" stroke-width="0.6"/>
<line x1="486.4" y1="455.5" x2="486.4" y2="457" stroke="#222" stroke-width="0.6"/>
<line x1="496.7" y1="455.5" x2="496.7" y2="457" stroke="#222" stroke-width="0.6"/>
<text x="455.4" y="479.8" font-size="8.6" text-anchor="middle" stroke="#2b2b2b" stroke-width="0.12">Pooled Spearman rho</text>
<text x="384" y="402.5" font-size="8.6" text-anchor="middle" transform="rotate(-90 384 402.5)" stroke="#2b2b2b" stroke-width="0.12">FC M+2+/M+2+6+ (log<tspan font-size="6" dy="1.8">2</tspan><tspan dy="-1.8">)</tspan></text>
<circle cx="388.5" cy="496.2" r="1.8" fill="none" stroke="#a3154f" stroke-width="0.9"/>
<text x="393.2" y="499" font-size="7.6" stroke="#2b2b2b" stroke-width="0.12">Enriched in M+2+6– and GEP (<tspan font-style="italic">n</tspan> = 1)</text>
<circle cx="389" cy="503" r="0.9" fill="#000"/>
<text x="393.2" y="506" font-size="7.6" stroke="#2b2b2b" stroke-width="0.12">GEP hits (<tspan font-style="italic">n</tspan> = 62)</text>
<path d="M386.5,508.27 L391.1,508.27 L388.8,512.18Z" fill="#c9c98a" stroke="#1a1a1a" stroke-width="1"/>
<text x="393.2" y="513.5" font-size="7.6" stroke="#2b2b2b" stroke-width="0.12">MYC/BCL2/BCL6</text>
<text x="1.4" y="536.3" font-size="10" fill="#000" font-weight="bold">H</text>
<text x="69.5" y="531.8" font-size="8.6" text-anchor="middle" stroke="#2b2b2b" stroke-width="0.12">GEP</text>
<text x="70.2" y="541.3" font-size="8.6" text-anchor="middle" stroke="#2b2b2b" stroke-width="0.12"><tspan font-style="italic">P</tspan> = 0.007</text>
<line x1="61" y1="543.3" x2="79.4" y2="543.3" stroke="#222" stroke-width="1.1"/>
<line x1="61.5" y1="543.3" x2="61.5" y2="545.3" stroke="#222" stroke-width="1.1"/>
<line x1="78.9" y1="543.3" x2="78.9" y2="545.3" stroke="#222" stroke-width="1.1"/>
<rect x="55.4" y="547" width="27.6" height="79.5" fill="#f3f4f6"/>
<text x="50.8" y="566.6" font-size="8.6" text-anchor="end" stroke="#2b2b2b" stroke-width="0.12">0.5</text>
<line x1="52.5" y1="563.5" x2="54.7" y2="563.5" stroke="#555" stroke-width="0.7"/>
<text x="50.8" y="597.4" font-size="8.6" text-anchor="end" stroke="#2b2b2b" stroke-width="0.12">0</text>
<line x1="52.5" y1="594.3" x2="54.7" y2="594.3" stroke="#555" stroke-width="0.7"/>
<text x="50.8" y="628.2" font-size="8.6" text-anchor="end" stroke="#2b2b2b" stroke-width="0.12">−0.5</text>
<line x1="52.5" y1="625.1" x2="54.7" y2="625.1" stroke="#555" stroke-width="0.7"/>
<line x1="62.5" y1="570.6" x2="76" y2="602" stroke="#dcdfe6" stroke-width="1"/>
<line x1="61.2" y1="584.2" x2="74.6" y2="596.5" stroke="#dcdfe6" stroke-width="1"/>
<line x1="61.2" y1="587.5" x2="74.8" y2="599" stroke="#dcdfe6" stroke-width="1"/>
<line x1="61" y1="586.5" x2="74.5" y2="598" stroke="#dcdfe6" stroke-width="1"/>
<line x1="60" y1="555.8" x2="72.7" y2="608" stroke="#dcdfe6" stroke-width="1"/>
<line x1="58.7" y1="562.5" x2="73" y2="606.5" stroke="#dcdfe6" stroke-width="1"/>
<line x1="58.9" y1="563" x2="72.9" y2="607" stroke="#dcdfe6" stroke-width="1"/>
<line x1="58.7" y1="562.5" x2="72.7" y2="608" stroke="#b4d6ea" stroke-width="1.1"/>
<line x1="62.5" y1="570.6" x2="76" y2="602" stroke="#cdbcc6" stroke-width="1.1"/>
<circle cx="58.9" cy="563" r="1.58" fill="none" stroke="#a9d0e4" stroke-width="0.9"/>
<circle cx="72.9" cy="607" r="1.58" fill="none" stroke="#a9d0e4" stroke-width="0.9"/>
<rect x="56.92" y="560.72" width="3.57" height="3.57" fill="none" stroke="#b5bfdc" stroke-width="0.9"/>
<rect x="71.22" y="604.72" width="3.57" height="3.57" fill="none" stroke="#b5bfdc" stroke-width="0.9"/>
<path d="M58.01,557.3 L61.99,557.3 L60,553.9Z" fill="none" stroke="#7c84c0" stroke-width="0.9"/>
<path d="M70.7,609.5 L74.7,609.5 L72.7,606.1Z" fill="none" stroke="#7c84c0" stroke-width="0.9"/>
<circle cx="61" cy="586.5" r="1.26" fill="none" stroke="#606060" stroke-width="0.8"/>
<circle cx="74.5" cy="598" r="1.26" fill="none" stroke="#606060" stroke-width="0.8"/>
<circle cx="61.2" cy="587.5" r="1.26" fill="none" stroke="#909090" stroke-width="0.8"/>
<circle cx="74.8" cy="599" r="1.26" fill="none" stroke="#909090" stroke-width="0.8"/>
<circle cx="61.2" cy="584.2" r="1.68" fill="none" stroke="#a61d50" stroke-width="1.25"/>
<circle cx="74.6" cy="596.5" r="1.68" fill="none" stroke="#a61d50" stroke-width="1.25"/>
<circle cx="62.5" cy="570.6" r="2.31" fill="#8c1a4a"/>
<circle cx="76" cy="602" r="2.31" fill="#8c1a4a"/>
<text x="63.9" y="628.7" font-size="8.6" text-anchor="end" transform="rotate(-90 63.9 628.7)" stroke="#2b2b2b" stroke-width="0.12">High</text>
<text x="77.7" y="628.7" font-size="8.6" text-anchor="end" transform="rotate(-90 77.7 628.7)" stroke="#2b2b2b" stroke-width="0.12">Low</text>
<text x="71.2" y="656.5" font-size="8.6" text-anchor="middle" stroke="#2b2b2b" stroke-width="0.12">M+2+6–</text>
<text x="25.2" y="591" font-size="8.6" text-anchor="middle" transform="rotate(-90 25.2 591)" stroke="#2b2b2b" stroke-width="0.12">Mean CCND2</text>
<text x="34.5" y="591" font-size="8.6" text-anchor="middle" transform="rotate(-90 34.5 591)" stroke="#2b2b2b" stroke-width="0.12">mRNA (z-score)</text>
<line x1="3.8" y1="635.4" x2="21.2" y2="635.4" stroke="#e2e4e8" stroke-width="1"/>
<circle cx="11.9" cy="635.4" r="1.98" fill="#8c1a4a"/>
<text x="24" y="637.8" font-size="6.6">Visco</text>
<line x1="3.8" y1="642.5" x2="21.2" y2="642.5" stroke="#e2e4e8" stroke-width="1"/>
<circle cx="11.9" cy="642.5" r="1.44" fill="none" stroke="#a61d50" stroke-width="1.25"/>
<text x="24" y="644.9" font-size="6.6">Schmitz</text>
<line x1="3.8" y1="649.4" x2="21.2" y2="649.4" stroke="#e2e4e8" stroke-width="1"/>
<circle cx="11.9" cy="649.4" r="1.08" fill="none" stroke="#909090" stroke-width="0.8"/>
<text x="24" y="651.8" font-size="6.6">Reddy</text>
<line x1="3.8" y1="656.2" x2="21.2" y2="656.2" stroke="#e2e4e8" stroke-width="1"/>
<circle cx="11.9" cy="656.2" r="1.08" fill="none" stroke="#606060" stroke-width="0.8"/>
<text x="24" y="658.6" font-size="6.6">Sha</text>
<line x1="3.8" y1="663.5" x2="21.2" y2="663.5" stroke="#e2e4e8" stroke-width="1"/>
<path d="M10.19,664.78 L13.61,664.78 L11.9,661.88Z" fill="none" stroke="#7c84c0" stroke-width="0.9"/>
<text x="24" y="665.9" font-size="6.6">McCord</text>
<line x1="3.8" y1="670.6" x2="21.2" y2="670.6" stroke="#e2e4e8" stroke-width="1"/>
<rect x="10.37" y="669.07" width="3.06" height="3.06" fill="none" stroke="#b5bfdc" stroke-width="0.9"/>
<text x="24" y="673" font-size="6.6">Dubois</text>
<line x1="3.8" y1="677.3" x2="21.2" y2="677.3" stroke="#e2e4e8" stroke-width="1"/>
<circle cx="11.9" cy="677.3" r="1.35" fill="none" stroke="#a9d0e4" stroke-width="0.9"/>
<text x="24" y="679.7" font-size="6.6">Lenz</text>
<text x="139.5" y="540.6" font-size="8.6" text-anchor="middle" stroke="#2b2b2b" stroke-width="0.12">FDR = 0.041</text>
<line x1="127.2" y1="543.2" x2="151.8" y2="543.2" stroke="#222" stroke-width="1.1"/>
<line x1="127.7" y1="543.2" x2="127.7" y2="545.6" stroke="#222" stroke-width="1.1"/>
<line x1="151.3" y1="543.2" x2="151.3" y2="545.6" stroke="#222" stroke-width="1.1"/>
<rect x="118.7" y="547.3" width="42.5" height="79.7" fill="#f3f4f6"/>
<text x="115.3" y="551.85" font-size="8.6" text-anchor="end" stroke="#2b2b2b" stroke-width="0.12">15</text>
<line x1="117" y1="548.75" x2="119.2" y2="548.75" stroke="#555" stroke-width="0.7"/>
<text x="115.3" y="577.7" font-size="8.6" text-anchor="end" stroke="#2b2b2b" stroke-width="0.12">10</text>
<line x1="117" y1="574.6" x2="119.2" y2="574.6" stroke="#555" stroke-width="0.7"/>
<text x="115.3" y="603.55" font-size="8.6" text-anchor="end" stroke="#2b2b2b" stroke-width="0.12">5</text>
<line x1="117" y1="600.45" x2="119.2" y2="600.45" stroke="#555" stroke-width="0.7"/>
<text x="115.3" y="629.4" font-size="8.6" text-anchor="end" stroke="#2b2b2b" stroke-width="0.12">0</text>
<line x1="117" y1="626.3" x2="119.2" y2="626.3" stroke="#555" stroke-width="0.7"/>
<line x1="130.3" y1="553.6" x2="130.3" y2="567.4" stroke="#777" stroke-width="0.8"/>
<line x1="123" y1="561" x2="137.8" y2="561" stroke="#333" stroke-width="1.3"/>
<path d="M124.0,554.8a1.7,1.7 0 1,0 3.4,0a1.7,1.7 0 1,0 -3.4,0M133.1,554.8a1.7,1.7 0 1,0 3.4,0a1.7,1.7 0 1,0 -3.4,0M124.0,568.3a1.7,1.7 0 1,0 3.4,0a1.7,1.7 0 1,0 -3.4,0M133.1,565.2a1.7,1.7 0 1,0 3.4,0a1.7,1.7 0 1,0 -3.4,0" fill="none" stroke="#b03a66" stroke-width="0.9"/>
<line x1="148.7" y1="596" x2="148.7" y2="612" stroke="#777" stroke-width="0.8"/>
<line x1="141.2" y1="602.9" x2="156" y2="602.9" stroke="#333" stroke-width="1.3"/>
<path d="M142.5,598.6a1.7,1.7 0 1,0 3.4,0a1.7,1.7 0 1,0 -3.4,0M151.7,596.0a1.7,1.7 0 1,0 3.4,0a1.7,1.7 0 1,0 -3.4,0M151.7,599.8a1.7,1.7 0 1,0 3.4,0a1.7,1.7 0 1,0 -3.4,0M147.0,616.6a1.7,1.7 0 1,0 3.4,0a1.7,1.7 0 1,0 -3.4,0" fill="none" stroke="#b03a66" stroke-width="0.9"/>
<text x="98" y="587" font-size="8.6" text-anchor="middle" transform="rotate(-90 98 587)" stroke="#2b2b2b" stroke-width="0.12">CCND2 mRNA (log<tspan font-size="6" dy="1.8">2</tspan><tspan dy="-1.8">)</tspan></text>
<text x="131.5" y="632.5" font-size="8.6" text-anchor="end" transform="rotate(-45 131.5 632.5)" stroke="#2b2b2b" stroke-width="0.12">M+2+</text>
<text x="151.5" y="634.5" font-size="8.6" text-anchor="end" transform="rotate(-45 151.5 634.5)" stroke="#2b2b2b" stroke-width="0.12">M+2+6+</text>
<text x="139.5" y="666.8" font-size="8.6" text-anchor="middle" stroke="#2b2b2b" stroke-width="0.12">Primary</text>
<text x="139.9" y="676.3" font-size="8.6" text-anchor="middle" stroke="#2b2b2b" stroke-width="0.12">GC B cells</text>
<text x="186" y="536.3" font-size="10" fill="#000" font-weight="bold">I</text>
<line x1="201.8" y1="548" x2="201.8" y2="651.5" stroke="#9a9a9a" stroke-width="0.8"/>
<line x1="201.4" y1="651.2" x2="305.4" y2="651.2" stroke="#9a9a9a" stroke-width="0.8"/>
<text x="205.4" y="555.4" font-size="8.6" stroke="#2b2b2b" stroke-width="0.12">MYC-transduced</text>
<text x="205.4" y="564.4" font-size="8.6" stroke="#2b2b2b" stroke-width="0.12">cluster</text>
<text x="292" y="542.8" font-size="8.6" stroke="#2b2b2b" stroke-width="0.12">Untransduced</text>
<text x="292" y="552.8" font-size="8.6" stroke="#2b2b2b" stroke-width="0.12">GC B cells</text>
<text x="206.2" y="638.4" font-size="8.6" stroke="#2b2b2b" stroke-width="0.12">BCL6-transduced</text>
<text x="273.6" y="648.4" font-size="8.6" text-anchor="end" stroke="#2b2b2b" stroke-width="0.12">cluster</text>
<text x="252.5" y="661.4" font-size="8.6" text-anchor="middle" font-weight="bold">UMAP1</text>
<text x="197.2" y="600.5" font-size="8.6" text-anchor="middle" font-weight="bold" transform="rotate(-90 197.2 600.5)">UMAP2</text>
<defs><linearGradient id="vir" x1="0" x2="1" y1="0" y2="0"><stop offset="0" stop-color="#fde725"/><stop offset="0.14" stop-color="#b5de2b"/><stop offset="0.28" stop-color="#6ece58"/><stop offset="0.42" stop-color="#35b779"/><stop offset="0.56" stop-color="#1f9e89"/><stop offset="0.7" stop-color="#26828e"/><stop offset="0.84" stop-color="#3e4989"/><stop offset="1" stop-color="#440154"/></linearGradient></defs>
<rect x="233.8" y="665" width="69.7" height="6.3" fill="url(#vir)"/>
<text x="200.4" y="677" font-size="8.6" stroke="#2b2b2b" stroke-width="0.12">CCND2</text>
<text x="235.2" y="680.4" font-size="8.6" text-anchor="middle" stroke="#2b2b2b" stroke-width="0.12">0</text>
<text x="257.5" y="680.4" font-size="8.6" text-anchor="middle" stroke="#2b2b2b" stroke-width="0.12">1</text>
<text x="280.3" y="680.4" font-size="8.6" text-anchor="middle" stroke="#2b2b2b" stroke-width="0.12">2</text>
<text x="302.6" y="680.4" font-size="8.6" text-anchor="middle" stroke="#2b2b2b" stroke-width="0.12">3</text>
<defs><linearGradient id="mycg" x1="0.8" y1="0" x2="0.3" y2="1"><stop offset="0" stop-color="#2a918a"/><stop offset="0.35" stop-color="#33a67c"/><stop offset="0.7" stop-color="#62c062"/><stop offset="1" stop-color="#45b16c"/></linearGradient><linearGradient id="untg" x1="0" y1="0" x2="1" y2="0"><stop offset="0" stop-color="#1e9286"/><stop offset="1" stop-color="#34a67f"/></linearGradient><linearGradient id="bclg" x1="0" y1="0" x2="0" y2="1"><stop offset="0" stop-color="#a9d23a"/><stop offset="0.2" stop-color="#d7e021"/><stop offset="1" stop-color="#e2e31c"/></linearGradient></defs>
<path d="M212.5,584 L216,578.5 L222,575 L228,573.8 L234,574.4 L239.4,578 L242,583 L241,590 L236,592 L231,594 L228,600 L226,608 L225,615 L222,620 L215,624 L209,622 L206.5,614 L207,604 L209.5,594Z" fill="url(#mycg)"/>
<path d="M283.3,552.5 L277.3,561.6 L275,570.6 L276.6,581.1 L282.6,587.2 L287.9,591.7 L290.1,594.7 L296.1,590.2 L299.9,584.2 L299.9,572.1 L296.1,561.6 L290,555.5Z" fill="url(#untg)"/>
<path d="M285.5,561 L288.5,560.5 L292.5,570 L295.5,580 L295,588 L292,587 L289,578 L286.5,569Z" fill="#c9e0ad"/>
<path d="M282.6,596.2 L285.6,599.2 L287.9,608.3 L290.9,620.3 L293.1,635.4 L292.4,644.4 L288.6,648.9 L283,649 L279.6,647.4 L277.3,638.4 L275,624.8 L276.6,612.8 L279.6,602.2Z" fill="url(#bclg)"/>
<path d="M222.0,589.7h0M226.7,580.7h0M228.6,578.0h0M221.3,585.8h0M217.6,587.1h0M224.9,588.2h0M226.2,593.9h0M217.6,594.1h0M233.6,587.1h0M219.1,587.1h0M235.5,588.7h0M212.1,587.0h0M236.1,580.2h0M237.3,583.2h0M238.6,581.9h0M237.2,589.5h0M221.7,585.2h0M235.4,582.4h0M225.8,586.5h0M235.2,579.1h0M213.0,588.7h0M240.6,584.9h0M217.2,579.2h0M237.9,577.4h0M214.3,592.7h0M231.5,589.5h0M231.5,581.3h0M222.3,591.5h0M220.1,579.8h0M217.5,594.3h0M222.4,586.2h0M231.4,579.1h0M218.2,585.1h0M230.0,577.0h0M211.5,591.9h0M234.1,577.4h0M219.5,592.7h0M230.4,588.1h0M235.6,576.0h0M239.1,589.8h0M219.0,593.1h0M230.0,595.2h0M226.3,589.8h0M231.9,574.7h0M213.6,594.0h0M222.8,594.3h0M218.8,577.9h0M241.5,583.6h0M225.3,594.3h0M235.7,579.5h0M210.4,596.0h0M237.1,581.7h0M215.3,584.5h0M238.7,588.7h0M231.0,578.6h0M234.0,579.1h0M231.1,580.9h0M233.8,575.2h0M232.5,583.7h0M214.0,589.4h0M214.9,593.9h0M232.9,581.1h0M239.4,587.5h0M230.9,593.9h0M228.1,576.9h0M240.5,586.0h0M236.5,579.6h0M217.8,589.5h0M210.6,595.5h0M214.3,589.8h0" stroke="#1f9e89" stroke-width="1.0" stroke-linecap="round" fill="none"/>
<path d="M229.1,576.3h0M227.7,592.0h0M239.6,585.1h0M222.2,578.9h0M227.5,595.7h0M218.2,586.8h0M211.7,593.8h0M238.5,589.4h0M219.4,590.7h0M240.3,587.6h0M234.7,580.8h0M213.3,585.3h0M227.9,588.5h0M222.4,585.1h0M230.6,592.1h0M211.5,592.2h0M220.3,586.8h0M237.6,584.2h0M215.2,592.7h0M211.9,590.9h0M219.3,587.2h0M227.8,575.4h0M217.6,592.6h0M220.2,589.6h0M226.0,591.5h0M235.9,590.6h0M212.3,590.1h0M224.0,577.0h0M215.1,588.4h0M235.5,583.7h0M233.3,586.8h0M224.2,586.3h0M213.3,589.4h0M210.6,591.3h0M221.7,575.9h0M221.9,595.0h0M223.1,583.6h0M220.2,594.7h0M226.4,578.9h0M228.8,576.0h0M220.9,587.7h0M223.9,588.2h0M231.9,578.8h0M237.2,588.7h0M233.7,579.8h0M233.1,592.7h0M214.6,584.9h0M225.3,594.7h0M236.3,586.2h0M231.4,582.3h0" stroke="#26828e" stroke-width="1.0" stroke-linecap="round" fill="none"/>
<path d="M240.6,581.9h0M217.6,583.5h0M225.6,580.6h0M218.0,593.4h0M240.0,585.9h0M231.1,592.7h0M236.5,579.5h0M233.5,582.5h0M237.3,578.9h0M226.2,574.4h0M234.8,579.5h0M216.9,579.9h0M228.4,580.7h0M230.0,575.1h0M237.4,580.6h0M221.7,594.4h0M238.6,590.0h0M241.0,586.6h0M232.1,592.8h0M213.1,590.8h0M214.2,581.9h0M240.5,581.8h0M217.8,580.5h0M226.5,578.9h0M230.2,583.0h0M223.8,595.1h0M230.0,581.4h0M223.4,587.3h0M229.0,577.3h0M216.0,591.2h0M239.5,584.5h0M227.3,576.3h0M232.7,585.0h0M235.0,590.8h0M236.9,577.7h0M229.1,587.9h0M236.0,585.3h0M229.2,574.1h0M218.1,595.8h0M238.4,578.3h0M227.3,592.6h0M232.9,580.3h0M211.5,588.3h0M230.2,576.3h0M223.4,575.9h0M215.0,594.2h0M224.8,578.2h0M217.1,592.1h0M224.0,582.6h0M230.6,582.1h0M232.2,589.9h0M240.1,582.9h0M216.8,595.4h0M220.5,576.1h0M238.6,585.2h0M213.5,591.0h0M239.9,589.7h0M211.5,589.1h0M225.3,581.7h0M219.0,587.7h0M211.4,590.5h0M222.5,580.6h0M216.3,592.1h0M224.0,585.2h0M231.0,579.0h0M233.0,592.2h0M234.2,582.0h0M238.4,588.1h0M226.1,575.5h0M226.0,594.4h0M213.7,594.7h0M234.7,578.6h0M222.3,585.5h0M224.1,578.3h0" stroke="#35b779" stroke-width="1.0" stroke-linecap="round" fill="none"/>
<path d="M227.0,579.5h0M226.5,591.7h0M240.7,587.7h0M237.7,578.8h0M221.4,584.1h0M227.0,589.8h0M238.0,582.9h0M216.6,582.0h0M225.3,588.5h0M236.5,590.7h0M217.7,589.3h0M223.2,581.0h0M231.0,577.8h0M219.7,579.9h0M227.5,581.0h0M217.2,586.7h0M221.2,578.6h0M234.3,590.4h0M227.0,594.1h0M229.6,590.5h0M238.9,579.2h0M215.9,583.1h0M222.0,584.9h0M213.8,586.9h0M234.2,578.0h0M215.2,580.7h0M231.7,583.3h0M237.9,580.7h0M222.4,578.3h0M212.5,587.4h0M225.7,577.9h0M219.7,593.6h0M224.5,589.2h0M224.9,587.5h0M219.0,579.0h0M222.8,587.2h0M226.9,586.7h0M231.5,583.9h0M233.4,583.2h0M225.6,579.1h0M213.1,587.5h0M225.9,591.5h0M221.8,582.0h0M226.3,585.2h0M222.5,593.4h0M229.0,577.7h0M222.3,588.6h0M218.9,577.2h0M229.2,585.2h0M223.8,581.2h0M229.2,578.7h0M222.2,581.7h0M230.6,593.7h0M241.9,583.5h0M238.1,586.2h0M227.1,575.5h0M230.7,576.1h0M217.5,587.8h0M209.6,593.7h0M233.7,588.2h0M217.5,580.3h0M221.9,591.7h0M232.7,574.8h0M230.5,586.1h0M228.2,586.2h0M216.0,581.9h0" stroke="#2a8f86" stroke-width="1.0" stroke-linecap="round" fill="none"/>
<path d="M217.1,617.1h0M235.6,590.4h0M214.1,590.3h0M234.6,590.0h0M216.8,608.8h0M222.9,609.7h0M225.3,591.3h0M219.1,593.9h0M207.3,607.7h0M214.9,604.0h0M214.9,618.2h0M212.6,615.3h0M211.0,610.4h0M208.0,601.2h0M210.2,622.2h0M217.3,617.8h0M213.8,606.8h0M220.5,616.2h0M218.2,590.1h0M219.3,603.4h0M209.2,619.3h0M212.2,620.5h0M226.8,595.7h0M222.0,595.8h0M221.8,598.9h0M230.8,593.9h0M232.5,592.6h0M207.3,603.2h0M216.6,596.2h0M217.3,596.1h0M222.8,610.4h0M216.0,600.4h0M221.2,606.5h0M221.3,595.6h0M212.7,609.4h0M207.5,611.5h0M215.3,619.6h0M219.4,599.8h0M224.4,615.5h0M215.9,609.7h0M220.3,597.9h0M213.6,613.3h0" stroke="#6ece58" stroke-width="1.0" stroke-linecap="round" fill="none"/>
<path d="M212.7,597.7h0M212.8,602.7h0M209.5,605.1h0M210.8,622.1h0M226.3,600.1h0M208.1,608.7h0M218.7,617.2h0M209.7,597.0h0M207.2,603.6h0M221.3,606.4h0M218.2,614.7h0M223.4,603.3h0M209.9,617.4h0M221.6,598.2h0M213.2,607.6h0M225.4,598.9h0M212.6,606.4h0M217.4,618.0h0M209.6,603.9h0M209.8,598.2h0M214.5,605.9h0M225.2,603.0h0M211.6,606.0h0M221.9,599.5h0M213.4,607.1h0M216.6,608.7h0M217.3,592.7h0M208.4,607.1h0M211.1,602.8h0M229.8,595.6h0M212.8,615.2h0M222.1,617.6h0M209.3,616.0h0M208.8,615.6h0M223.0,610.1h0M232.9,591.7h0M214.9,623.4h0M213.3,594.7h0M220.8,597.3h0M224.4,599.8h0M231.6,593.2h0M218.4,595.5h0M224.5,594.3h0M212.4,595.1h0M214.7,598.4h0M211.9,606.1h0M216.2,619.8h0M226.1,595.5h0M221.5,601.0h0M233.7,592.6h0M225.5,592.5h0M220.9,595.4h0M220.1,600.5h0M227.3,594.5h0M210.9,605.6h0M219.0,608.8h0M222.0,600.0h0" stroke="#35b779" stroke-width="1.0" stroke-linecap="round" fill="none"/>
<path d="M235.2,590.4h0M221.7,616.6h0M209.7,596.3h0M209.9,615.7h0M219.8,613.0h0M212.0,598.1h0M222.5,598.8h0M215.6,621.4h0M210.5,595.3h0M209.0,609.4h0M215.4,610.4h0M224.2,599.7h0M219.1,594.7h0M226.6,600.7h0M223.6,602.0h0M212.8,616.9h0M210.8,621.3h0M221.5,604.5h0M217.0,621.7h0M219.5,609.5h0M226.1,601.2h0M212.3,596.9h0M209.1,604.0h0M215.5,619.9h0M208.7,611.2h0M215.2,590.0h0M217.8,600.1h0M224.5,596.5h0M208.0,615.0h0M219.8,597.1h0M221.1,617.5h0M224.4,600.1h0M221.6,596.0h0M224.9,611.6h0M212.0,614.3h0M217.6,608.8h0M220.3,612.0h0M217.0,601.0h0M210.5,591.5h0M214.3,607.1h0M216.6,621.6h0M208.2,614.7h0M207.7,603.9h0M209.4,594.5h0M212.0,613.8h0M222.9,603.1h0M221.5,616.3h0M222.3,600.2h0M219.4,603.8h0M219.3,620.2h0M212.7,602.6h0M218.2,606.7h0M219.9,610.2h0M220.0,619.9h0M221.8,590.4h0M225.3,603.4h0M214.3,618.9h0M218.0,606.5h0" stroke="#b5de2b" stroke-width="1.0" stroke-linecap="round" fill="none"/>
<path d="M208.5,611.6h0M221.9,596.4h0M210.8,620.4h0M215.5,594.5h0M219.4,600.3h0M220.3,605.0h0M224.4,610.9h0M215.9,607.8h0M223.9,604.8h0M223.1,617.4h0M223.4,602.1h0M224.0,597.6h0M219.6,608.0h0M212.2,613.1h0M223.8,593.2h0M216.7,612.7h0M220.8,620.2h0M216.4,594.9h0M217.3,599.2h0M218.4,595.4h0M208.2,603.9h0M209.3,607.1h0M216.4,622.3h0M219.6,608.9h0M220.8,603.8h0M232.4,591.7h0M223.4,599.6h0M224.0,594.9h0M221.3,603.0h0M211.1,590.8h0M227.7,594.0h0M215.1,593.9h0M220.5,607.9h0M218.5,605.8h0M212.1,594.3h0M226.0,599.7h0M222.7,597.0h0M214.2,605.9h0M220.6,593.7h0M220.4,596.9h0M218.7,593.5h0M219.0,620.6h0M223.2,598.5h0M219.3,601.2h0M237.9,590.2h0M219.4,594.5h0M225.2,601.5h0M227.5,590.7h0M221.1,595.1h0M220.5,619.1h0" stroke="#8fd744" stroke-width="1.0" stroke-linecap="round" fill="none"/>
<path d="M212.7,605.6h0M215.8,590.6h0M223.8,598.2h0M226.2,603.1h0M225.3,594.7h0M228.9,594.3h0M223.9,613.6h0M224.4,601.2h0M217.3,590.6h0M222.2,600.8h0M213.0,605.5h0M220.2,612.5h0M223.4,616.4h0M220.1,617.7h0M217.4,600.0h0M220.8,601.8h0M212.0,591.0h0M228.8,593.5h0M214.2,593.0h0M217.6,608.8h0M224.0,594.8h0M228.3,591.3h0M217.6,597.5h0M221.5,615.7h0M210.4,599.2h0M216.4,605.7h0M226.7,596.5h0M217.1,621.3h0M226.3,602.4h0M227.3,594.7h0M213.5,611.0h0M225.1,598.5h0M210.4,606.8h0M231.6,592.2h0M224.3,599.7h0M209.4,609.8h0M219.7,617.1h0M209.9,603.1h0M218.6,608.9h0M224.4,595.3h0M212.7,617.3h0M227.8,590.4h0M207.2,615.5h0M213.5,593.2h0M216.9,605.2h0M223.6,598.5h0M210.3,614.1h0M230.8,594.3h0M210.7,614.9h0M210.4,606.5h0M213.9,606.7h0M221.9,619.5h0M209.5,620.2h0" stroke="#1f9e89" stroke-width="1.0" stroke-linecap="round" fill="none"/>
<path d="M224.6,593.9h0M233.6,590.0h0M224.4,593.4h0M224.8,591.3h0M228.9,590.6h0M231.4,589.1h0M226.2,599.1h0M225.7,607.9h0M225.7,591.6h0M232.0,592.9h0M225.0,612.6h0M224.2,595.8h0M225.6,607.3h0M236.1,589.7h0M224.1,589.0h0M232.5,590.6h0M228.3,595.0h0M227.9,593.4h0M230.1,588.7h0M231.1,592.2h0M225.3,611.0h0M224.7,599.7h0M240.0,588.9h0M227.3,590.2h0M233.0,589.8h0M225.8,599.2h0M224.3,590.7h0M234.1,590.0h0M233.4,592.7h0M224.1,591.8h0M232.4,590.6h0M230.4,593.7h0M240.8,589.7h0M226.4,602.1h0M224.1,603.2h0M225.4,590.0h0M226.0,600.6h0M225.4,589.3h0M234.5,591.0h0M226.4,595.9h0" stroke="#ffffff" stroke-width="0.9" stroke-linecap="round" fill="none"/>
<path d="M230,592 L241,588 L243,596 L241,606 L236,612 L228,612 L226,604Z" fill="#7fcf8a" fill-opacity="0.55"/>
<path d="M230.7,610.0h0M232.3,599.0h0M240.6,595.3h0M235.5,601.9h0M235.0,601.7h0M229.0,595.6h0M241.9,599.3h0M228.2,607.5h0M240.3,605.5h0M232.2,611.6h0M237.8,592.4h0M231.7,608.4h0M228.3,608.2h0M239.5,595.6h0M236.3,600.6h0M229.9,605.8h0M233.8,599.0h0M239.4,604.0h0M234.2,611.1h0M228.2,604.4h0M236.3,593.5h0M231.9,596.3h0M232.7,595.3h0M239.7,593.8h0M234.8,595.9h0M236.4,607.6h0M233.9,593.9h0M233.0,595.4h0M230.0,601.6h0M237.4,609.4h0M239.0,593.8h0M231.2,608.0h0M230.1,600.7h0M232.9,602.5h0M233.1,601.3h0M234.1,598.6h0M240.4,598.0h0M233.4,598.3h0" stroke="#35b779" stroke-width="1.1" stroke-linecap="round" fill="none"/>
<path d="M233.3,597.8h0M241.0,595.6h0M237.6,594.7h0M232.5,596.4h0M229.7,610.1h0M229.3,597.9h0M230.1,597.9h0M239.8,598.6h0M241.0,593.5h0M235.3,610.0h0M237.8,597.5h0M240.7,598.4h0M237.8,601.3h0M232.4,596.8h0M229.9,610.7h0M232.6,601.5h0M230.6,595.0h0M233.4,608.7h0M238.4,607.6h0M228.8,609.0h0M240.0,588.8h0M234.8,595.8h0M237.7,602.7h0M239.0,589.5h0M240.4,589.9h0M231.9,597.8h0M233.4,597.7h0M237.9,596.9h0M238.1,608.8h0M237.1,601.1h0M236.7,593.8h0M232.6,608.8h0M228.2,609.1h0M230.0,606.7h0M227.6,605.9h0M239.3,607.9h0M239.6,591.0h0M242.0,595.7h0M234.5,594.3h0M229.7,598.5h0M237.2,603.1h0M230.2,606.4h0M239.2,603.6h0M227.3,605.1h0M242.2,594.3h0M231.9,600.6h0M236.3,592.9h0M242.1,599.6h0M230.6,596.5h0" stroke="#1f9e89" stroke-width="1.1" stroke-linecap="round" fill="none"/>
<path d="M227.4,602.6h0M233.6,604.7h0M236.3,600.6h0M231.9,605.5h0M233.0,611.2h0M236.4,593.4h0M231.8,596.7h0M236.7,598.2h0M235.7,606.7h0M228.5,598.0h0M235.3,592.6h0M234.9,594.9h0M236.3,591.3h0M236.0,592.3h0M231.5,592.1h0M236.8,599.1h0M235.9,602.2h0M233.7,601.8h0M236.7,609.9h0M240.0,597.7h0M238.0,591.1h0M237.8,607.9h0M229.6,595.9h0M236.4,608.4h0M232.8,606.3h0M242.2,598.6h0M235.6,593.0h0M236.3,590.9h0M237.8,596.6h0M240.1,597.0h0M228.8,609.5h0M235.6,601.0h0M236.1,604.1h0M227.9,610.9h0M241.7,592.1h0M234.3,598.8h0" stroke="#6ece58" stroke-width="1.1" stroke-linecap="round" fill="none"/>
<path d="M238.7,600.6h0M240.8,595.4h0M230.2,598.8h0M235.3,611.8h0M233.4,591.0h0M231.6,595.4h0M230.8,597.5h0M236.4,611.3h0M235.4,591.6h0M233.4,604.9h0M233.4,600.5h0M241.9,594.9h0M232.3,605.7h0M236.2,590.8h0M230.5,604.7h0M231.4,611.5h0M236.5,599.4h0M228.2,602.3h0M236.0,597.7h0M240.4,593.4h0M234.4,594.6h0M240.5,596.6h0M241.5,601.5h0M226.7,602.2h0M241.2,594.1h0M227.3,608.9h0M239.6,593.8h0M228.8,599.9h0M231.9,596.9h0M231.0,594.4h0M236.3,602.1h0M233.9,598.6h0M228.3,603.8h0M235.1,592.9h0M234.6,595.2h0M235.3,608.5h0M235.0,595.2h0M231.6,611.4h0M235.6,603.6h0M234.7,590.6h0M227.2,602.3h0M236.7,600.5h0M232.0,606.2h0" stroke="#2a8f86" stroke-width="1.1" stroke-linecap="round" fill="none"/>
<path d="M237.0,610.5h0M232.5,593.7h0M229.9,597.8h0M240.1,590.0h0M239.3,604.6h0M231.9,593.0h0M241.6,592.1h0M229.9,607.0h0M237.8,609.0h0M239.1,601.7h0M235.5,593.5h0M234.2,601.1h0M234.5,592.3h0M228.7,600.0h0M238.5,601.4h0M241.1,596.7h0M236.4,592.7h0M240.4,592.5h0M234.8,606.5h0M241.1,593.4h0M229.0,601.5h0M231.6,603.9h0M229.2,606.4h0M229.7,609.7h0M236.5,597.7h0M237.7,590.9h0M238.2,608.5h0M233.9,602.2h0M239.0,595.6h0M236.6,591.9h0M235.5,606.1h0M235.1,603.6h0M237.4,596.1h0M239.8,606.0h0" stroke="#b5de2b" stroke-width="1.1" stroke-linecap="round" fill="none"/>
<line x1="240" y1="579" x2="245" y2="580.5" stroke="#2a9d7a" stroke-width="0.8"/>
<path d="M284.1,568.9h0M279.4,563.3h0M292.1,566.0h0M295.5,576.7h0M287.1,566.3h0M281.1,582.6h0M285.3,579.4h0M298.2,575.4h0M295.7,578.8h0M282.9,562.7h0M291.0,560.9h0M291.4,562.5h0M290.7,582.9h0M295.1,570.4h0M289.8,590.0h0M294.9,574.5h0M297.0,574.6h0M288.1,581.6h0M291.4,579.2h0M289.7,580.8h0M282.7,560.0h0M289.7,568.5h0M293.0,581.7h0M289.7,570.3h0M279.0,578.7h0M288.2,583.7h0M281.2,583.3h0M280.8,578.7h0M276.6,565.7h0M279.1,567.6h0M296.4,568.3h0M298.6,579.3h0M288.6,560.1h0M289.3,559.5h0M283.8,554.9h0M296.7,572.4h0M284.8,581.9h0M282.1,570.5h0M284.8,562.0h0M276.5,579.5h0M285.0,565.7h0M287.2,556.0h0M282.3,566.6h0M288.2,566.0h0M285.1,564.5h0M282.6,554.2h0M288.1,573.2h0M292.1,581.8h0M279.2,563.8h0M293.8,567.5h0M280.0,567.8h0M296.2,583.2h0M289.4,569.7h0M282.7,575.2h0M278.2,564.9h0M290.0,575.3h0M286.5,567.2h0M296.2,568.4h0M289.0,589.8h0M284.4,554.7h0" stroke="#26828e" stroke-width="1.0" stroke-linecap="round" fill="none"/>
<path d="M297.8,566.2h0M283.7,563.1h0M293.2,562.0h0M297.4,566.0h0M293.1,571.9h0M290.5,580.3h0M276.5,579.4h0M288.8,565.7h0M294.1,583.6h0M292.7,579.5h0M284.7,574.2h0M292.1,590.9h0M293.9,575.8h0M291.7,575.1h0M293.4,572.3h0M294.1,583.4h0M294.9,578.4h0M288.8,575.0h0M278.1,573.2h0M293.9,576.6h0M289.7,562.7h0M296.1,577.6h0M278.3,564.2h0M279.0,578.4h0M283.0,584.1h0M286.2,557.7h0M294.7,574.2h0M284.0,587.8h0M289.5,566.6h0M286.6,563.4h0M287.8,570.5h0M277.6,568.0h0M289.0,578.3h0M290.1,568.4h0M290.5,574.3h0M287.8,559.6h0M292.0,562.2h0M294.4,584.8h0M283.0,565.4h0M291.7,579.1h0M275.4,571.5h0M299.9,577.0h0M281.9,565.5h0M299.7,572.5h0M285.3,575.7h0M295.2,578.1h0M291.2,588.0h0M286.3,559.6h0M288.4,584.0h0M286.0,560.9h0M294.4,582.3h0M290.9,567.4h0M277.5,567.5h0M288.0,585.7h0M283.1,572.0h0M286.4,565.1h0M298.0,580.1h0M283.6,581.7h0M287.3,585.9h0M298.2,573.4h0M287.9,577.5h0M282.8,570.6h0" stroke="#1f9e89" stroke-width="1.0" stroke-linecap="round" fill="none"/>
<path d="M289.9,565.2h0M291.8,562.2h0M288.4,564.7h0M298.3,583.6h0M293.8,591.4h0M298.4,575.3h0M280.0,582.0h0M294.5,573.4h0M290.9,577.0h0M287.4,587.5h0M283.2,573.2h0M296.5,584.4h0M282.7,583.0h0M288.4,557.2h0M294.6,565.7h0M283.3,573.9h0M294.5,583.1h0M277.8,576.4h0M294.7,577.6h0M285.1,577.9h0M286.5,569.9h0M292.0,564.7h0M288.1,569.1h0M278.2,575.3h0M291.1,557.9h0M288.9,564.3h0M298.4,581.1h0M294.6,579.7h0M298.1,572.5h0M282.6,553.7h0M291.7,577.8h0M295.5,572.1h0M292.4,581.1h0M290.0,563.8h0M286.3,577.8h0M285.5,563.4h0M290.1,563.7h0M288.4,581.1h0M287.9,577.6h0M286.8,577.0h0M289.7,574.1h0M284.2,579.3h0M296.1,566.4h0M277.9,572.9h0M290.6,563.4h0M283.9,560.6h0M290.7,586.5h0M282.4,565.6h0M285.2,553.4h0M280.1,567.0h0M292.2,561.3h0M285.5,560.7h0M296.6,575.8h0M284.9,584.2h0M295.9,582.2h0M290.0,561.9h0M281.7,576.6h0" stroke="#35b779" stroke-width="1.0" stroke-linecap="round" fill="none"/>
<path d="M282.8,580.9h0M287.8,590.1h0M289.0,565.9h0M285.2,567.7h0M289.0,586.3h0M287.0,566.1h0M279.2,574.9h0M285.6,558.9h0M295.8,562.6h0M294.6,585.4h0M278.1,561.6h0M293.2,567.2h0M296.1,589.9h0M285.5,561.5h0M297.3,580.1h0M281.9,580.9h0M279.4,575.3h0M296.0,581.3h0M279.2,569.2h0M281.2,566.9h0M284.8,569.1h0M291.5,574.4h0M277.4,579.6h0M294.1,567.3h0M288.7,560.8h0M293.1,577.9h0M294.8,569.1h0M292.4,586.0h0M287.3,558.9h0M289.5,577.1h0M292.9,590.0h0M279.3,559.8h0M282.5,556.2h0M290.6,580.0h0M291.9,577.3h0M278.9,579.2h0M293.7,566.2h0M287.1,572.0h0M296.5,576.9h0M291.4,590.0h0M278.3,565.0h0M293.0,569.2h0M278.5,567.1h0M290.1,556.7h0M278.3,561.6h0M292.5,565.3h0M298.7,586.1h0M281.3,557.6h0M291.4,572.9h0M284.2,587.7h0M297.8,570.9h0M282.8,560.1h0M285.6,555.5h0M289.4,561.8h0M280.9,573.6h0M295.8,583.8h0M290.4,586.8h0M293.1,581.9h0M283.5,574.3h0M281.8,560.7h0M293.0,588.4h0M292.5,563.0h0M287.0,572.9h0M280.0,582.5h0M295.3,582.3h0M297.1,577.6h0M294.6,566.5h0M286.5,555.6h0M280.9,560.5h0M292.0,568.6h0M283.7,558.2h0M290.2,560.8h0M292.3,570.7h0M286.6,583.6h0M291.2,585.9h0M277.9,576.1h0M290.6,585.2h0M290.0,563.0h0M286.1,585.8h0M297.6,579.8h0M289.0,565.2h0" stroke="#3e8f8a" stroke-width="1.0" stroke-linecap="round" fill="none"/>
<path d="M287.5,571.9h0M291.1,572.2h0M287.0,568.7h0M291.4,567.8h0M289.7,567.1h0M291.1,580.2h0M290.8,574.7h0M294.3,586.8h0M290.8,576.4h0M293.2,586.6h0M289.9,572.1h0M291.6,577.8h0M286.7,569.7h0M289.1,563.2h0M289.9,565.3h0M285.9,561.4h0M292.4,579.5h0M291.3,584.7h0M288.1,565.8h0M289.4,573.4h0M293.4,582.3h0M291.6,578.3h0M294.3,582.9h0M288.6,571.8h0M287.4,569.7h0M288.0,563.5h0M291.4,585.1h0M288.3,566.4h0M293.7,574.2h0" stroke="#ffffff" stroke-width="0.9" stroke-linecap="round" fill="none"/>
<path d="M291.0,577.9h0M292.9,578.6h0M289.4,576.6h0M288.7,576.1h0M288.3,574.9h0M294.7,587.3h0M292.0,585.7h0M288.4,563.2h0M295.1,584.8h0M285.6,561.8h0M291.0,570.4h0M292.5,582.9h0M293.5,579.7h0M287.2,567.9h0M293.1,584.0h0M289.3,576.4h0M291.6,572.7h0M290.8,571.0h0M286.4,561.4h0M288.6,572.4h0" stroke="#6ece58" stroke-width="0.9" stroke-linecap="round" fill="none"/>
<path d="M289.4,567.2h0M294.1,576.9h0M289.2,576.4h0M290.9,580.4h0M295.0,583.8h0M289.3,575.7h0M291.9,583.5h0M294.8,587.6h0M290.0,578.7h0M287.0,567.9h0M295.2,583.6h0" stroke="#1f9e89" stroke-width="0.9" stroke-linecap="round" fill="none"/>
<path d="M280.5,620.2h0M284.9,624.3h0M280.8,606.6h0M279.9,627.4h0M283.6,628.6h0M278.6,640.6h0M282.1,615.2h0M291.9,640.7h0M284.5,648.6h0M281.5,625.1h0M289.8,635.0h0M290.2,635.9h0M283.1,609.1h0M282.3,615.5h0M281.1,601.5h0M284.4,644.4h0M285.0,640.4h0M280.3,624.2h0M282.1,604.7h0M287.7,633.7h0M280.1,622.6h0M289.9,644.6h0M285.1,640.9h0M281.6,629.7h0M283.4,634.1h0M283.0,622.9h0M286.1,633.5h0M280.3,639.9h0M284.6,605.2h0M285.2,619.6h0M284.7,602.8h0M292.8,638.0h0M293.0,636.1h0M278.6,642.5h0M280.3,604.2h0M290.6,622.3h0M283.5,623.5h0M283.4,601.3h0M288.5,620.9h0M278.0,626.6h0M285.5,603.7h0M280.5,615.5h0M280.4,637.4h0M284.2,626.9h0M291.7,631.3h0M287.9,641.0h0M282.4,646.3h0M285.5,629.9h0M288.1,639.4h0M290.7,634.9h0M279.2,645.1h0M290.8,637.5h0M280.5,645.7h0M290.2,618.7h0M285.8,609.1h0M288.9,613.0h0M286.9,610.1h0M283.1,643.5h0M282.3,615.1h0M286.3,640.9h0M288.3,629.4h0" stroke="#fde725" stroke-width="1.0" stroke-linecap="round" fill="none"/>
<path d="M282.5,630.6h0M281.6,632.9h0M285.2,647.5h0M290.8,640.2h0M284.0,633.3h0M290.9,626.0h0M276.3,624.7h0M280.9,603.5h0M281.0,618.6h0M282.5,630.4h0M287.2,608.3h0M284.6,644.2h0M291.4,623.8h0M276.6,620.3h0M291.6,636.8h0M289.2,618.9h0M286.5,620.7h0M281.1,623.3h0M278.7,607.4h0M282.6,609.5h0M278.1,608.8h0M287.8,642.1h0M280.5,646.6h0M278.8,639.7h0M287.7,637.2h0M292.6,639.2h0M285.8,621.7h0M284.9,610.0h0M279.1,617.4h0M277.1,631.1h0M289.1,619.0h0M285.3,613.3h0M282.5,597.4h0M281.8,598.3h0M279.3,625.3h0M279.6,602.3h0M282.4,623.7h0M282.7,602.2h0M288.4,633.1h0M290.0,636.7h0M288.6,646.3h0M280.6,630.1h0M278.2,612.4h0M276.2,628.6h0M281.1,628.4h0M284.7,613.0h0M287.5,615.4h0M277.3,638.5h0M276.5,633.0h0M280.0,609.8h0M286.6,613.7h0M283.4,599.0h0M279.6,639.0h0M285.2,608.7h0M280.3,639.6h0M278.1,616.9h0M286.3,628.2h0M289.3,621.7h0" stroke="#d8e219" stroke-width="1.0" stroke-linecap="round" fill="none"/>
<path d="M285.7,624.3h0M283.6,611.1h0M283.3,624.4h0M284.4,628.7h0M284.9,611.6h0M280.0,647.5h0M281.4,613.8h0M289.2,646.6h0M275.8,627.5h0M279.7,631.9h0M282.4,610.5h0M284.7,618.7h0M289.7,632.2h0M285.0,625.4h0M282.1,647.0h0M290.0,623.0h0M279.3,617.2h0M277.3,635.1h0M279.0,616.3h0M280.8,614.6h0M289.3,628.6h0M289.6,639.6h0M287.0,624.0h0M285.6,642.6h0M286.1,636.1h0M285.5,629.3h0M278.0,612.8h0M290.7,621.7h0M282.0,638.6h0M280.4,622.7h0M278.5,616.3h0M284.3,645.1h0M284.1,626.4h0M281.7,614.8h0M279.3,614.8h0M282.9,647.0h0M281.7,622.6h0M283.7,637.4h0M282.9,605.3h0M290.5,642.0h0M278.5,612.2h0M285.4,646.0h0M277.7,638.8h0M281.9,615.3h0M290.0,618.4h0M284.7,634.8h0M280.8,612.2h0M290.2,621.5h0M287.5,609.5h0M287.6,647.1h0M277.0,612.4h0M281.2,609.9h0M289.7,632.0h0M284.1,647.3h0M278.6,625.7h0M290.9,644.3h0M286.6,612.3h0M291.6,631.2h0M290.9,632.8h0" stroke="#b5de2b" stroke-width="1.0" stroke-linecap="round" fill="none"/>
<path d="M292.5,633.1h0M279.6,643.7h0M279.0,632.2h0M284.3,624.7h0M284.6,633.0h0M278.9,639.8h0M279.6,618.0h0M281.7,645.9h0M287.0,614.1h0M288.4,626.6h0M286.5,618.6h0M288.0,643.7h0M285.6,610.4h0M289.2,623.0h0M291.4,638.3h0M284.7,640.6h0M285.7,635.7h0M284.9,633.6h0M279.0,636.6h0M285.1,644.8h0M287.0,646.5h0M280.6,647.7h0M282.3,609.5h0M288.3,639.0h0M279.5,615.7h0M287.5,638.5h0M284.7,614.4h0M284.3,631.8h0M280.6,622.1h0M283.8,637.1h0M290.7,645.4h0M289.0,640.9h0M280.5,631.3h0M285.0,616.5h0M287.1,634.2h0M281.6,619.6h0M276.8,620.1h0M281.4,624.3h0M281.5,623.2h0M286.7,626.4h0M278.0,621.9h0M288.3,645.7h0M286.2,627.1h0M287.0,633.8h0M285.2,610.2h0M281.9,611.9h0M278.6,610.1h0M283.3,627.3h0M281.0,639.4h0M288.1,647.0h0M279.2,622.2h0M277.1,623.5h0M284.1,645.8h0M292.0,638.7h0M288.4,614.0h0M278.6,629.4h0M285.1,618.1h0M279.5,602.6h0M284.1,629.6h0M286.5,625.8h0M282.8,605.0h0" stroke="#eef26a" stroke-width="1.0" stroke-linecap="round" fill="none"/>
<path d="M280.7,638.9h0M277.6,631.1h0M282.3,648.2h0M281.0,619.9h0M281.3,642.9h0M283.9,648.2h0M285.1,632.6h0M283.7,636.8h0M285.0,633.4h0M285.1,647.9h0M277.3,624.1h0M285.1,614.7h0M280.6,606.5h0M278.9,614.6h0M286.5,615.0h0M289.6,626.3h0M278.5,614.0h0M281.0,614.8h0M282.2,647.1h0M286.3,629.0h0M289.5,621.0h0M284.0,632.0h0M282.2,612.9h0M281.7,610.5h0M276.9,625.0h0M284.5,608.1h0M279.6,615.3h0M280.6,638.9h0M285.0,636.5h0M288.6,612.6h0M280.2,615.6h0M280.2,603.3h0M282.8,630.2h0M288.6,635.5h0M290.9,638.5h0M277.6,633.5h0M286.3,610.5h0M291.5,627.2h0M277.8,637.5h0M276.7,626.9h0M281.3,609.5h0M279.3,604.2h0M289.9,633.2h0M288.6,640.4h0M287.3,607.3h0M284.0,637.2h0M287.9,624.8h0M288.8,623.3h0M285.0,639.6h0M291.1,640.4h0M284.8,621.3h0M282.4,631.5h0M284.1,640.8h0M289.4,624.3h0M284.9,636.4h0M290.5,626.2h0M292.0,643.5h0M280.1,620.9h0M282.7,641.6h0M280.8,646.3h0M278.9,636.5h0" stroke="#ffffff" stroke-width="1.0" stroke-linecap="round" fill="none"/>
<path d="M280.8,609.8h0M280.1,608.7h0M278.4,608.9h0M284.7,605.4h0M285.6,603.5h0M284.0,599.2h0M284.3,602.1h0M285.4,609.2h0M279.1,608.3h0M279.7,605.7h0M284.4,609.0h0M287.0,607.1h0M282.5,605.8h0M280.4,603.5h0M281.1,609.3h0M282.6,606.3h0M285.8,607.5h0M281.3,603.8h0M285.0,603.1h0M286.1,607.3h0" stroke="#6ece58" stroke-width="0.9" stroke-linecap="round" fill="none"/>
<path d="M284.2,607.3h0M284.5,609.7h0M287.2,605.6h0M287.3,608.2h0M285.8,606.8h0M282.0,606.6h0M280.8,601.6h0M284.4,609.8h0M282.7,605.8h0M284.0,606.6h0M285.8,605.9h0M282.6,607.9h0M280.0,607.8h0M279.7,609.5h0M282.5,600.2h0M278.8,609.3h0M283.5,599.9h0M284.4,603.8h0M279.3,606.7h0M284.6,600.7h0" stroke="#35b779" stroke-width="0.9" stroke-linecap="round" fill="none"/>
<path d="M284.3,597.3h0M285.9,595.4h0M286.5,594.7h0M285.5,591.9h0M287.5,595.0h0M288.0,598.1h0M285.1,590.7h0M282.9,597.7h0M286.5,597.0h0" stroke="#35b779" stroke-width="0.9" stroke-linecap="round" fill="none"/>
<path d="M287.4,596.6h0M283.1,592.7h0M289.2,596.8h0M288.5,596.1h0M287.8,597.1h0M283.7,595.0h0M284.8,597.5h0M284.4,594.4h0M290.3,593.9h0M289.1,594.8h0M284.2,594.9h0M285.0,596.1h0M285.0,598.1h0" stroke="#6ece58" stroke-width="0.9" stroke-linecap="round" fill="none"/>
<path d="M286.8,598.0h0M283.9,595.5h0M284.7,594.2h0M287.9,597.9h0M285.5,597.9h0M282.7,598.0h0M284.3,593.2h0M286.1,592.7h0" stroke="#1f9e89" stroke-width="0.9" stroke-linecap="round" fill="none"/>
<path d="M265,597 L268,604 L270.5,606 M268,604 L266,611" fill="none" stroke="#45a873" stroke-width="0.7"/>
<line x1="272" y1="604" x2="273.5" y2="606" stroke="#6ece58" stroke-width="0.6"/>
<text x="355" y="536.5" font-size="10" fill="#000" font-weight="bold">J</text>
<line x1="382.4" y1="549" x2="382.4" y2="640.2" stroke="#222" stroke-width="1.1"/>
<line x1="382.4" y1="639.8" x2="495.5" y2="639.8" stroke="#222" stroke-width="1.1"/>
<text x="378.6" y="552.5" font-size="8.6" text-anchor="end" stroke="#2b2b2b" stroke-width="0.12">8</text>
<line x1="379.8" y1="549.4" x2="382.4" y2="549.4" stroke="#222" stroke-width="0.9"/>
<text x="378.6" y="575.1" font-size="8.6" text-anchor="end" stroke="#2b2b2b" stroke-width="0.12">6</text>
<line x1="379.8" y1="572" x2="382.4" y2="572" stroke="#222" stroke-width="0.9"/>
<text x="378.6" y="597.7" font-size="8.6" text-anchor="end" stroke="#2b2b2b" stroke-width="0.12">4</text>
<line x1="379.8" y1="594.6" x2="382.4" y2="594.6" stroke="#222" stroke-width="0.9"/>
<text x="378.6" y="620.3" font-size="8.6" text-anchor="end" stroke="#2b2b2b" stroke-width="0.12">2</text>
<line x1="379.8" y1="617.2" x2="382.4" y2="617.2" stroke="#222" stroke-width="0.9"/>
<text x="378.6" y="631.6" font-size="8.6" text-anchor="end" stroke="#2b2b2b" stroke-width="0.12">1</text>
<line x1="379.8" y1="628.5" x2="382.4" y2="628.5" stroke="#222" stroke-width="0.9"/>
<text x="378.6" y="642.9" font-size="8.6" text-anchor="end" stroke="#2b2b2b" stroke-width="0.12">0</text>
<line x1="379.8" y1="639.8" x2="382.4" y2="639.8" stroke="#222" stroke-width="0.9"/>
<line x1="386.5" y1="639.8" x2="386.5" y2="642.5" stroke="#222" stroke-width="0.9"/>
<text x="386.5" y="650.3" font-size="8.6" text-anchor="middle" stroke="#2b2b2b" stroke-width="0.12">0</text>
<line x1="421.8" y1="639.8" x2="421.8" y2="642.5" stroke="#222" stroke-width="0.9"/>
<text x="421.8" y="650.3" font-size="8.6" text-anchor="middle" stroke="#2b2b2b" stroke-width="0.12">10</text>
<line x1="457.1" y1="639.8" x2="457.1" y2="642.5" stroke="#222" stroke-width="0.9"/>
<text x="457.1" y="650.3" font-size="8.6" text-anchor="middle" stroke="#2b2b2b" stroke-width="0.12">20</text>
<line x1="492.4" y1="639.8" x2="492.4" y2="642.5" stroke="#222" stroke-width="0.9"/>
<text x="492.4" y="650.3" font-size="8.6" text-anchor="middle" stroke="#2b2b2b" stroke-width="0.12">30</text>
<line x1="404.15" y1="639.8" x2="404.15" y2="641.5" stroke="#222" stroke-width="0.6"/>
<line x1="439.45" y1="639.8" x2="439.45" y2="641.5" stroke="#222" stroke-width="0.6"/>
<line x1="474.75" y1="639.8" x2="474.75" y2="641.5" stroke="#222" stroke-width="0.6"/>
<text x="438.2" y="666.6" font-size="8.6" text-anchor="middle" stroke="#2b2b2b" stroke-width="0.12">Days</text>
<text x="367.5" y="595" font-size="8.6" text-anchor="middle" transform="rotate(-90 367.5 595)" stroke="#2b2b2b" stroke-width="0.12">Relative population size</text>
<text x="386.5" y="555.8" font-size="8.6" stroke="#2b2b2b" stroke-width="0.12"><tspan font-style="italic">n</tspan> = 3</text>
<line x1="382.4" y1="628.5" x2="495.5" y2="628.5" stroke="#333" stroke-width="0.8" stroke-dasharray="1,1.2"/>
<path d="M386.5,628.5 L400.6,633.6 L425.3,633.0 L446.5,630.0 L460.6,628.8 L492.4,628.8" fill="none" stroke="#8fa9d6" stroke-width="1.1"/>
<line x1="400.62" y1="634.15" x2="400.62" y2="633.02" stroke="#8fa9d6" stroke-width="0.9"/>
<line x1="399.02" y1="634.15" x2="402.22" y2="634.15" stroke="#8fa9d6" stroke-width="0.9"/>
<line x1="399.02" y1="633.02" x2="402.22" y2="633.02" stroke="#8fa9d6" stroke-width="0.9"/>
<line x1="425.33" y1="633.58" x2="425.33" y2="632.45" stroke="#8fa9d6" stroke-width="0.9"/>
<line x1="423.73" y1="633.58" x2="426.93" y2="633.58" stroke="#8fa9d6" stroke-width="0.9"/>
<line x1="423.73" y1="632.45" x2="426.93" y2="632.45" stroke="#8fa9d6" stroke-width="0.9"/>
<line x1="446.51" y1="630.76" x2="446.51" y2="629.06" stroke="#8fa9d6" stroke-width="0.9"/>
<line x1="444.91" y1="630.76" x2="448.11" y2="630.76" stroke="#8fa9d6" stroke-width="0.9"/>
<line x1="444.91" y1="629.06" x2="448.11" y2="629.06" stroke="#8fa9d6" stroke-width="0.9"/>
<line x1="460.63" y1="629.86" x2="460.63" y2="627.6" stroke="#8fa9d6" stroke-width="0.9"/>
<line x1="459.03" y1="629.86" x2="462.23" y2="629.86" stroke="#8fa9d6" stroke-width="0.9"/>
<line x1="459.03" y1="627.6" x2="462.23" y2="627.6" stroke="#8fa9d6" stroke-width="0.9"/>
<line x1="492.4" y1="632.34" x2="492.4" y2="625.45" stroke="#8fa9d6" stroke-width="0.9"/>
<line x1="490.8" y1="632.34" x2="494" y2="632.34" stroke="#8fa9d6" stroke-width="0.9"/>
<line x1="490.8" y1="625.45" x2="494" y2="625.45" stroke="#8fa9d6" stroke-width="0.9"/>
<path d="M384.5,630 L388.5,630 L386.5,626.6Z" fill="#fff" stroke="#8fa9d6" stroke-width="0.9"/>
<path d="M398.62,635.08 L402.62,635.08 L400.62,631.68Z" fill="#fff" stroke="#8fa9d6" stroke-width="0.9"/>
<path d="M423.33,634.52 L427.33,634.52 L425.33,631.12Z" fill="#fff" stroke="#8fa9d6" stroke-width="0.9"/>
<path d="M444.51,631.47 L448.51,631.47 L446.51,628.07Z" fill="#fff" stroke="#8fa9d6" stroke-width="0.9"/>
<path d="M458.63,630.34 L462.63,630.34 L460.63,626.94Z" fill="#fff" stroke="#8fa9d6" stroke-width="0.9"/>
<path d="M490.4,630.34 L494.4,630.34 L492.4,626.94Z" fill="#fff" stroke="#8fa9d6" stroke-width="0.9"/>
<path d="M386.5,628.5 L400.6,620.4 L425.3,614.3 L446.5,586.8 L460.6,577.4 L492.4,577.4" fill="none" stroke="#a3234f" stroke-width="1.2"/>
<line x1="400.62" y1="625.34" x2="400.62" y2="616.07" stroke="#a3234f" stroke-width="1"/>
<line x1="399.02" y1="625.34" x2="402.22" y2="625.34" stroke="#a3234f" stroke-width="1"/>
<line x1="399.02" y1="616.07" x2="402.22" y2="616.07" stroke="#a3234f" stroke-width="1"/>
<line x1="425.33" y1="618.56" x2="425.33" y2="610.42" stroke="#a3234f" stroke-width="1"/>
<line x1="423.73" y1="618.56" x2="426.93" y2="618.56" stroke="#a3234f" stroke-width="1"/>
<line x1="423.73" y1="610.42" x2="426.93" y2="610.42" stroke="#a3234f" stroke-width="1"/>
<line x1="446.51" y1="599.35" x2="446.51" y2="573.92" stroke="#a3234f" stroke-width="1"/>
<line x1="444.91" y1="599.35" x2="448.11" y2="599.35" stroke="#a3234f" stroke-width="1"/>
<line x1="444.91" y1="573.92" x2="448.11" y2="573.92" stroke="#a3234f" stroke-width="1"/>
<line x1="460.63" y1="594.03" x2="460.63" y2="562.28" stroke="#a3234f" stroke-width="1"/>
<line x1="459.03" y1="594.03" x2="462.23" y2="594.03" stroke="#a3234f" stroke-width="1"/>
<line x1="459.03" y1="562.28" x2="462.23" y2="562.28" stroke="#a3234f" stroke-width="1"/>
<line x1="492.4" y1="594.03" x2="492.4" y2="561.26" stroke="#a3234f" stroke-width="1"/>
<line x1="490.8" y1="594.03" x2="494" y2="594.03" stroke="#a3234f" stroke-width="1"/>
<line x1="490.8" y1="561.26" x2="494" y2="561.26" stroke="#a3234f" stroke-width="1"/>
<path d="M384.4,627 L388.6,627 L386.5,630.6Z" fill="#fff" stroke="#a3234f" stroke-width="0.9"/>
<path d="M398.52,618.86 L402.72,618.86 L400.62,622.46Z" fill="#fff" stroke="#a3234f" stroke-width="0.9"/>
<path d="M423.23,612.76 L427.43,612.76 L425.33,616.36Z" fill="#fff" stroke="#a3234f" stroke-width="0.9"/>
<path d="M444.41,585.3 L448.61,585.3 L446.51,588.9Z" fill="#fff" stroke="#a3234f" stroke-width="0.9"/>
<path d="M458.53,575.92 L462.73,575.92 L460.63,579.52Z" fill="#fff" stroke="#a3234f" stroke-width="0.9"/>
<path d="M490.3,575.92 L494.5,575.92 L492.4,579.52Z" fill="#fff" stroke="#a3234f" stroke-width="0.9"/>
<text x="400.2" y="612" font-size="8.6" text-anchor="middle" stroke="#2b2b2b" stroke-width="0.12">0.012</text>
<text x="421" y="603.5" font-size="8.6" text-anchor="middle" stroke="#2b2b2b" stroke-width="0.12">0.002</text>
<text x="445.5" y="572.3" font-size="8.6" text-anchor="middle" stroke="#2b2b2b" stroke-width="0.12">0.005</text>
<text x="460.2" y="559" font-size="8.6" text-anchor="middle" stroke="#2b2b2b" stroke-width="0.12">0.006</text>
<text x="491.5" y="559" font-size="8.6" text-anchor="middle" stroke="#2b2b2b" stroke-width="0.12">0.006</text>
<line x1="385.8" y1="680.5" x2="404.2" y2="680.5" stroke="#8fa9d6" stroke-width="1.1"/>
<path d="M392.5,682 L396.5,682 L394.5,678.6Z" fill="#fff" stroke="#8fa9d6" stroke-width="0.9"/>
<text x="408.8" y="683.5" font-size="8.6" stroke="#2b2b2b" stroke-width="0.12">M+2+6+ control</text>
<line x1="385.8" y1="693.4" x2="404.2" y2="693.4" stroke="#a3234f" stroke-width="1.2"/>
<path d="M392.4,691.9 L396.6,691.9 L394.5,695.5Z" fill="#fff" stroke="#a3234f" stroke-width="0.9"/>
<text x="408.8" y="696.4" font-size="8.6" stroke="#2b2b2b" stroke-width="0.12">M+2+6+ CCND2</text></svg>
</body></html>
